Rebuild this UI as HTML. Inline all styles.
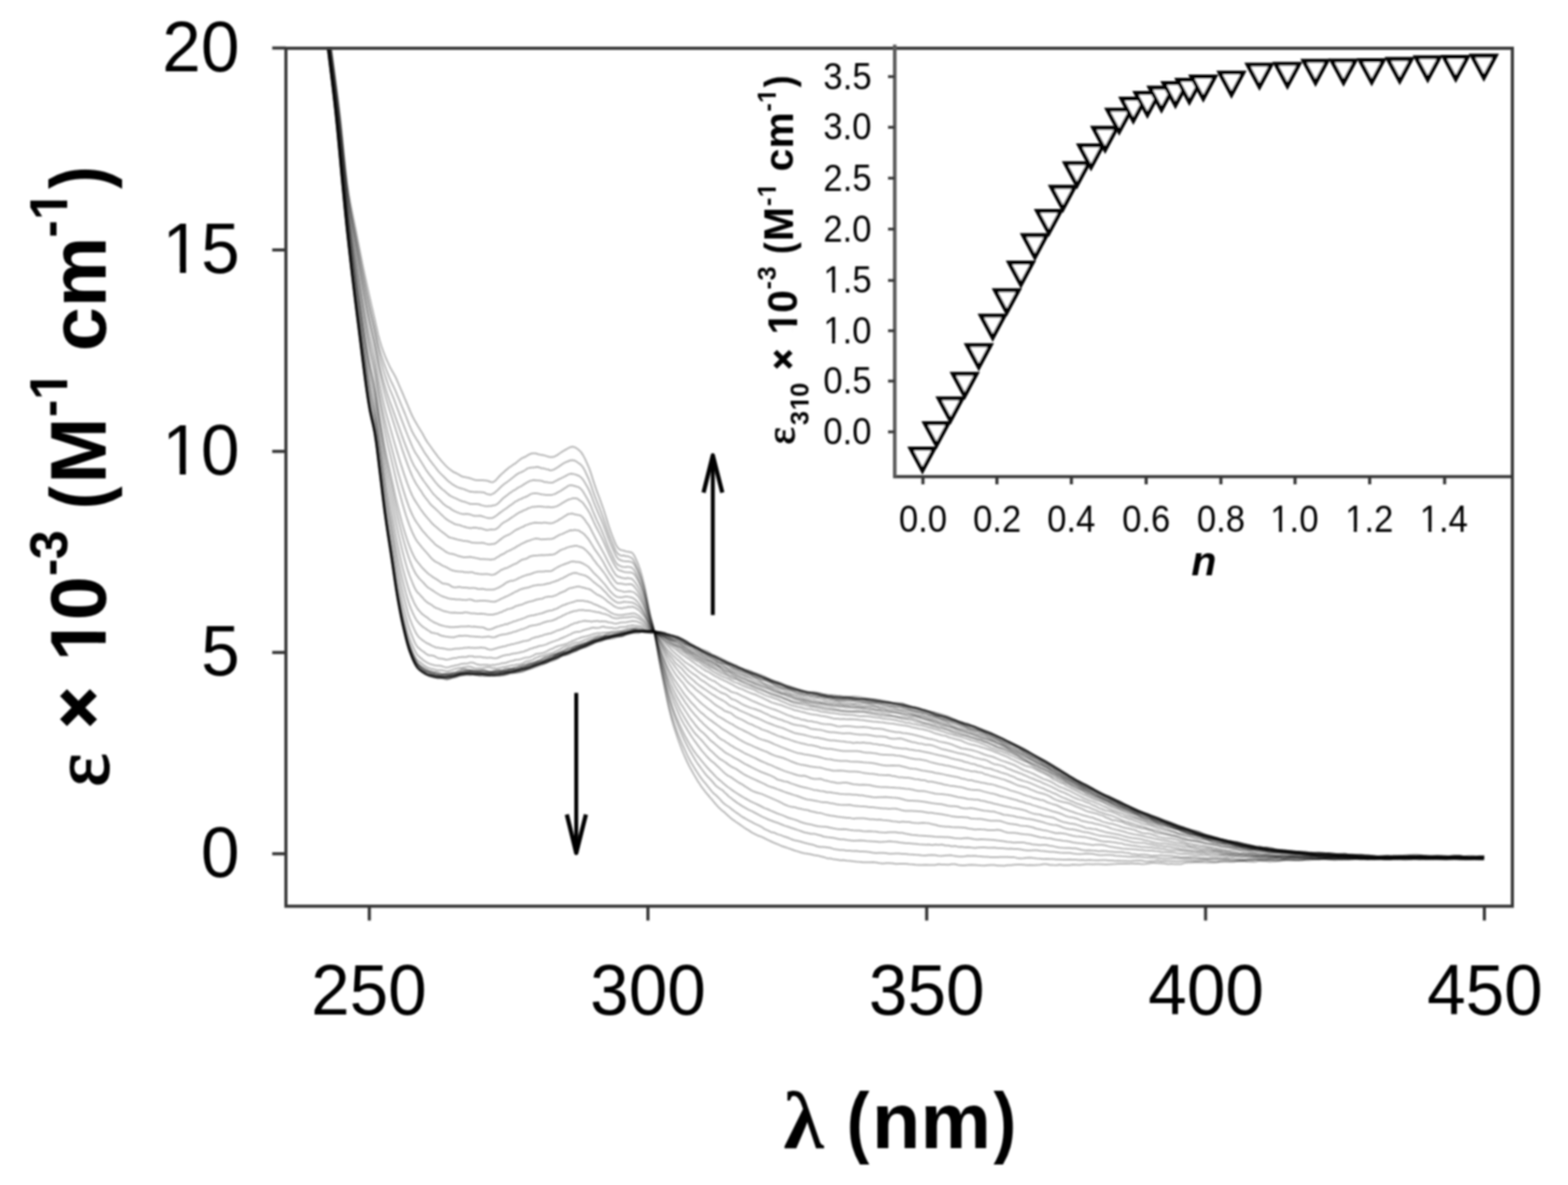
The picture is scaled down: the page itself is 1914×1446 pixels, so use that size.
<!DOCTYPE html>
<html lang="en"><head><meta charset="utf-8"><title>UV-vis titration spectra</title>
<style>
html,body{margin:0;padding:0;background:#fff;}
body{width:1914px;height:1446px;overflow:hidden;}
svg{display:block;}
text{fill:#000;}
</style></head><body>
<svg width="1914" height="1446" viewBox="0 0 1914 1446">
<defs>
<clipPath id="cp"><rect x="349" y="59" width="1497" height="1047"/></clipPath>
<clipPath id="k1"><path clip-rule="evenodd" d="M-3000,-3000H3000V3000H-3000Z M4.87,-7.52H21.63V1.67H4.87Z M29.23,-7.52H45.31V1.67H29.23Z"/></clipPath>
<clipPath id="k2"><path clip-rule="evenodd" d="M-3000,-3000H3000V3000H-3000Z M4.87,-7.52H21.63V1.67H4.87Z M29.23,-7.52H45.31V1.67H29.23Z"/></clipPath>
<clipPath id="k3"><path clip-rule="evenodd" d="M-3000,-3000H3000V3000H-3000Z M2.44,-4.31H10.81V1.58H2.44Z M14.61,-4.31H22.65V1.58H14.61Z"/></clipPath>
<clipPath id="k4"><path clip-rule="evenodd" d="M-3000,-3000H3000V3000H-3000Z M2.44,-4.31H10.81V1.58H2.44Z M14.61,-4.31H22.65V1.58H14.61Z"/></clipPath>
<clipPath id="k5"><path clip-rule="evenodd" d="M-3000,-3000H3000V3000H-3000Z M2.44,-4.31H10.81V1.58H2.44Z M14.61,-4.31H22.65V1.58H14.61Z"/></clipPath>
<clipPath id="k6"><path clip-rule="evenodd" d="M-3000,-3000H3000V3000H-3000Z M2.44,-4.31H10.81V1.58H2.44Z M14.61,-4.31H22.65V1.58H14.61Z"/></clipPath>
<clipPath id="k7"><path clip-rule="evenodd" d="M-3000,-3000H3000V3000H-3000Z M2.44,-4.31H10.81V1.58H2.44Z M14.61,-4.31H22.65V1.58H14.61Z"/></clipPath>
<clipPath id="k8"><path clip-rule="evenodd" d="M-3000,-3000H3000V3000H-3000Z M-802.92,118.40H-784.50V131.09H-802.92Z M-771.19,118.40H-754.00V131.09H-771.19Z M-485.22,74.27H-473.06V83.53H-485.22Z M-464.28,74.27H-452.93V83.53H-464.28Z M-265.72,74.27H-253.56V83.53H-265.72Z M-244.78,74.27H-233.43V83.53H-244.78Z"/></clipPath>
<clipPath id="k9"><path clip-rule="evenodd" d="M-3000,-3000H3000V3000H-3000Z M-499.21,982.40H-493.32V988.22H-499.21Z M-489.07,982.40H-483.57V988.22H-489.07Z M-406.15,967.20H-396.65V975.00H-406.15Z M-389.79,967.20H-380.93V975.00H-389.79Z M-239.11,942.24H-233.22V948.06H-239.11Z M-228.97,942.24H-223.47V948.06H-228.97Z M-124.06,942.24H-118.17V948.06H-124.06Z M-113.92,942.24H-108.42V948.06H-113.92Z"/></clipPath>
<filter id="softc" filterUnits="userSpaceOnUse" x="0" y="0" width="1914" height="1446"><feGaussianBlur stdDeviation="1.0"/></filter>
<filter id="soft" filterUnits="userSpaceOnUse" x="0" y="0" width="1914" height="1446"><feGaussianBlur stdDeviation="0.85"/></filter>
</defs>
<rect width="1914" height="1446" fill="#fff"/>

<g filter="url(#softc)"><g clip-path="url(#cp)" fill="none" stroke="#000" stroke-width="2.0" stroke-opacity="0.3" stroke-linejoin="round">
<path d="M393.7 -19.0L395.7 -4.7L397.7 9.7L399.7 24.2L401.7 38.9L403.7 53.7L405.7 68.6L407.7 83.5L409.7 98.5L411.7 113.8L413.7 129.7L415.7 146.7L417.7 166.0L419.7 186.1L421.7 205.5L423.7 222.7L425.7 236.4L427.7 247.9L429.7 258.0L431.7 267.7L433.7 277.4L435.7 287.7L437.7 298.0L439.7 308.2L441.7 318.2L443.7 327.9L445.7 337.4L447.7 346.8L449.7 355.8L451.7 364.8L453.7 373.5L455.7 382.1L457.7 390.8L459.7 399.8L461.7 408.7L463.7 416.0L465.7 422.6L467.7 428.4L469.7 433.7L471.7 438.5L473.7 442.9L475.7 447.2L477.7 450.9L479.7 454.5L481.7 458.0L483.7 462.0L485.7 466.7L487.7 471.4L489.7 475.9L491.7 480.5L493.7 485.3L495.7 490.0L497.7 494.6L499.7 499.5L501.7 504.3L503.7 508.5L505.7 512.3L507.7 515.7L509.7 519.3L511.7 522.5L513.7 525.7L515.7 529.0L517.7 532.8L519.7 536.4L521.7 539.6L524.2 543.0L526.7 546.5L529.2 550.1L531.7 553.4L534.2 556.9L536.7 559.9L539.2 562.9L541.7 565.6L544.2 568.4L546.7 570.8L549.2 572.8L551.7 574.6L554.2 576.3L556.7 577.3L559.2 578.6L561.7 580.1L564.2 581.6L566.7 582.1L569.2 582.6L571.7 583.0L574.2 583.8L576.7 584.6L579.2 585.5L581.7 586.1L584.2 586.1L586.7 586.0L589.2 586.1L591.7 586.3L594.2 586.5L596.7 587.2L599.2 588.2L601.7 588.4L604.2 587.0L606.7 584.4L609.2 581.5L611.7 579.0L614.2 576.7L616.7 574.4L619.2 572.4L621.7 570.2L624.2 568.8L626.7 566.8L629.2 565.4L631.7 563.2L634.2 561.3L636.7 559.4L639.2 558.2L641.7 557.2L644.2 555.5L646.7 554.2L649.2 553.2L651.7 553.3L654.2 553.3L656.7 554.3L659.2 554.8L661.7 555.2L664.2 555.6L666.7 556.4L669.2 557.2L671.7 557.7L674.2 557.8L676.7 557.2L679.2 555.9L681.7 554.3L684.2 552.5L686.7 550.9L689.2 549.3L691.7 548.0L694.2 546.6L696.7 545.4L699.2 545.1L701.7 545.8L704.2 547.2L706.7 549.2L709.2 551.6L711.7 555.4L714.2 560.1L716.7 565.7L719.2 571.4L721.7 578.6L724.2 586.6L726.7 594.1L729.2 601.1L731.7 607.7L734.2 614.6L736.7 621.5L739.2 629.3L741.7 637.4L744.2 645.2L746.7 652.0L749.2 658.4L751.7 664.5L754.2 668.6L756.7 670.8L759.2 671.4L761.7 672.0L764.2 672.9L766.7 673.3L769.2 673.8L771.7 674.5L774.2 677.9L776.7 683.2L779.2 689.0L781.7 696.2L784.2 704.9L786.7 714.7L789.2 726.8L791.7 740.1L794.2 752.1L796.7 761.6L799.2 772.4L801.7 787.6L804.2 803.2L806.7 816.7L809.2 829.3L811.7 841.7L814.2 854.0L816.7 865.6L819.2 875.4L821.7 884.1L824.2 891.9L826.7 899.4L829.2 906.4L831.7 913.1L834.2 919.3L836.7 925.0L839.2 930.5L841.7 935.5L844.2 940.0L846.7 944.6L849.2 948.7L851.7 953.1L854.2 956.7L856.7 960.7L859.2 963.8L861.7 967.1L864.2 970.0L866.7 973.1L869.2 975.8L871.7 979.0L874.2 981.9L876.7 984.7L879.2 987.0L881.7 989.2L884.2 991.1L886.7 993.4L889.2 995.7L891.7 997.9L894.2 1000.1L896.7 1001.7L899.2 1003.5L901.7 1005.2L905.7 1008.0L909.7 1010.8L913.7 1013.2L917.7 1015.9L921.7 1017.9L925.7 1019.8L929.7 1021.1L933.7 1023.1L937.7 1025.2L941.7 1027.0L945.7 1028.8L949.7 1030.4L953.7 1032.2L957.7 1033.5L961.7 1034.9L965.7 1036.2L969.7 1037.7L973.7 1038.9L977.7 1040.3L981.7 1041.2L985.7 1041.7L989.7 1042.5L993.7 1043.4L997.7 1043.9L1001.7 1045.0L1005.7 1045.9L1009.7 1047.4L1013.7 1047.5L1017.7 1048.6L1021.7 1048.9L1025.7 1049.8L1029.7 1049.6L1033.7 1050.2L1037.7 1050.5L1041.7 1051.1L1045.7 1051.5L1049.7 1051.8L1053.7 1052.3L1057.7 1052.3L1061.7 1052.2L1065.7 1052.1L1069.7 1052.6L1073.7 1053.3L1077.7 1053.7L1081.7 1053.2L1085.7 1053.2L1089.7 1053.5L1093.7 1054.2L1097.7 1054.1L1101.7 1054.0L1105.7 1054.1L1109.7 1054.6L1113.7 1054.7L1117.7 1055.3L1121.7 1055.4L1125.7 1055.4L1129.7 1055.3L1133.7 1055.5L1137.7 1055.6L1141.7 1055.4L1145.7 1054.6L1149.7 1055.0L1153.7 1055.1L1157.7 1055.2L1161.7 1054.5L1165.7 1054.6L1169.7 1055.4L1173.7 1055.9L1177.7 1056.1L1181.7 1055.6L1185.7 1055.3L1189.7 1055.4L1193.7 1055.8L1197.7 1056.1L1201.7 1056.2L1205.7 1055.8L1209.7 1055.6L1213.7 1055.5L1217.7 1056.2L1221.7 1056.2L1225.7 1056.4L1229.7 1055.7L1233.7 1055.7L1237.7 1055.2L1241.7 1055.0L1245.7 1054.9L1249.7 1055.3L1253.7 1055.7L1257.7 1055.6L1261.7 1055.8L1265.7 1055.5L1269.7 1055.2L1273.7 1054.6L1277.7 1054.6L1281.7 1055.4L1285.7 1055.6L1289.7 1055.7L1293.7 1055.1L1297.7 1055.8L1301.7 1055.8L1305.7 1055.7L1309.7 1055.0L1313.7 1055.2L1317.7 1055.4L1321.7 1055.1L1325.7 1054.5L1329.7 1054.6L1333.7 1054.7L1337.7 1054.5L1341.7 1054.6L1345.7 1054.8L1349.7 1055.1L1353.7 1054.7L1357.7 1054.5L1361.7 1054.3L1365.7 1054.0L1369.7 1053.9L1373.7 1053.7L1377.7 1054.1L1381.7 1053.6L1385.7 1053.9L1389.7 1053.7L1393.7 1054.5L1397.7 1054.2L1401.7 1053.8L1405.7 1053.1L1409.7 1053.0L1413.7 1053.2L1417.7 1053.4L1421.7 1053.8L1425.7 1054.4L1429.7 1054.0L1433.7 1054.4L1437.7 1054.4L1441.7 1054.5L1445.7 1053.1L1449.7 1052.4L1453.7 1052.4L1457.7 1052.3L1461.7 1052.2L1465.7 1052.0L1469.7 1052.3L1473.7 1052.4L1477.7 1052.6L1481.7 1052.5L1485.7 1052.3L1489.7 1051.8L1493.7 1051.6L1497.7 1051.5L1501.7 1051.7L1505.7 1051.7L1509.7 1051.0L1513.7 1051.0L1517.7 1050.6L1521.7 1051.2L1525.7 1051.4L1529.7 1051.8L1533.7 1051.4L1537.7 1050.4L1541.7 1050.7L1545.7 1050.9L1549.7 1051.4L1553.7 1051.2L1557.7 1051.1L1561.7 1050.8L1565.7 1050.1L1569.7 1049.2L1573.7 1048.7L1577.7 1048.8L1581.7 1049.4L1585.7 1049.7L1589.7 1049.6L1593.7 1049.5L1597.7 1049.4L1601.7 1049.1L1605.7 1048.8L1609.7 1048.1L1613.7 1048.5L1617.7 1048.5L1621.7 1048.9L1625.7 1049.0L1629.7 1049.2L1633.7 1049.0L1637.7 1048.7L1641.7 1048.0L1645.7 1048.0L1649.7 1047.8L1653.7 1047.7L1657.7 1047.9L1661.7 1047.6L1665.7 1048.1L1669.7 1047.6L1673.7 1048.0L1677.7 1048.1L1681.7 1047.9L1685.7 1047.1L1689.7 1046.6L1693.7 1047.0L1697.7 1047.2L1701.7 1047.0L1705.7 1046.8L1709.7 1046.1L1713.7 1046.1L1717.7 1045.5L1721.7 1046.3L1725.7 1046.2L1729.7 1046.3L1733.7 1046.1L1737.7 1045.9L1741.7 1046.1L1745.7 1046.0L1749.7 1046.3L1753.7 1046.1L1757.7 1046.5L1761.7 1046.6L1765.7 1046.9L1769.7 1046.7L1773.7 1046.5L1777.7 1046.5L1781.7 1046.5L1785.7 1046.8L1789.7 1046.5L1793.7 1046.3L1797.7 1046.4L1801.7 1047.1L1805.7 1047.0L1809.7 1046.9L1811.5 1046.3"/>
<path d="M393.3 -17.6L395.3 -3.2L397.3 11.3L399.3 26.0L401.3 40.9L403.3 55.8L405.3 70.8L407.3 85.6L409.3 100.8L411.3 116.4L413.3 132.6L415.3 149.9L417.3 169.3L419.3 189.5L421.3 209.0L423.3 226.3L425.3 240.3L427.3 252.2L429.3 262.9L431.3 273.0L433.3 283.1L435.3 293.7L437.3 304.2L439.3 314.7L441.3 325.1L443.3 335.3L445.3 345.3L447.3 354.9L449.3 364.3L451.3 373.4L453.3 382.2L455.3 390.8L457.3 399.4L459.3 408.8L461.3 418.0L463.3 426.0L465.3 433.0L467.3 439.3L469.3 445.2L471.3 450.5L473.3 455.7L475.3 460.6L477.3 465.2L479.3 469.3L481.3 473.6L483.3 478.2L485.3 483.1L487.3 487.9L489.3 492.8L491.3 497.7L493.3 502.5L495.3 507.5L497.3 512.6L499.3 517.8L501.3 522.6L503.3 527.0L505.3 530.8L507.3 534.1L509.3 537.4L511.3 540.4L513.3 543.9L515.3 547.2L517.3 550.7L519.3 553.9L521.3 556.7L523.8 560.3L526.3 563.6L528.8 566.8L531.3 570.0L533.8 573.4L536.3 576.4L538.8 578.9L541.3 581.3L543.8 583.7L546.3 586.4L548.8 588.3L551.3 590.3L553.8 591.8L556.3 593.4L558.8 594.6L561.3 595.5L563.8 596.2L566.3 596.9L568.8 598.0L571.3 598.9L573.8 600.0L576.3 600.1L578.8 600.4L581.3 600.3L583.8 600.6L586.3 600.5L588.8 600.8L591.3 601.1L593.8 602.6L596.3 603.2L598.8 603.8L601.3 602.7L603.8 601.3L606.3 599.1L608.8 596.7L611.3 594.3L613.8 592.0L616.3 590.0L618.8 588.3L621.3 586.5L623.8 584.5L626.3 582.5L628.8 580.4L631.3 578.7L633.8 577.1L636.3 576.2L638.8 575.0L641.3 573.5L643.8 571.6L646.3 570.9L648.8 570.6L651.3 570.6L653.8 570.0L656.3 569.8L658.8 570.5L661.3 571.5L663.8 571.5L666.3 572.4L668.8 572.7L671.3 574.0L673.8 573.8L676.3 572.9L678.8 571.4L681.3 569.8L683.8 568.1L686.3 566.4L688.8 564.9L691.3 563.7L693.8 562.7L696.3 561.7L698.8 561.4L701.3 561.9L703.8 563.3L706.3 565.2L708.8 566.8L711.3 569.8L713.8 574.1L716.3 579.5L718.8 585.0L721.3 591.6L723.8 599.1L726.3 606.2L728.8 612.4L731.3 618.7L733.8 625.0L736.3 631.8L738.8 639.0L741.3 646.3L743.8 653.2L746.3 659.5L748.8 665.7L751.3 671.5L753.8 675.4L756.3 677.1L758.8 678.2L761.3 677.8L763.8 678.7L766.3 678.7L768.8 679.8L771.3 680.9L773.8 684.1L776.3 689.1L778.8 694.6L781.3 701.3L783.8 709.3L786.3 718.5L788.8 729.7L791.3 742.2L793.8 753.4L796.3 762.4L798.8 772.4L801.3 786.7L803.8 801.3L806.3 813.8L808.8 825.6L811.3 837.3L813.8 848.9L816.3 859.7L818.8 869.0L821.3 877.4L823.8 885.0L826.3 892.1L828.8 898.7L831.3 904.6L833.8 910.3L836.3 915.6L838.8 921.1L841.3 926.1L843.8 930.7L846.3 934.7L848.8 938.9L851.3 942.8L853.8 946.6L856.3 950.1L858.8 953.3L861.3 956.2L863.8 959.3L866.3 962.4L868.8 965.6L871.3 968.2L873.8 970.3L876.3 972.7L878.8 975.1L881.3 978.2L883.8 980.4L886.3 982.5L888.8 984.0L891.3 985.8L893.8 987.9L896.3 989.8L898.8 991.7L901.3 993.2L905.3 996.3L909.3 998.5L913.3 1000.9L917.3 1002.9L921.3 1005.1L925.3 1006.8L929.3 1008.8L933.3 1011.6L937.3 1013.4L941.3 1015.4L945.3 1016.1L949.3 1018.1L953.3 1019.1L957.3 1020.8L961.3 1022.0L965.3 1023.7L969.3 1025.2L973.3 1026.0L977.3 1027.0L981.3 1028.3L985.3 1029.3L989.3 1030.2L993.3 1031.1L997.3 1032.7L1001.3 1033.6L1005.3 1033.5L1009.3 1033.9L1013.3 1034.5L1017.3 1035.9L1021.3 1036.6L1025.3 1037.2L1029.3 1037.3L1033.3 1038.0L1037.3 1038.0L1041.3 1038.4L1045.3 1038.3L1049.3 1039.0L1053.3 1039.0L1057.3 1039.2L1061.3 1039.7L1065.3 1040.4L1069.3 1041.0L1073.3 1040.7L1077.3 1040.8L1081.3 1041.1L1085.3 1041.8L1089.3 1041.8L1093.3 1041.5L1097.3 1041.4L1101.3 1041.9L1105.3 1042.1L1109.3 1042.6L1113.3 1042.7L1117.3 1043.1L1121.3 1043.2L1125.3 1043.7L1129.3 1043.9L1133.3 1043.5L1137.3 1043.2L1141.3 1043.5L1145.3 1044.2L1149.3 1044.5L1153.3 1044.1L1157.3 1043.8L1161.3 1043.6L1165.3 1044.6L1169.3 1045.1L1173.3 1045.2L1177.3 1044.9L1181.3 1044.2L1185.3 1044.4L1189.3 1044.2L1193.3 1044.8L1197.3 1044.9L1201.3 1045.5L1205.3 1045.5L1209.3 1045.9L1213.3 1045.9L1217.3 1045.9L1221.3 1045.7L1225.3 1045.7L1229.3 1045.7L1233.3 1045.9L1237.3 1045.9L1241.3 1046.9L1245.3 1047.4L1249.3 1047.3L1253.3 1046.7L1257.3 1046.5L1261.3 1047.1L1265.3 1047.6L1269.3 1047.8L1273.3 1048.2L1277.3 1048.1L1281.3 1048.3L1285.3 1048.3L1289.3 1048.7L1293.3 1048.8L1297.3 1048.9L1301.3 1048.9L1305.3 1048.8L1309.3 1049.0L1313.3 1049.0L1317.3 1049.5L1321.3 1049.2L1325.3 1049.7L1329.3 1049.3L1333.3 1049.6L1337.3 1049.7L1341.3 1049.7L1345.3 1049.5L1349.3 1049.4L1353.3 1050.1L1357.3 1050.1L1361.3 1050.5L1365.3 1050.3L1369.3 1050.5L1373.3 1050.4L1377.3 1050.7L1381.3 1050.6L1385.3 1050.2L1389.3 1049.9L1393.3 1050.1L1397.3 1051.0L1401.3 1051.3L1405.3 1050.8L1409.3 1050.6L1413.3 1050.1L1417.3 1051.0L1421.3 1050.6L1425.3 1050.7L1429.3 1050.7L1433.3 1051.0L1437.3 1051.3L1441.3 1050.9L1445.3 1050.6L1449.3 1050.4L1453.3 1050.6L1457.3 1051.0L1461.3 1051.0L1465.3 1050.4L1469.3 1050.3L1473.3 1050.2L1477.3 1051.0L1481.3 1051.5L1485.3 1051.6L1489.3 1050.8L1493.3 1050.5L1497.3 1050.2L1501.3 1050.7L1505.3 1050.3L1509.3 1050.7L1513.3 1050.8L1517.3 1050.8L1521.3 1050.8L1525.3 1050.1L1529.3 1050.0L1533.3 1049.2L1537.3 1049.7L1541.3 1049.9L1545.3 1049.7L1549.3 1049.6L1553.3 1049.7L1557.3 1050.4L1561.3 1049.8L1565.3 1049.2L1569.3 1049.2L1573.3 1049.6L1577.3 1049.7L1581.3 1049.5L1585.3 1049.6L1589.3 1049.2L1593.3 1048.7L1597.3 1048.3L1601.3 1048.7L1605.3 1048.4L1609.3 1048.6L1613.3 1047.6L1617.3 1047.7L1621.3 1048.0L1625.3 1048.9L1629.3 1049.3L1633.3 1048.9L1637.3 1048.6L1641.3 1047.8L1645.3 1047.5L1649.3 1047.9L1653.3 1048.1L1657.3 1048.3L1661.3 1048.0L1665.3 1047.9L1669.3 1048.0L1673.3 1047.2L1677.3 1047.5L1681.3 1047.2L1685.3 1047.8L1689.3 1047.4L1693.3 1046.7L1697.3 1046.8L1701.3 1046.8L1705.3 1047.4L1709.3 1047.1L1713.3 1047.0L1717.3 1047.5L1721.3 1047.3L1725.3 1047.2L1729.3 1046.4L1733.3 1046.5L1737.3 1046.4L1741.3 1046.4L1745.3 1046.2L1749.3 1046.3L1753.3 1046.3L1757.3 1046.3L1761.3 1046.1L1765.3 1046.5L1769.3 1046.9L1773.3 1047.3L1777.3 1047.2L1781.3 1047.1L1785.3 1046.9L1789.3 1046.3L1793.3 1046.5L1797.3 1046.4L1801.3 1047.1L1805.3 1046.7L1809.3 1046.5L1811.1 1046.2"/>
<path d="M393.9 -16.3L395.9 -1.7L397.9 12.9L399.9 27.7L401.9 42.7L403.9 57.7L405.9 72.9L407.9 87.8L409.9 103.2L411.9 119.1L413.9 135.7L415.9 153.3L417.9 172.8L419.9 193.0L421.9 212.5L423.9 230.0L425.9 244.4L427.9 256.6L429.9 267.7L431.9 278.2L433.9 288.8L435.9 299.7L437.9 310.6L439.9 321.6L441.9 332.4L443.9 343.1L445.9 353.6L447.9 363.6L449.9 373.2L451.9 382.2L453.9 390.9L455.9 399.5L457.9 408.4L459.9 418.2L461.9 428.0L463.9 436.7L465.9 444.2L467.9 451.3L469.9 457.7L471.9 463.9L473.9 469.8L475.9 475.1L477.9 479.9L479.9 484.7L481.9 489.9L483.9 495.3L485.9 500.7L487.9 506.1L489.9 511.4L491.9 516.7L493.9 521.9L495.9 527.0L497.9 532.0L499.9 536.9L501.9 541.7L503.9 546.4L505.9 550.4L507.9 553.7L509.9 556.7L511.9 560.0L513.9 563.2L515.9 566.5L517.9 569.8L519.9 573.1L521.9 575.8L524.4 579.3L526.9 582.4L529.4 585.7L531.9 588.8L534.4 591.7L536.9 594.3L539.4 596.7L541.9 598.5L544.4 600.8L546.9 602.9L549.4 604.9L551.9 606.2L554.4 607.4L556.9 608.4L559.4 609.7L561.9 610.8L564.4 611.7L566.9 612.3L569.4 613.1L571.9 614.2L574.4 615.0L576.9 615.1L579.4 615.1L581.9 614.9L584.4 615.3L586.9 616.2L589.4 616.9L591.9 617.5L594.4 617.8L596.9 617.6L599.4 617.5L601.9 616.8L604.4 616.5L606.9 615.1L609.4 612.9L611.9 610.3L614.4 607.8L616.9 605.9L619.4 604.0L621.9 601.9L624.4 600.3L626.9 598.5L629.4 597.3L631.9 595.4L634.4 594.2L636.9 592.8L639.4 591.2L641.9 589.6L644.4 588.2L646.9 586.9L649.4 586.2L651.9 585.8L654.4 586.2L656.9 586.3L659.4 586.6L661.9 587.0L664.4 588.2L666.9 588.2L669.4 588.8L671.9 588.9L674.4 589.1L676.9 587.7L679.4 586.3L681.9 585.0L684.4 583.8L686.9 582.6L689.4 581.3L691.9 580.0L694.4 578.6L696.9 578.0L699.4 578.2L701.9 578.9L704.4 579.8L706.9 580.8L709.4 582.7L711.9 585.6L714.4 589.7L716.9 594.0L719.4 599.0L721.9 605.0L724.4 611.9L726.9 618.1L729.4 624.0L731.9 629.8L734.4 635.6L736.9 641.7L739.4 648.3L741.9 655.2L744.4 661.7L746.9 667.3L749.4 672.9L751.9 678.3L754.4 681.6L756.9 683.3L759.4 684.2L761.9 684.7L764.4 685.0L766.9 685.0L769.4 685.4L771.9 686.2L774.4 689.2L776.9 694.2L779.4 699.6L781.9 705.8L784.4 713.3L786.9 721.8L789.4 732.4L791.9 743.9L794.4 754.4L796.9 762.6L799.4 772.3L801.9 785.4L804.4 799.1L806.9 810.8L809.4 822.0L811.9 832.9L814.4 843.6L816.9 853.6L819.4 862.1L821.9 869.9L824.4 876.9L826.9 883.4L829.4 889.5L831.9 895.3L834.4 901.0L836.9 906.3L839.4 911.3L841.9 915.8L844.4 920.1L846.9 924.3L849.4 928.5L851.9 932.2L854.4 935.7L856.9 939.0L859.4 942.4L861.9 945.6L864.4 948.3L866.9 950.8L869.4 953.5L871.9 956.5L874.4 959.3L876.9 961.0L879.4 962.9L881.9 964.2L884.4 966.9L886.9 969.0L889.4 971.7L891.9 973.5L894.4 975.6L896.9 977.4L899.4 979.4L901.9 980.9L905.9 983.6L909.9 985.9L913.9 988.1L917.9 989.9L921.9 992.0L925.9 994.1L929.9 996.3L933.9 998.2L937.9 1000.0L941.9 1001.5L945.9 1003.0L949.9 1004.3L953.9 1006.0L957.9 1007.6L961.9 1008.8L965.9 1010.2L969.9 1011.5L973.9 1012.9L977.9 1014.2L981.9 1015.8L985.9 1016.5L989.9 1017.4L993.9 1017.4L997.9 1018.5L1001.9 1019.5L1005.9 1021.0L1009.9 1021.5L1013.9 1021.9L1017.9 1022.6L1021.9 1023.4L1025.9 1024.3L1029.9 1024.2L1033.9 1025.0L1037.9 1025.4L1041.9 1026.0L1045.9 1025.7L1049.9 1025.6L1053.9 1025.8L1057.9 1026.3L1061.9 1026.5L1065.9 1026.7L1069.9 1026.9L1073.9 1027.5L1077.9 1027.2L1081.9 1027.0L1085.9 1026.4L1089.9 1027.0L1093.9 1027.2L1097.9 1028.0L1101.9 1028.5L1105.9 1029.1L1109.9 1029.1L1113.9 1029.4L1117.9 1029.8L1121.9 1030.3L1125.9 1030.4L1129.9 1030.7L1133.9 1030.5L1137.9 1031.2L1141.9 1030.4L1145.9 1030.9L1149.9 1030.5L1153.9 1031.7L1157.9 1031.7L1161.9 1032.7L1165.9 1032.3L1169.9 1033.4L1173.9 1033.3L1177.9 1033.9L1181.9 1033.7L1185.9 1034.3L1189.9 1034.7L1193.9 1034.2L1197.9 1034.1L1201.9 1034.1L1205.9 1034.4L1209.9 1034.5L1213.9 1034.2L1217.9 1034.9L1221.9 1035.0L1225.9 1035.3L1229.9 1035.7L1233.9 1035.5L1237.9 1036.0L1241.9 1035.9L1245.9 1036.4L1249.9 1037.2L1253.9 1037.7L1257.9 1037.8L1261.9 1037.5L1265.9 1037.6L1269.9 1038.2L1273.9 1038.6L1277.9 1039.1L1281.9 1039.4L1285.9 1039.5L1289.9 1039.9L1293.9 1040.5L1297.9 1040.7L1301.9 1040.8L1305.9 1040.8L1309.9 1041.6L1313.9 1042.1L1317.9 1042.2L1321.9 1042.1L1325.9 1041.6L1329.9 1041.7L1333.9 1041.9L1337.9 1042.7L1341.9 1043.4L1345.9 1043.6L1349.9 1043.2L1353.9 1043.3L1357.9 1043.5L1361.9 1044.2L1365.9 1044.4L1369.9 1044.8L1373.9 1045.1L1377.9 1045.5L1381.9 1045.3L1385.9 1045.6L1389.9 1045.5L1393.9 1045.8L1397.9 1046.2L1401.9 1046.6L1405.9 1046.5L1409.9 1046.5L1413.9 1046.9L1417.9 1047.6L1421.9 1047.4L1425.9 1047.4L1429.9 1047.2L1433.9 1047.1L1437.9 1047.5L1441.9 1047.6L1445.9 1047.8L1449.9 1047.4L1453.9 1048.1L1457.9 1048.5L1461.9 1048.6L1465.9 1048.2L1469.9 1048.2L1473.9 1048.6L1477.9 1048.2L1481.9 1048.4L1485.9 1048.2L1489.9 1048.5L1493.9 1048.2L1497.9 1048.5L1501.9 1049.2L1505.9 1049.5L1509.9 1049.5L1513.9 1048.8L1517.9 1049.0L1521.9 1049.1L1525.9 1049.0L1529.9 1048.8L1533.9 1048.9L1537.9 1048.8L1541.9 1048.9L1545.9 1048.9L1549.9 1048.9L1553.9 1048.9L1557.9 1048.8L1561.9 1049.4L1565.9 1049.2L1569.9 1049.4L1573.9 1049.2L1577.9 1049.8L1581.9 1049.7L1585.9 1049.6L1589.9 1049.4L1593.9 1048.5L1597.9 1048.0L1601.9 1047.5L1605.9 1047.8L1609.9 1048.4L1613.9 1048.1L1617.9 1048.1L1621.9 1047.5L1625.9 1047.5L1629.9 1048.0L1633.9 1048.3L1637.9 1049.1L1641.9 1049.0L1645.9 1048.7L1649.9 1047.7L1653.9 1047.9L1657.9 1048.1L1661.9 1048.2L1665.9 1047.8L1669.9 1048.0L1673.9 1048.0L1677.9 1047.7L1681.9 1047.7L1685.9 1047.8L1689.9 1048.0L1693.9 1047.8L1697.9 1047.6L1701.9 1047.5L1705.9 1047.6L1709.9 1047.9L1713.9 1047.6L1717.9 1047.5L1721.9 1046.8L1725.9 1047.3L1729.9 1046.9L1733.9 1047.3L1737.9 1046.6L1741.9 1047.1L1745.9 1047.2L1749.9 1047.0L1753.9 1046.8L1757.9 1046.1L1761.9 1046.9L1765.9 1046.9L1769.9 1046.9L1773.9 1046.3L1777.9 1046.8L1781.9 1047.6L1785.9 1048.1L1789.9 1047.6L1793.9 1047.1L1797.9 1047.2L1801.9 1047.2L1805.9 1047.2L1809.9 1046.5L1811.7 1046.7"/>
<path d="M393.2 -14.8L395.2 -0.1L397.2 14.7L399.2 29.6L401.2 44.6L403.2 59.6L405.2 74.8L407.2 90.0L409.2 105.5L411.2 121.6L413.2 138.5L415.2 156.3L417.2 176.0L419.2 196.2L421.2 215.9L423.2 233.5L425.2 248.0L427.2 260.5L429.2 272.0L431.2 283.0L433.2 294.0L435.2 305.4L437.2 316.7L439.2 327.9L441.2 339.1L443.2 350.0L445.2 360.7L447.2 371.1L449.2 381.0L451.2 390.3L453.2 399.0L455.2 407.7L457.2 416.7L459.2 426.6L461.2 436.8L463.2 446.0L465.2 454.1L467.2 461.8L469.2 469.0L471.2 475.8L473.2 482.2L475.2 488.0L477.2 493.6L479.2 499.2L481.2 504.9L483.2 510.6L485.2 516.2L487.2 521.8L489.2 527.5L491.2 533.1L493.2 538.7L495.2 543.8L497.2 549.1L499.2 554.2L501.2 559.3L503.2 563.9L505.2 568.0L507.2 571.3L509.2 574.4L511.2 577.5L513.2 581.0L515.2 583.9L517.2 587.0L519.2 589.5L521.2 592.3L523.7 595.6L526.2 599.0L528.7 602.5L531.2 604.9L533.7 607.6L536.2 609.6L538.7 612.3L541.2 614.9L543.7 616.8L546.2 618.5L548.7 619.6L551.2 621.6L553.7 623.2L556.2 624.4L558.7 625.4L561.2 626.4L563.7 627.1L566.2 627.4L568.7 627.1L571.2 627.3L573.7 627.7L576.2 628.6L578.7 629.5L581.2 629.4L583.7 629.6L586.2 629.3L588.7 630.0L591.2 630.9L593.7 631.6L596.2 632.2L598.7 632.2L601.2 632.1L603.7 630.7L606.2 629.0L608.7 626.9L611.2 625.1L613.7 623.2L616.2 621.5L618.7 619.9L621.2 617.8L623.7 616.2L626.2 614.4L628.7 612.3L631.2 611.1L633.7 609.6L636.2 608.8L638.7 607.4L641.2 606.5L643.7 605.5L646.2 603.8L648.7 602.6L651.2 601.9L653.7 601.9L656.2 602.1L658.7 602.7L661.2 603.2L663.7 603.6L666.2 603.9L668.7 604.1L671.2 604.0L673.7 603.9L676.2 603.1L678.7 602.2L681.2 600.6L683.7 599.3L686.2 597.9L688.7 596.1L691.2 594.6L693.7 592.7L696.2 592.1L698.7 592.2L701.2 593.0L703.7 593.8L706.2 594.4L708.7 596.2L711.2 599.1L713.7 603.2L716.2 607.5L718.7 612.0L721.2 617.3L723.7 623.6L726.2 629.5L728.7 635.1L731.2 640.3L733.7 645.7L736.2 651.5L738.7 657.7L741.2 664.1L743.7 670.1L746.2 675.4L748.7 680.7L751.2 685.5L753.7 688.9L756.2 690.1L758.7 691.5L761.2 691.8L763.7 691.9L766.2 691.4L768.7 692.1L771.2 692.6L773.7 695.1L776.2 699.2L778.7 704.3L781.2 710.3L783.7 717.5L786.2 725.3L788.7 735.3L791.2 746.0L793.7 755.7L796.2 763.3L798.7 772.1L801.2 784.5L803.7 797.1L806.2 808.1L808.7 818.4L811.2 828.6L813.7 838.7L816.2 848.1L818.7 856.1L821.2 863.5L823.7 870.3L826.2 876.5L828.7 882.2L831.2 887.7L833.7 893.0L836.2 898.0L838.7 902.5L841.2 906.9L843.7 911.0L846.2 915.2L848.7 918.7L851.2 922.0L853.7 924.9L856.2 928.1L858.7 931.2L861.2 934.1L863.7 937.0L866.2 939.7L868.7 942.3L871.2 945.0L873.7 947.6L876.2 950.1L878.7 952.1L881.2 954.2L883.7 956.4L886.2 958.6L888.7 960.5L891.2 962.3L893.7 964.1L896.2 965.9L898.7 967.5L901.2 969.1L905.2 971.6L909.2 974.0L913.2 976.2L917.2 978.4L921.2 980.2L925.2 982.0L929.2 984.0L933.2 986.1L937.2 987.5L941.2 989.3L945.2 991.0L949.2 992.8L953.2 994.1L957.2 995.6L961.2 997.5L965.2 998.7L969.2 999.9L973.2 1001.2L977.2 1003.0L981.2 1004.3L985.2 1005.3L989.2 1005.9L993.2 1007.0L997.2 1008.0L1001.2 1008.5L1005.2 1008.7L1009.2 1009.0L1013.2 1009.9L1017.2 1010.8L1021.2 1011.5L1025.2 1012.0L1029.2 1011.8L1033.2 1012.1L1037.2 1012.7L1041.2 1013.2L1045.2 1013.6L1049.2 1013.5L1053.2 1014.2L1057.2 1014.5L1061.2 1014.3L1065.2 1014.6L1069.2 1014.8L1073.2 1015.5L1077.2 1015.8L1081.2 1015.9L1085.2 1015.5L1089.2 1015.5L1093.2 1015.4L1097.2 1016.2L1101.2 1016.3L1105.2 1017.2L1109.2 1017.9L1113.2 1018.7L1117.2 1018.9L1121.2 1019.5L1125.2 1019.7L1129.2 1020.0L1133.2 1020.3L1137.2 1020.6L1141.2 1021.1L1145.2 1021.2L1149.2 1021.2L1153.2 1021.4L1157.2 1021.4L1161.2 1022.1L1165.2 1022.8L1169.2 1023.1L1173.2 1023.3L1177.2 1022.8L1181.2 1022.6L1185.2 1023.2L1189.2 1023.9L1193.2 1024.4L1197.2 1024.1L1201.2 1024.2L1205.2 1024.4L1209.2 1024.7L1213.2 1025.0L1217.2 1025.5L1221.2 1025.9L1225.2 1026.5L1229.2 1027.2L1233.2 1027.6L1237.2 1028.2L1241.2 1027.9L1245.2 1027.9L1249.2 1027.9L1253.2 1029.0L1257.2 1029.5L1261.2 1030.6L1265.2 1030.8L1269.2 1031.3L1273.2 1031.1L1277.2 1031.1L1281.2 1031.9L1285.2 1032.4L1289.2 1033.6L1293.2 1034.2L1297.2 1034.6L1301.2 1034.8L1305.2 1034.7L1309.2 1035.2L1313.2 1035.3L1317.2 1036.3L1321.2 1037.3L1325.2 1037.7L1329.2 1037.4L1333.2 1037.8L1337.2 1038.1L1341.2 1038.7L1345.2 1038.2L1349.2 1038.4L1353.2 1039.0L1357.2 1039.3L1361.2 1039.8L1365.2 1039.7L1369.2 1039.7L1373.2 1040.4L1377.2 1040.7L1381.2 1041.9L1385.2 1042.3L1389.2 1042.9L1393.2 1042.7L1397.2 1042.8L1401.2 1043.3L1405.2 1044.2L1409.2 1044.0L1413.2 1044.0L1417.2 1043.6L1421.2 1044.0L1425.2 1044.0L1429.2 1044.2L1433.2 1044.8L1437.2 1045.2L1441.2 1046.2L1445.2 1045.9L1449.2 1046.0L1453.2 1045.7L1457.2 1046.0L1461.2 1046.4L1465.2 1046.9L1469.2 1047.2L1473.2 1047.5L1477.2 1047.5L1481.2 1047.3L1485.2 1047.2L1489.2 1047.2L1493.2 1047.5L1497.2 1047.3L1501.2 1047.4L1505.2 1047.1L1509.2 1048.1L1513.2 1049.0L1517.2 1049.5L1521.2 1048.8L1525.2 1047.9L1529.2 1047.8L1533.2 1047.7L1537.2 1048.2L1541.2 1048.0L1545.2 1048.4L1549.2 1048.2L1553.2 1048.3L1557.2 1047.7L1561.2 1048.3L1565.2 1047.9L1569.2 1047.9L1573.2 1047.1L1577.2 1047.8L1581.2 1047.9L1585.2 1048.0L1589.2 1047.9L1593.2 1047.9L1597.2 1047.9L1601.2 1047.8L1605.2 1048.2L1609.2 1048.3L1613.2 1048.3L1617.2 1048.2L1621.2 1048.6L1625.2 1048.0L1629.2 1048.3L1633.2 1047.5L1637.2 1048.0L1641.2 1048.5L1645.2 1049.0L1649.2 1048.9L1653.2 1048.2L1657.2 1047.6L1661.2 1047.7L1665.2 1047.5L1669.2 1047.7L1673.2 1047.4L1677.2 1047.3L1681.2 1047.2L1685.2 1047.4L1689.2 1047.7L1693.2 1047.4L1697.2 1047.5L1701.2 1047.0L1705.2 1047.1L1709.2 1046.8L1713.2 1046.9L1717.2 1047.5L1721.2 1047.3L1725.2 1047.5L1729.2 1046.7L1733.2 1047.0L1737.2 1046.7L1741.2 1047.0L1745.2 1047.2L1749.2 1047.6L1753.2 1047.5L1757.2 1047.5L1761.2 1047.2L1765.2 1046.8L1769.2 1046.4L1773.2 1046.5L1777.2 1046.7L1781.2 1046.7L1785.2 1046.8L1789.2 1046.7L1793.2 1047.5L1797.2 1047.5L1801.2 1047.3L1805.2 1046.6L1809.2 1045.9L1811.0 1046.3"/>
<path d="M393.9 -13.5L395.9 1.3L397.9 16.2L399.9 31.3L401.9 46.4L403.9 61.6L405.9 76.9L407.9 92.2L409.9 107.9L411.9 124.3L413.9 141.4L415.9 159.5L417.9 179.3L419.9 199.7L421.9 219.4L423.9 237.1L425.9 251.9L427.9 264.8L429.9 276.8L431.9 288.2L433.9 299.7L435.9 311.4L437.9 323.0L439.9 334.7L441.9 346.3L443.9 357.8L445.9 368.8L447.9 379.3L449.9 389.3L451.9 398.9L453.9 407.9L455.9 416.5L457.9 425.5L459.9 435.6L461.9 446.4L463.9 456.2L465.9 465.1L467.9 473.5L469.9 481.4L471.9 488.4L473.9 495.1L475.9 501.4L477.9 507.7L479.9 514.1L481.9 520.5L483.9 526.7L485.9 532.9L487.9 538.9L489.9 545.2L491.9 551.1L493.9 556.9L495.9 562.3L497.9 567.8L499.9 573.1L501.9 578.0L503.9 582.6L505.9 586.6L507.9 590.2L509.9 593.3L511.9 596.3L513.9 599.1L515.9 602.6L517.9 605.3L519.9 608.2L521.9 610.5L524.4 614.0L526.9 616.8L529.4 619.1L531.9 621.2L534.4 623.6L536.9 626.1L539.4 628.5L541.9 630.9L544.4 633.2L546.9 634.8L549.4 636.3L551.9 637.6L554.4 639.2L556.9 640.0L559.4 640.4L561.9 641.0L564.4 642.1L566.9 642.7L569.4 643.5L571.9 644.1L574.4 644.6L576.9 644.1L579.4 643.7L581.9 643.9L584.4 644.7L586.9 644.6L589.4 645.5L591.9 646.3L594.4 647.0L596.9 646.4L599.4 646.1L601.9 646.2L604.4 646.1L606.9 644.7L609.4 642.6L611.9 639.8L614.4 637.8L616.9 636.3L619.4 635.1L621.9 633.4L624.4 631.6L626.9 630.0L629.4 628.2L631.9 626.7L634.4 625.0L636.9 624.2L639.4 622.6L641.9 622.0L644.4 620.3L646.9 619.6L649.4 618.6L651.9 618.6L654.4 618.3L656.9 618.0L659.4 618.0L661.9 618.2L664.4 618.5L666.9 618.7L669.4 618.5L671.9 619.0L674.4 618.9L676.9 618.6L679.4 617.9L681.9 616.6L684.4 615.2L686.9 613.5L689.4 612.2L691.9 610.6L694.4 609.5L696.9 608.9L699.4 607.9L701.9 607.9L704.4 608.3L706.9 610.1L709.4 611.8L711.9 614.1L714.4 617.6L716.9 621.2L719.4 625.4L721.9 630.5L724.4 636.1L726.9 641.5L729.4 646.3L731.9 651.1L734.4 656.1L736.9 661.4L739.4 667.0L741.9 672.6L744.4 678.3L746.9 683.2L749.4 688.1L751.9 692.2L754.4 695.1L756.9 696.3L759.4 697.0L761.9 697.9L764.4 698.3L766.9 698.6L769.4 698.5L771.9 699.0L774.4 701.0L776.9 705.0L779.4 709.6L781.9 715.0L784.4 721.5L786.9 728.8L789.4 737.7L791.9 747.7L794.4 756.7L796.9 764.0L799.4 772.1L801.9 783.4L804.4 795.1L806.9 805.0L809.4 814.3L811.9 823.4L814.4 832.7L816.9 841.4L819.4 849.0L821.9 855.6L824.4 861.7L826.9 867.4L829.4 873.1L831.9 878.2L834.4 882.9L836.9 887.1L839.4 891.3L841.9 895.3L844.4 899.2L846.9 902.8L849.4 906.2L851.9 909.6L854.4 912.9L856.9 916.3L859.4 919.2L861.9 922.1L864.4 924.8L866.9 927.2L869.4 929.4L871.9 931.3L874.4 933.7L876.9 936.0L879.4 938.4L881.9 940.9L884.4 943.3L886.9 945.3L889.4 946.9L891.9 948.2L894.4 949.9L896.9 951.7L899.4 953.3L901.9 955.0L905.9 957.2L909.9 959.9L913.9 962.3L917.9 964.8L921.9 966.5L925.9 967.8L929.9 968.9L933.9 970.6L937.9 972.4L941.9 974.2L945.9 975.9L949.9 977.6L953.9 979.7L957.9 981.8L961.9 983.4L965.9 984.6L969.9 984.9L973.9 986.2L977.9 987.0L981.9 988.1L985.9 988.5L989.9 990.0L993.9 990.8L997.9 991.7L1001.9 992.1L1005.9 993.4L1009.9 994.6L1013.9 995.3L1017.9 995.7L1021.9 996.5L1025.9 997.1L1029.9 997.4L1033.9 998.0L1037.9 998.1L1041.9 999.1L1045.9 998.5L1049.9 998.5L1053.9 998.4L1057.9 998.9L1061.9 999.7L1065.9 999.7L1069.9 1000.2L1073.9 1000.0L1077.9 1000.8L1081.9 1001.1L1085.9 1001.5L1089.9 1002.2L1093.9 1002.5L1097.9 1003.2L1101.9 1002.6L1105.9 1003.0L1109.9 1003.1L1113.9 1003.9L1117.9 1004.2L1121.9 1004.4L1125.9 1003.9L1129.9 1004.3L1133.9 1004.6L1137.9 1005.7L1141.9 1006.5L1145.9 1007.7L1149.9 1008.3L1153.9 1008.7L1157.9 1008.7L1161.9 1009.2L1165.9 1009.5L1169.9 1009.6L1173.9 1009.7L1177.9 1010.0L1181.9 1011.0L1185.9 1011.6L1189.9 1012.3L1193.9 1011.9L1197.9 1012.1L1201.9 1012.2L1205.9 1013.1L1209.9 1013.0L1213.9 1012.9L1217.9 1012.6L1221.9 1013.3L1225.9 1014.9L1229.9 1016.0L1233.9 1016.3L1237.9 1016.3L1241.9 1016.7L1245.9 1017.6L1249.9 1018.0L1253.9 1018.3L1257.9 1018.7L1261.9 1019.7L1265.9 1020.7L1269.9 1021.8L1273.9 1021.9L1277.9 1022.7L1281.9 1023.0L1285.9 1024.0L1289.9 1024.7L1293.9 1025.2L1297.9 1025.9L1301.9 1026.3L1305.9 1027.1L1309.9 1027.9L1313.9 1028.6L1317.9 1029.1L1321.9 1029.3L1325.9 1030.1L1329.9 1030.5L1333.9 1031.2L1337.9 1030.8L1341.9 1030.8L1345.9 1031.0L1349.9 1031.7L1353.9 1032.9L1357.9 1033.6L1361.9 1034.2L1365.9 1034.8L1369.9 1035.6L1373.9 1035.8L1377.9 1036.1L1381.9 1036.2L1385.9 1036.4L1389.9 1037.1L1393.9 1037.3L1397.9 1037.8L1401.9 1037.9L1405.9 1038.0L1409.9 1038.6L1413.9 1038.8L1417.9 1039.8L1421.9 1039.8L1425.9 1039.9L1429.9 1040.2L1433.9 1040.6L1437.9 1041.6L1441.9 1042.0L1445.9 1041.8L1449.9 1042.1L1453.9 1042.4L1457.9 1043.4L1461.9 1043.4L1465.9 1043.3L1469.9 1043.4L1473.9 1043.4L1477.9 1044.6L1481.9 1044.6L1485.9 1044.6L1489.9 1043.9L1493.9 1044.6L1497.9 1044.9L1501.9 1044.5L1505.9 1044.7L1509.9 1045.1L1513.9 1045.8L1517.9 1045.8L1521.9 1045.6L1525.9 1045.6L1529.9 1045.8L1533.9 1046.0L1537.9 1046.6L1541.9 1046.4L1545.9 1046.9L1549.9 1046.9L1553.9 1046.4L1557.9 1046.4L1561.9 1046.3L1565.9 1047.1L1569.9 1046.9L1573.9 1047.4L1577.9 1047.1L1581.9 1046.5L1585.9 1046.0L1589.9 1046.1L1593.9 1046.6L1597.9 1046.5L1601.9 1046.7L1605.9 1046.7L1609.9 1047.1L1613.9 1046.7L1617.9 1046.4L1621.9 1045.8L1625.9 1045.7L1629.9 1046.1L1633.9 1046.2L1637.9 1045.9L1641.9 1045.5L1645.9 1045.6L1649.9 1045.7L1653.9 1045.9L1657.9 1046.5L1661.9 1046.8L1665.9 1046.8L1669.9 1046.3L1673.9 1046.7L1677.9 1047.1L1681.9 1047.0L1685.9 1046.2L1689.9 1045.5L1693.9 1045.4L1697.9 1045.6L1701.9 1045.6L1705.9 1045.2L1709.9 1045.2L1713.9 1045.0L1717.9 1044.8L1721.9 1044.8L1725.9 1045.5L1729.9 1046.0L1733.9 1046.3L1737.9 1046.6L1741.9 1046.7L1745.9 1046.4L1749.9 1046.5L1753.9 1046.7L1757.9 1047.0L1761.9 1046.3L1765.9 1045.9L1769.9 1045.1L1773.9 1045.2L1777.9 1044.5L1781.9 1044.9L1785.9 1045.3L1789.9 1046.0L1793.9 1046.5L1797.9 1046.2L1801.9 1046.3L1805.9 1045.8L1809.9 1045.9L1811.7 1045.9"/>
<path d="M393.1 -11.7L395.1 3.2L397.1 18.3L399.1 33.5L401.1 48.8L403.1 64.0L405.1 79.4L407.1 94.9L409.1 110.8L411.1 127.5L413.1 145.0L415.1 163.5L417.1 183.4L419.1 203.7L421.1 223.4L423.1 241.4L425.1 256.6L427.1 270.1L429.1 282.5L431.1 294.5L433.1 306.3L435.1 318.4L437.1 330.5L439.1 342.5L441.1 354.6L443.1 366.4L445.1 377.9L447.1 389.0L449.1 399.4L451.1 409.2L453.1 418.0L455.1 426.5L457.1 435.8L459.1 446.4L461.1 457.7L463.1 468.1L465.1 477.5L467.1 486.7L469.1 495.5L471.1 503.4L473.1 510.8L475.1 517.7L477.1 524.8L479.1 531.9L481.1 538.9L483.1 545.8L485.1 552.6L487.1 559.3L489.1 565.8L491.1 571.9L493.1 578.1L495.1 583.9L497.1 589.6L499.1 594.9L501.1 600.0L503.1 604.5L505.1 608.4L507.1 611.6L509.1 614.7L511.1 617.8L513.1 621.0L515.1 623.6L517.1 626.5L519.1 628.8L521.1 631.4L523.6 634.2L526.1 637.2L528.6 639.8L531.1 642.0L533.6 644.1L536.1 646.3L538.6 648.3L541.1 650.1L543.6 652.0L546.1 654.1L548.6 655.8L551.1 656.4L553.6 657.0L556.1 657.7L558.6 658.4L561.1 658.9L563.6 659.5L566.1 660.1L568.6 660.2L571.1 660.5L573.6 661.2L576.1 662.3L578.6 662.3L581.1 662.5L583.6 662.5L586.1 662.6L588.6 662.3L591.1 662.8L593.6 663.6L596.1 664.2L598.6 664.2L601.1 663.7L603.6 663.7L606.1 662.2L608.6 660.1L611.1 658.1L613.6 656.2L616.1 654.7L618.6 653.4L621.1 652.5L623.6 651.0L626.1 649.2L628.6 647.3L631.1 646.0L633.6 645.0L636.1 643.6L638.6 642.8L641.1 641.1L643.6 640.4L646.1 639.4L648.6 638.7L651.1 638.1L653.6 637.7L656.1 638.0L658.6 638.0L661.1 638.2L663.6 637.8L666.1 637.8L668.6 638.2L671.1 638.6L673.6 638.4L676.1 637.7L678.6 636.4L681.1 635.1L683.6 633.4L686.1 632.2L688.6 630.3L691.1 628.8L693.6 627.2L696.1 627.1L698.6 626.6L701.1 627.5L703.6 627.9L706.1 628.6L708.6 629.0L711.1 631.0L713.6 633.9L716.1 637.7L718.6 641.1L721.1 645.5L723.6 650.5L726.1 655.3L728.6 660.0L731.1 664.6L733.6 668.9L736.1 673.4L738.6 678.1L741.1 683.2L743.6 688.1L746.1 692.6L748.6 696.9L751.1 700.8L753.6 703.2L756.1 704.0L758.6 705.0L761.1 705.5L763.6 706.0L766.1 705.2L768.6 705.8L771.1 706.1L773.6 708.5L776.1 711.7L778.6 715.6L781.1 720.3L783.6 726.2L786.1 733.0L788.6 741.2L791.1 750.3L793.6 758.3L796.1 764.7L798.6 771.9L801.1 782.2L803.6 792.6L806.1 801.6L808.6 810.1L811.1 818.5L813.6 826.7L816.1 834.3L818.6 840.9L821.1 846.9L823.6 852.5L826.1 857.9L828.6 863.1L831.1 868.0L833.6 872.3L836.1 876.6L838.6 880.6L841.1 884.7L843.6 888.3L846.1 891.9L848.6 895.2L851.1 897.8L853.6 900.4L856.1 903.0L858.6 905.9L861.1 908.8L863.6 911.7L866.1 914.6L868.6 916.8L871.1 919.0L873.6 921.6L876.1 923.8L878.6 926.0L881.1 927.3L883.6 929.0L886.1 930.6L888.6 932.6L891.1 934.3L893.6 936.0L896.1 937.2L898.6 938.4L901.1 940.1L905.1 942.8L909.1 945.5L913.1 947.3L917.1 949.3L921.1 951.1L925.1 953.0L929.1 954.9L933.1 956.7L937.1 958.9L941.1 960.3L945.1 961.5L949.1 963.1L953.1 964.5L957.1 966.1L961.1 967.5L965.1 968.7L969.1 970.1L973.1 971.2L977.1 972.7L981.1 974.2L985.1 975.5L989.1 976.0L993.1 976.7L997.1 977.4L1001.1 978.4L1005.1 978.9L1009.1 979.1L1013.1 979.9L1017.1 980.4L1021.1 981.5L1025.1 982.1L1029.1 982.2L1033.1 982.3L1037.1 982.1L1041.1 983.0L1045.1 983.4L1049.1 983.8L1053.1 984.0L1057.1 984.3L1061.1 984.9L1065.1 985.0L1069.1 985.6L1073.1 985.9L1077.1 986.4L1081.1 986.5L1085.1 986.9L1089.1 986.8L1093.1 986.7L1097.1 987.6L1101.1 988.7L1105.1 989.6L1109.1 989.4L1113.1 989.5L1117.1 989.7L1121.1 989.9L1125.1 990.3L1129.1 990.9L1133.1 991.7L1137.1 991.8L1141.1 992.5L1145.1 992.9L1149.1 993.6L1153.1 994.3L1157.1 994.9L1161.1 995.9L1165.1 996.4L1169.1 997.1L1173.1 996.9L1177.1 997.2L1181.1 997.5L1185.1 998.7L1189.1 999.1L1193.1 999.2L1197.1 999.2L1201.1 999.9L1205.1 1000.8L1209.1 1001.4L1213.1 1001.4L1217.1 1001.6L1221.1 1001.8L1225.1 1003.1L1229.1 1004.4L1233.1 1005.3L1237.1 1005.7L1241.1 1006.2L1245.1 1007.4L1249.1 1007.8L1253.1 1008.0L1257.1 1008.8L1261.1 1009.7L1265.1 1011.3L1269.1 1012.1L1273.1 1012.9L1277.1 1013.4L1281.1 1014.6L1285.1 1015.7L1289.1 1016.8L1293.1 1016.5L1297.1 1017.0L1301.1 1017.6L1305.1 1018.8L1309.1 1019.8L1313.1 1020.5L1317.1 1020.8L1321.1 1021.2L1325.1 1021.6L1329.1 1022.6L1333.1 1023.5L1337.1 1024.2L1341.1 1025.5L1345.1 1026.4L1349.1 1027.0L1353.1 1027.1L1357.1 1027.6L1361.1 1028.0L1365.1 1028.7L1369.1 1029.1L1373.1 1030.5L1377.1 1031.0L1381.1 1031.8L1385.1 1032.0L1389.1 1032.8L1393.1 1033.5L1397.1 1033.5L1401.1 1034.0L1405.1 1033.9L1409.1 1034.7L1413.1 1035.0L1417.1 1035.7L1421.1 1036.1L1425.1 1037.0L1429.1 1037.4L1433.1 1037.6L1437.1 1037.5L1441.1 1037.9L1445.1 1038.6L1449.1 1038.9L1453.1 1039.4L1457.1 1040.2L1461.1 1040.4L1465.1 1040.8L1469.1 1040.8L1473.1 1041.6L1477.1 1041.8L1481.1 1041.8L1485.1 1042.1L1489.1 1042.3L1493.1 1042.8L1497.1 1042.8L1501.1 1043.0L1505.1 1043.4L1509.1 1043.9L1513.1 1044.3L1517.1 1044.6L1521.1 1044.2L1525.1 1044.2L1529.1 1044.2L1533.1 1044.8L1537.1 1045.4L1541.1 1045.4L1545.1 1045.2L1549.1 1045.6L1553.1 1045.6L1557.1 1045.9L1561.1 1045.9L1565.1 1046.4L1569.1 1046.2L1573.1 1046.1L1577.1 1045.6L1581.1 1046.1L1585.1 1046.4L1589.1 1046.5L1593.1 1045.9L1597.1 1046.0L1601.1 1046.0L1605.1 1046.2L1609.1 1045.8L1613.1 1046.3L1617.1 1046.4L1621.1 1046.4L1625.1 1046.0L1629.1 1046.6L1633.1 1046.9L1637.1 1047.1L1641.1 1046.5L1645.1 1046.5L1649.1 1045.9L1653.1 1046.3L1657.1 1046.1L1661.1 1046.8L1665.1 1046.6L1669.1 1047.2L1673.1 1046.7L1677.1 1046.5L1681.1 1046.0L1685.1 1046.5L1689.1 1046.3L1693.1 1046.3L1697.1 1046.1L1701.1 1046.5L1705.1 1046.4L1709.1 1046.0L1713.1 1046.3L1717.1 1045.9L1721.1 1046.2L1725.1 1045.0L1729.1 1045.4L1733.1 1045.1L1737.1 1045.7L1741.1 1045.9L1745.1 1045.8L1749.1 1045.8L1753.1 1046.0L1757.1 1046.4L1761.1 1046.7L1765.1 1046.2L1769.1 1046.4L1773.1 1046.9L1777.1 1046.9L1781.1 1046.3L1785.1 1045.6L1789.1 1046.0L1793.1 1046.1L1797.1 1045.7L1801.1 1045.5L1805.1 1045.5L1809.1 1046.2L1810.9 1046.1"/>
<path d="M393.2 -10.0L395.2 5.1L397.2 20.2L399.2 35.5L401.2 51.0L403.2 66.4L405.2 82.0L407.2 97.6L409.2 113.7L411.2 130.6L413.2 148.6L415.2 167.5L417.2 187.7L419.2 207.9L421.2 227.8L423.2 245.7L425.2 261.3L427.2 275.4L429.2 288.4L431.2 301.0L433.2 313.3L435.2 325.9L437.2 338.4L439.2 350.9L441.2 363.4L443.2 375.8L445.2 388.0L447.2 399.4L449.2 410.1L451.2 420.0L453.2 429.1L455.2 437.7L457.2 446.8L459.2 457.8L461.2 469.5L463.2 480.9L465.2 491.1L467.2 501.3L469.2 510.7L471.2 519.3L473.2 527.4L475.2 535.2L477.2 542.9L479.2 550.8L481.2 558.5L483.2 566.3L485.2 573.8L487.2 580.8L489.2 587.7L491.2 594.4L493.2 600.9L495.2 607.1L497.2 612.8L499.2 618.6L501.2 623.5L503.2 628.0L505.2 631.9L507.2 635.4L509.2 638.5L511.2 641.2L513.2 644.1L515.2 646.8L517.2 649.3L519.2 651.4L521.2 653.9L523.7 656.4L526.2 659.1L528.7 661.4L531.2 664.3L533.7 666.1L536.2 667.7L538.7 669.3L541.2 671.0L543.7 673.0L546.2 674.3L548.7 675.4L551.2 675.7L553.7 676.3L556.2 677.1L558.7 678.2L561.2 678.8L563.7 679.5L566.2 679.9L568.7 680.0L571.2 679.8L573.7 679.6L576.2 680.1L578.7 680.4L581.2 681.0L583.7 681.4L586.2 682.2L588.7 682.3L591.2 682.2L593.7 682.4L596.2 682.5L598.7 683.0L601.2 682.5L603.7 682.3L606.2 680.3L608.7 679.1L611.2 677.3L613.7 676.3L616.2 674.8L618.7 673.2L621.2 672.1L623.7 671.0L626.2 669.6L628.7 668.4L631.2 666.6L633.7 665.4L636.2 663.9L638.7 662.6L641.2 661.5L643.7 660.2L646.2 659.7L648.7 658.6L651.2 657.9L653.7 657.1L656.2 657.3L658.7 657.8L661.2 658.2L663.7 658.0L666.2 658.1L668.7 657.8L671.2 657.8L673.7 657.5L676.2 656.7L678.7 655.1L681.2 653.7L683.7 652.4L686.2 651.6L688.7 650.5L691.2 649.1L693.7 648.2L696.2 647.0L698.7 647.3L701.2 646.6L703.7 647.1L706.2 647.2L708.7 648.8L711.2 650.3L713.7 652.5L716.2 655.4L718.7 658.5L721.2 662.4L723.7 666.5L726.2 670.7L728.7 674.2L731.2 677.8L733.7 681.5L736.2 685.6L738.7 690.2L741.2 694.7L743.7 699.1L746.2 702.6L748.7 706.4L751.2 709.7L753.7 711.9L756.2 712.0L758.7 712.2L761.2 712.7L763.7 713.2L766.2 713.0L768.7 712.8L771.2 713.1L773.7 715.1L776.2 718.3L778.7 721.9L781.2 726.4L783.7 731.6L786.2 737.4L788.7 744.7L791.2 752.5L793.7 759.7L796.2 765.4L798.7 771.9L801.2 781.0L803.7 790.3L806.2 798.5L808.7 806.1L811.2 813.8L813.7 821.4L816.2 828.4L818.7 834.4L821.2 840.0L823.7 845.1L826.2 850.3L828.7 854.6L831.2 859.1L833.7 862.6L836.2 866.8L838.7 870.5L841.2 874.5L843.7 877.9L846.2 881.2L848.7 884.5L851.2 887.5L853.7 890.2L856.2 892.6L858.7 894.5L861.2 897.0L863.7 899.5L866.2 902.3L868.7 904.7L871.2 906.4L873.7 908.7L876.2 910.7L878.7 912.9L881.2 914.8L883.7 917.0L886.2 918.9L888.7 920.1L891.2 921.5L893.7 923.0L896.2 924.7L898.7 925.8L901.2 927.1L905.2 929.6L909.2 932.1L913.2 934.0L917.2 936.1L921.2 938.1L925.2 940.1L929.2 942.0L933.2 943.5L937.2 945.0L941.2 946.6L945.2 948.6L949.2 951.3L953.2 952.3L957.2 953.5L961.2 954.0L965.2 955.9L969.2 957.1L973.2 958.5L977.2 959.7L981.2 960.7L985.2 961.6L989.2 962.6L993.2 963.9L997.2 964.3L1001.2 965.2L1005.2 965.5L1009.2 966.8L1013.2 966.8L1017.2 967.6L1021.2 967.9L1025.2 968.7L1029.2 969.1L1033.2 969.3L1037.2 969.2L1041.2 969.7L1045.2 969.8L1049.2 970.4L1053.2 970.5L1057.2 971.6L1061.2 972.0L1065.2 972.7L1069.2 972.9L1073.2 972.8L1077.2 972.8L1081.2 972.5L1085.2 972.9L1089.2 973.3L1093.2 973.5L1097.2 974.0L1101.2 975.0L1105.2 976.2L1109.2 977.0L1113.2 977.0L1117.2 977.2L1121.2 977.4L1125.2 977.9L1129.2 978.4L1133.2 979.2L1137.2 979.9L1141.2 980.5L1145.2 980.9L1149.2 981.3L1153.2 982.2L1157.2 983.2L1161.2 983.7L1165.2 983.8L1169.2 984.3L1173.2 985.7L1177.2 986.4L1181.2 986.4L1185.2 986.0L1189.2 986.7L1193.2 987.6L1197.2 988.4L1201.2 989.2L1205.2 989.6L1209.2 990.2L1213.2 990.3L1217.2 991.6L1221.2 992.8L1225.2 994.2L1229.2 994.4L1233.2 995.2L1237.2 995.7L1241.2 997.0L1245.2 997.6L1249.2 998.3L1253.2 999.0L1257.2 999.4L1261.2 1000.2L1265.2 1001.2L1269.2 1002.2L1273.2 1003.3L1277.2 1004.6L1281.2 1005.7L1285.2 1006.4L1289.2 1006.8L1293.2 1008.0L1297.2 1009.7L1301.2 1010.9L1305.2 1011.8L1309.2 1011.9L1313.2 1012.8L1317.2 1013.8L1321.2 1014.9L1325.2 1015.6L1329.2 1016.1L1333.2 1017.2L1337.2 1018.4L1341.2 1019.4L1345.2 1020.1L1349.2 1020.6L1353.2 1021.1L1357.2 1021.5L1361.2 1022.2L1365.2 1023.1L1369.2 1024.1L1373.2 1025.2L1377.2 1026.1L1381.2 1027.2L1385.2 1027.9L1389.2 1028.3L1393.2 1028.6L1397.2 1028.6L1401.2 1029.8L1405.2 1030.3L1409.2 1031.2L1413.2 1031.9L1417.2 1032.3L1421.2 1032.9L1425.2 1033.0L1429.2 1033.7L1433.2 1034.4L1437.2 1035.1L1441.2 1036.0L1445.2 1036.5L1449.2 1037.1L1453.2 1037.4L1457.2 1038.1L1461.2 1038.7L1465.2 1038.7L1469.2 1039.0L1473.2 1039.2L1477.2 1039.5L1481.2 1039.2L1485.2 1039.6L1489.2 1040.4L1493.2 1041.8L1497.2 1042.1L1501.2 1042.6L1505.2 1042.6L1509.2 1043.0L1513.2 1043.1L1517.2 1043.4L1521.2 1044.0L1525.2 1044.5L1529.2 1045.0L1533.2 1045.1L1537.2 1045.3L1541.2 1045.2L1545.2 1045.6L1549.2 1045.7L1553.2 1046.2L1557.2 1045.8L1561.2 1046.2L1565.2 1046.4L1569.2 1046.7L1573.2 1046.3L1577.2 1046.3L1581.2 1046.6L1585.2 1046.9L1589.2 1046.9L1593.2 1047.2L1597.2 1047.4L1601.2 1047.5L1605.2 1047.5L1609.2 1047.6L1613.2 1047.6L1617.2 1047.7L1621.2 1047.7L1625.2 1048.2L1629.2 1047.8L1633.2 1048.0L1637.2 1048.2L1641.2 1048.5L1645.2 1048.6L1649.2 1048.4L1653.2 1048.6L1657.2 1048.5L1661.2 1048.6L1665.2 1048.4L1669.2 1048.9L1673.2 1048.6L1677.2 1048.9L1681.2 1048.2L1685.2 1048.5L1689.2 1048.6L1693.2 1048.5L1697.2 1048.8L1701.2 1048.1L1705.2 1048.1L1709.2 1047.7L1713.2 1047.6L1717.2 1048.0L1721.2 1048.0L1725.2 1047.5L1729.2 1046.9L1733.2 1046.6L1737.2 1047.4L1741.2 1047.5L1745.2 1047.5L1749.2 1047.6L1753.2 1047.6L1757.2 1047.9L1761.2 1047.4L1765.2 1047.9L1769.2 1048.2L1773.2 1048.3L1777.2 1047.4L1781.2 1046.6L1785.2 1047.1L1789.2 1047.6L1793.2 1048.3L1797.2 1047.7L1801.2 1047.7L1805.2 1047.4L1809.2 1048.0L1811.0 1048.3"/>
<path d="M393.6 -8.4L395.6 6.9L397.6 22.2L399.6 37.7L401.6 53.3L403.6 68.9L405.6 84.5L407.6 100.3L409.6 116.6L411.6 133.9L413.6 152.3L415.6 171.5L417.6 191.8L419.6 212.1L421.6 232.0L423.6 250.3L425.6 266.3L427.6 280.7L429.6 294.2L431.6 307.2L433.6 320.2L435.6 333.2L437.6 346.2L439.6 359.2L441.6 372.2L443.6 384.9L445.6 397.3L447.6 409.1L449.6 420.3L451.6 430.5L453.6 439.6L455.6 448.1L457.6 457.4L459.6 468.6L461.6 481.0L463.6 492.9L465.6 503.9L467.6 514.8L469.6 525.3L471.6 534.8L473.6 543.7L475.6 552.0L477.6 560.3L479.6 568.7L481.6 577.3L483.6 585.7L485.6 593.7L487.6 601.3L489.6 608.6L491.6 615.8L493.6 622.5L495.6 629.0L497.6 634.9L499.6 640.7L501.6 645.6L503.6 650.3L505.6 654.5L507.6 658.1L509.6 661.2L511.6 663.6L513.6 666.1L515.6 668.6L517.6 670.9L519.6 673.1L521.6 675.4L524.1 678.4L526.6 681.3L529.1 683.6L531.6 685.3L534.1 686.6L536.6 687.9L539.1 689.6L541.6 690.9L544.1 691.8L546.6 693.2L549.1 694.6L551.6 695.8L554.1 696.6L556.6 696.9L559.1 697.3L561.6 697.5L564.1 697.4L566.6 698.2L569.1 698.3L571.6 698.5L574.1 698.3L576.6 698.2L579.1 699.4L581.6 699.7L584.1 700.3L586.6 700.4L589.1 700.8L591.6 700.5L594.1 700.6L596.6 700.8L599.1 701.4L601.6 701.4L604.1 700.8L606.6 699.1L609.1 697.6L611.6 695.5L614.1 694.7L616.6 693.4L619.1 693.0L621.6 691.5L624.1 690.3L626.6 688.9L629.1 688.0L631.6 686.8L634.1 684.9L636.6 683.3L639.1 682.5L641.6 682.0L644.1 680.8L646.6 679.2L649.1 678.5L651.6 678.0L654.1 678.0L656.6 677.8L659.1 677.5L661.6 677.3L664.1 677.5L666.6 677.2L669.1 677.2L671.6 676.7L674.1 676.9L676.6 676.3L679.1 674.8L681.6 673.1L684.1 671.4L686.6 670.4L689.1 669.6L691.6 668.4L694.1 667.6L696.6 666.9L699.1 666.5L701.6 666.0L704.1 665.9L706.6 666.9L709.1 667.4L711.6 668.7L714.1 670.4L716.6 672.9L719.1 675.5L721.6 678.4L724.1 682.3L726.6 685.4L729.1 688.9L731.6 691.7L734.1 694.9L736.6 698.0L739.1 701.5L741.6 705.4L744.1 709.3L746.6 712.8L749.1 715.8L751.6 718.6L754.1 720.1L756.6 720.8L759.1 721.4L761.6 722.2L764.1 722.1L766.6 721.7L769.1 721.5L771.6 722.1L774.1 722.9L776.6 725.3L779.1 727.8L781.6 732.0L784.1 736.6L786.6 742.0L789.1 748.1L791.6 755.1L794.1 761.4L796.6 766.6L799.1 772.1L801.6 780.1L804.1 788.4L806.6 795.8L809.1 802.5L811.6 809.1L814.1 815.8L816.6 822.0L819.1 827.7L821.6 832.9L824.1 837.7L826.6 842.0L829.1 845.7L831.6 849.6L834.1 853.4L836.6 857.3L839.1 860.7L841.6 864.1L844.1 867.4L846.6 870.4L849.1 873.3L851.6 875.9L854.1 878.8L856.6 881.1L859.1 883.8L861.6 886.1L864.1 888.3L866.6 890.5L869.1 892.2L871.6 894.4L874.1 896.7L876.6 899.4L879.1 901.3L881.6 902.8L884.1 903.9L886.6 906.0L889.1 907.4L891.6 909.3L894.1 910.7L896.6 912.4L899.1 913.7L901.6 914.9L905.6 917.2L909.6 919.5L913.6 921.2L917.6 923.1L921.6 924.8L925.6 927.0L929.6 929.0L933.6 930.7L937.6 932.5L941.6 933.9L945.6 935.8L949.6 937.5L953.6 939.2L957.6 940.9L961.6 942.1L965.6 943.4L969.6 944.7L973.6 946.0L977.6 946.8L981.6 946.5L985.6 947.8L989.6 949.5L993.6 950.4L997.6 950.5L1001.6 950.3L1005.6 951.9L1009.6 952.8L1013.6 953.9L1017.6 954.6L1021.6 955.5L1025.6 955.4L1029.6 955.1L1033.6 955.1L1037.6 956.0L1041.6 957.0L1045.6 957.2L1049.6 957.7L1053.6 957.4L1057.6 957.7L1061.6 958.0L1065.6 959.0L1069.6 959.8L1073.6 960.2L1077.6 960.5L1081.6 960.6L1085.6 960.8L1089.6 960.9L1093.6 961.2L1097.6 961.4L1101.6 961.9L1105.6 962.5L1109.6 962.8L1113.6 963.5L1117.6 964.4L1121.6 965.2L1125.6 965.3L1129.6 965.6L1133.6 966.6L1137.6 967.6L1141.6 968.4L1145.6 968.7L1149.6 968.9L1153.6 969.5L1157.6 969.9L1161.6 970.8L1165.6 971.7L1169.6 972.8L1173.6 973.2L1177.6 974.1L1181.6 975.0L1185.6 975.3L1189.6 975.7L1193.6 975.8L1197.6 977.0L1201.6 977.5L1205.6 978.7L1209.6 979.5L1213.6 980.7L1217.6 981.5L1221.6 982.6L1225.6 983.4L1229.6 984.3L1233.6 985.1L1237.6 986.1L1241.6 986.8L1245.6 987.5L1249.6 988.4L1253.6 989.8L1257.6 991.6L1261.6 992.9L1265.6 993.6L1269.6 994.0L1273.6 995.5L1277.6 996.3L1281.6 997.0L1285.6 997.7L1289.6 999.7L1293.6 1001.5L1297.6 1002.9L1301.6 1003.8L1305.6 1004.7L1309.6 1005.3L1313.6 1006.1L1317.6 1007.4L1321.6 1008.8L1325.6 1010.4L1329.6 1010.8L1333.6 1011.6L1337.6 1011.8L1341.6 1013.2L1345.6 1014.3L1349.6 1015.4L1353.6 1016.2L1357.6 1017.1L1361.6 1017.8L1365.6 1018.5L1369.6 1019.6L1373.6 1020.7L1377.6 1021.8L1381.6 1022.6L1385.6 1023.1L1389.6 1023.6L1393.6 1024.1L1397.6 1025.2L1401.6 1026.1L1405.6 1027.2L1409.6 1028.3L1413.6 1029.0L1417.6 1029.3L1421.6 1029.3L1425.6 1029.8L1429.6 1030.5L1433.6 1030.9L1437.6 1031.8L1441.6 1032.5L1445.6 1033.5L1449.6 1033.4L1453.6 1034.0L1457.6 1035.0L1461.6 1036.3L1465.6 1037.0L1469.6 1036.9L1473.6 1037.1L1477.6 1037.4L1481.6 1038.0L1485.6 1038.6L1489.6 1038.8L1493.6 1039.9L1497.6 1040.6L1501.6 1040.8L1505.6 1040.8L1509.6 1040.8L1513.6 1041.9L1517.6 1041.7L1521.6 1041.8L1525.6 1041.9L1529.6 1043.3L1533.6 1043.7L1537.6 1043.8L1541.6 1043.4L1545.6 1043.5L1549.6 1043.9L1553.6 1044.1L1557.6 1044.8L1561.6 1045.0L1565.6 1044.5L1569.6 1044.6L1573.6 1044.7L1577.6 1045.3L1581.6 1044.6L1585.6 1044.6L1589.6 1044.7L1593.6 1044.9L1597.6 1044.7L1601.6 1045.0L1605.6 1045.1L1609.6 1045.5L1613.6 1045.6L1617.6 1046.0L1621.6 1045.6L1625.6 1045.2L1629.6 1045.2L1633.6 1045.0L1637.6 1045.4L1641.6 1045.4L1645.6 1045.5L1649.6 1045.2L1653.6 1045.1L1657.6 1045.4L1661.6 1046.2L1665.6 1046.1L1669.6 1046.6L1673.6 1046.4L1677.6 1046.7L1681.6 1045.8L1685.6 1046.0L1689.6 1045.6L1693.6 1046.5L1697.6 1046.2L1701.6 1045.8L1705.6 1045.8L1709.6 1046.0L1713.6 1046.5L1717.6 1046.3L1721.6 1046.2L1725.6 1045.9L1729.6 1045.7L1733.6 1045.8L1737.6 1046.0L1741.6 1046.5L1745.6 1045.9L1749.6 1045.6L1753.6 1045.0L1757.6 1045.6L1761.6 1045.7L1765.6 1045.8L1769.6 1045.9L1773.6 1046.1L1777.6 1046.1L1781.6 1046.2L1785.6 1045.9L1789.6 1045.7L1793.6 1045.7L1797.6 1045.3L1801.6 1045.7L1805.6 1045.4L1809.6 1045.9L1811.4 1045.9"/>
<path d="M392.8 -6.7L394.8 8.8L396.8 24.4L398.8 40.1L400.8 55.8L402.8 71.4L404.8 87.0L406.8 102.9L408.8 119.5L410.8 137.1L412.8 155.9L414.8 175.5L416.8 196.0L418.8 216.4L420.8 236.4L422.8 254.7L424.8 270.9L426.8 285.9L428.8 300.0L430.8 313.7L432.8 327.2L434.8 340.8L436.8 354.2L438.8 367.6L440.8 381.0L442.8 394.3L444.8 407.2L446.8 419.4L448.8 430.9L450.8 441.3L452.8 450.4L454.8 458.9L456.8 468.2L458.8 479.8L460.8 492.9L462.8 505.6L464.8 517.4L466.8 529.0L468.8 540.3L470.8 550.6L472.8 560.1L474.8 569.3L476.8 578.1L478.8 587.4L480.8 596.8L482.8 606.1L484.8 614.7L486.8 622.8L488.8 630.7L490.8 638.3L492.8 645.2L494.8 651.9L496.8 658.0L498.8 663.9L500.8 668.9L502.8 673.8L504.8 678.0L506.8 681.8L508.8 684.6L510.8 687.2L512.8 689.7L514.8 692.1L516.8 694.2L518.8 696.3L520.8 698.3L523.3 700.5L525.8 702.3L528.3 704.1L530.8 705.7L533.3 707.2L535.8 708.8L538.3 710.7L540.8 712.2L543.3 712.3L545.8 712.7L548.3 713.5L550.8 715.4L553.3 716.5L555.8 716.7L558.3 716.4L560.8 716.1L563.3 716.8L565.8 717.1L568.3 717.1L570.8 717.2L573.3 717.7L575.8 717.6L578.3 717.5L580.8 717.7L583.3 718.7L585.8 718.7L588.3 718.6L590.8 718.8L593.3 719.6L595.8 719.6L598.3 719.6L600.8 719.5L603.3 719.3L605.8 718.1L608.3 717.2L610.8 715.8L613.3 714.4L615.8 712.6L618.3 710.8L620.8 709.8L623.3 708.7L625.8 708.8L628.3 707.9L630.8 706.9L633.3 705.4L635.8 704.4L638.3 703.2L640.8 702.4L643.3 701.5L645.8 701.0L648.3 700.2L650.8 699.3L653.3 698.4L655.8 697.8L658.3 697.6L660.8 697.6L663.3 697.4L665.8 697.1L668.3 697.0L670.8 697.0L673.3 696.7L675.8 695.1L678.3 693.5L680.8 692.0L683.3 690.8L685.8 689.6L688.3 688.7L690.8 687.8L693.3 687.0L695.8 685.8L698.3 685.1L700.8 685.3L703.3 685.7L705.8 685.7L708.3 686.3L710.8 687.2L713.3 688.6L715.8 690.0L718.3 691.8L720.8 694.4L723.3 697.3L725.8 700.1L728.3 702.4L730.8 704.9L733.3 707.7L735.8 710.4L738.3 713.2L740.8 716.4L743.3 719.7L745.8 722.5L748.3 724.9L750.8 727.1L753.3 728.4L755.8 728.7L758.3 729.1L760.8 728.5L763.3 728.0L765.8 727.9L768.3 728.6L770.8 729.0L773.3 730.1L775.8 732.0L778.3 734.5L780.8 737.7L783.3 741.7L785.8 746.1L788.3 751.3L790.8 757.1L793.3 762.5L795.8 766.9L798.3 771.6L800.8 778.6L803.3 785.9L805.8 792.4L808.3 798.6L810.8 804.7L813.3 810.6L815.8 815.9L818.3 820.6L820.8 824.9L823.3 829.4L825.8 833.0L828.3 836.7L830.8 840.3L833.3 844.0L835.8 847.6L838.3 850.7L840.8 853.7L843.3 856.7L845.8 859.2L848.3 861.8L850.8 864.6L853.3 867.1L855.8 869.6L858.3 871.3L860.8 873.8L863.3 875.7L865.8 877.8L868.3 879.4L870.8 881.4L873.3 883.1L875.8 885.0L878.3 886.8L880.8 888.8L883.3 890.3L885.8 891.9L888.3 893.4L890.8 895.2L893.3 896.7L895.8 898.2L898.3 899.6L900.8 901.4L904.8 903.7L908.8 905.9L912.8 907.8L916.8 909.4L920.8 911.4L924.8 913.0L928.8 914.8L932.8 916.4L936.8 917.8L940.8 920.0L944.8 921.6L948.8 923.1L952.8 924.0L956.8 925.3L960.8 926.9L964.8 928.7L968.8 930.3L972.8 931.8L976.8 932.9L980.8 933.4L984.8 934.3L988.8 935.3L992.8 935.8L996.8 936.2L1000.8 936.5L1004.8 937.6L1008.8 938.7L1012.8 939.6L1016.8 940.5L1020.8 940.5L1024.8 940.3L1028.8 940.5L1032.8 940.9L1036.8 941.5L1040.8 941.4L1044.8 941.5L1048.8 941.9L1052.8 942.9L1056.8 943.5L1060.8 943.9L1064.8 944.2L1068.8 944.7L1072.8 945.5L1076.8 945.7L1080.8 946.1L1084.8 945.8L1088.8 946.7L1092.8 947.3L1096.8 948.4L1100.8 948.6L1104.8 949.0L1108.8 949.0L1112.8 949.7L1116.8 950.7L1120.8 951.0L1124.8 952.0L1128.8 952.1L1132.8 953.7L1136.8 953.7L1140.8 954.6L1144.8 955.4L1148.8 956.3L1152.8 957.5L1156.8 958.1L1160.8 959.1L1164.8 959.2L1168.8 959.9L1172.8 960.4L1176.8 961.5L1180.8 962.8L1184.8 963.6L1188.8 963.9L1192.8 964.1L1196.8 964.6L1200.8 965.9L1204.8 966.9L1208.8 967.9L1212.8 968.6L1216.8 969.8L1220.8 971.2L1224.8 972.1L1228.8 973.1L1232.8 974.2L1236.8 975.3L1240.8 976.2L1244.8 977.7L1248.8 978.8L1252.8 980.2L1256.8 980.9L1260.8 982.6L1264.8 983.6L1268.8 985.0L1272.8 986.1L1276.8 987.2L1280.8 988.6L1284.8 990.0L1288.8 991.0L1292.8 992.3L1296.8 993.8L1300.8 995.7L1304.8 996.9L1308.8 997.4L1312.8 998.5L1316.8 999.8L1320.8 1001.8L1324.8 1002.5L1328.8 1003.4L1332.8 1004.0L1336.8 1005.3L1340.8 1006.0L1344.8 1007.1L1348.8 1008.1L1352.8 1009.5L1356.8 1011.1L1360.8 1012.1L1364.8 1013.1L1368.8 1014.0L1372.8 1015.0L1376.8 1016.4L1380.8 1017.3L1384.8 1018.2L1388.8 1018.7L1392.8 1019.5L1396.8 1020.5L1400.8 1021.6L1404.8 1022.3L1408.8 1023.4L1412.8 1024.0L1416.8 1024.9L1420.8 1025.5L1424.8 1026.1L1428.8 1027.0L1432.8 1027.8L1436.8 1028.5L1440.8 1028.9L1444.8 1030.0L1448.8 1031.0L1452.8 1032.2L1456.8 1032.4L1460.8 1033.5L1464.8 1034.2L1468.8 1034.5L1472.8 1034.8L1476.8 1035.2L1480.8 1036.4L1484.8 1036.8L1488.8 1037.9L1492.8 1038.5L1496.8 1039.0L1500.8 1039.5L1504.8 1040.6L1508.8 1041.0L1512.8 1041.4L1516.8 1041.3L1520.8 1042.0L1524.8 1041.9L1528.8 1041.9L1532.8 1042.6L1536.8 1043.3L1540.8 1043.7L1544.8 1044.1L1548.8 1044.7L1552.8 1045.3L1556.8 1044.9L1560.8 1044.8L1564.8 1045.2L1568.8 1045.1L1572.8 1044.9L1576.8 1044.5L1580.8 1045.4L1584.8 1046.1L1588.8 1046.5L1592.8 1046.5L1596.8 1046.6L1600.8 1046.9L1604.8 1048.0L1608.8 1048.2L1612.8 1048.3L1616.8 1047.4L1620.8 1047.8L1624.8 1047.5L1628.8 1047.8L1632.8 1047.3L1636.8 1047.2L1640.8 1047.1L1644.8 1047.0L1648.8 1046.9L1652.8 1047.6L1656.8 1048.1L1660.8 1048.8L1664.8 1048.6L1668.8 1048.2L1672.8 1048.1L1676.8 1047.8L1680.8 1048.0L1684.8 1047.9L1688.8 1048.2L1692.8 1048.4L1696.8 1048.4L1700.8 1048.2L1704.8 1048.1L1708.8 1048.3L1712.8 1048.9L1716.8 1049.2L1720.8 1048.7L1724.8 1048.3L1728.8 1048.2L1732.8 1048.5L1736.8 1048.8L1740.8 1048.9L1744.8 1048.7L1748.8 1048.3L1752.8 1047.6L1756.8 1047.8L1760.8 1048.1L1764.8 1048.3L1768.8 1048.0L1772.8 1047.7L1776.8 1047.9L1780.8 1048.3L1784.8 1048.4L1788.8 1049.1L1792.8 1048.6L1796.8 1048.6L1800.8 1048.0L1804.8 1048.7L1808.8 1048.8L1810.6 1048.8"/>
<path d="M393.7 -5.3L395.7 10.3L397.7 25.9L399.7 41.7L401.7 57.5L403.7 73.2L405.7 89.0L407.7 105.1L409.7 122.0L411.7 139.8L413.7 158.9L415.7 178.7L417.7 199.4L419.7 219.8L421.7 239.8L423.7 258.3L425.7 274.8L427.7 290.2L429.7 304.8L431.7 318.9L433.7 332.7L435.7 346.6L437.7 360.3L439.7 374.0L441.7 387.9L443.7 401.6L445.7 414.9L447.7 427.4L449.7 439.1L451.7 449.7L453.7 458.9L455.7 467.5L457.7 477.0L459.7 488.9L461.7 502.3L463.7 515.6L465.7 528.1L467.7 540.6L469.7 552.5L471.7 563.3L473.7 573.3L475.7 583.0L477.7 592.5L479.7 602.5L481.7 612.6L483.7 622.4L485.7 631.7L487.7 640.1L489.7 648.3L491.7 656.0L493.7 663.2L495.7 670.1L497.7 676.5L499.7 682.5L501.7 687.7L503.7 692.6L505.7 696.7L507.7 700.5L509.7 703.2L511.7 705.9L513.7 707.9L515.7 709.9L517.7 712.0L519.7 714.3L521.7 716.4L524.2 718.0L526.7 719.6L529.2 721.2L531.7 723.0L534.2 724.5L536.7 726.0L539.2 727.4L541.7 728.2L544.2 729.1L546.7 730.0L549.2 730.6L551.7 731.1L554.2 731.1L556.7 731.6L559.2 731.6L561.7 731.6L564.2 731.9L566.7 732.1L569.2 732.2L571.7 731.6L574.2 731.5L576.7 732.3L579.2 733.3L581.7 733.6L584.2 733.3L586.7 733.0L589.2 733.0L591.7 732.9L594.2 733.2L596.7 733.5L599.2 734.1L601.7 734.2L604.2 734.2L606.7 733.2L609.2 732.1L611.7 730.7L614.2 729.6L616.7 728.3L619.2 727.4L621.7 726.2L624.2 724.8L626.7 723.5L629.2 722.0L631.7 721.2L634.2 719.6L636.7 718.8L639.2 718.0L641.7 717.5L644.2 717.1L646.7 716.2L649.2 715.4L651.7 714.5L654.2 714.2L656.7 713.7L659.2 713.7L661.7 713.6L664.2 713.3L666.7 712.5L669.2 712.0L671.7 711.5L674.2 710.4L676.7 709.7L679.2 708.8L681.7 708.0L684.2 706.4L686.7 705.7L689.2 704.2L691.7 703.0L694.2 701.4L696.7 700.5L699.2 699.4L701.7 698.9L704.2 699.3L706.7 700.4L709.2 701.0L711.7 701.6L714.2 702.3L716.7 703.6L719.2 705.3L721.7 707.4L724.2 709.9L726.7 711.8L729.2 713.8L731.7 715.5L734.2 717.7L736.7 720.2L739.2 722.7L741.7 725.7L744.2 728.3L746.7 730.7L749.2 732.6L751.7 734.3L754.2 735.6L756.7 735.4L759.2 735.0L761.7 734.3L764.2 734.6L766.7 734.7L769.2 734.9L771.7 735.2L774.2 736.2L776.7 737.9L779.2 739.8L781.7 742.3L784.2 746.0L786.7 749.8L789.2 754.4L791.7 759.2L794.2 763.5L796.7 767.3L799.2 771.3L801.7 777.5L804.2 783.9L806.7 789.2L809.2 794.3L811.7 799.5L814.2 805.1L816.7 809.8L819.2 814.0L821.7 818.0L824.2 822.0L826.7 825.5L829.2 828.4L831.7 831.3L834.2 834.2L836.7 837.9L839.2 841.1L841.7 844.1L844.2 846.5L846.7 848.9L849.2 851.6L851.7 854.1L854.2 856.4L856.7 858.7L859.2 860.7L861.7 862.7L864.2 864.8L866.7 866.4L869.2 868.2L871.7 870.1L874.2 872.3L876.7 874.2L879.2 875.3L881.7 876.8L884.2 878.4L886.7 880.1L889.2 881.3L891.7 882.8L894.2 883.9L896.7 885.8L899.2 887.2L901.7 888.7L905.7 890.4L909.7 892.5L913.7 894.4L917.7 896.7L921.7 898.6L925.7 900.9L929.7 902.4L933.7 903.5L937.7 904.7L941.7 906.5L945.7 908.4L949.7 909.9L953.7 911.6L957.7 913.1L961.7 914.7L965.7 916.1L969.7 917.6L973.7 918.9L977.7 919.6L981.7 920.4L985.7 921.1L989.7 921.8L993.7 922.5L997.7 923.3L1001.7 924.3L1005.7 925.4L1009.7 926.2L1013.7 926.6L1017.7 927.5L1021.7 928.1L1025.7 928.6L1029.7 928.5L1033.7 928.6L1037.7 929.2L1041.7 929.4L1045.7 929.5L1049.7 929.7L1053.7 930.3L1057.7 930.6L1061.7 930.7L1065.7 931.2L1069.7 932.0L1073.7 932.9L1077.7 933.7L1081.7 934.2L1085.7 934.2L1089.7 934.0L1093.7 934.2L1097.7 934.3L1101.7 935.3L1105.7 936.2L1109.7 937.4L1113.7 938.1L1117.7 938.3L1121.7 939.3L1125.7 940.3L1129.7 940.8L1133.7 941.4L1137.7 942.0L1141.7 943.2L1145.7 943.7L1149.7 944.4L1153.7 945.4L1157.7 946.2L1161.7 947.1L1165.7 947.8L1169.7 948.5L1173.7 949.9L1177.7 950.6L1181.7 951.9L1185.7 952.0L1189.7 953.2L1193.7 953.9L1197.7 955.0L1201.7 955.5L1205.7 956.4L1209.7 956.9L1213.7 957.9L1217.7 959.2L1221.7 960.4L1225.7 961.6L1229.7 962.9L1233.7 964.6L1237.7 965.6L1241.7 966.9L1245.7 968.1L1249.7 969.8L1253.7 971.1L1257.7 972.1L1261.7 973.8L1265.7 974.8L1269.7 976.0L1273.7 976.6L1277.7 978.7L1281.7 980.1L1285.7 981.6L1289.7 982.5L1293.7 984.5L1297.7 986.5L1301.7 988.0L1305.7 989.5L1309.7 990.8L1313.7 992.2L1317.7 993.4L1321.7 994.8L1325.7 995.7L1329.7 996.9L1333.7 997.7L1337.7 999.5L1341.7 1000.7L1345.7 1002.6L1349.7 1003.6L1353.7 1004.8L1357.7 1005.3L1361.7 1006.5L1365.7 1007.8L1369.7 1009.2L1373.7 1010.2L1377.7 1011.1L1381.7 1011.9L1385.7 1013.0L1389.7 1014.8L1393.7 1016.2L1397.7 1017.0L1401.7 1017.0L1405.7 1018.0L1409.7 1019.5L1413.7 1020.9L1417.7 1021.9L1421.7 1022.5L1425.7 1022.8L1429.7 1023.2L1433.7 1023.9L1437.7 1025.0L1441.7 1026.6L1445.7 1027.5L1449.7 1029.1L1453.7 1029.4L1457.7 1030.6L1461.7 1030.9L1465.7 1031.9L1469.7 1032.1L1473.7 1032.9L1477.7 1033.5L1481.7 1034.4L1485.7 1035.2L1489.7 1035.9L1493.7 1036.7L1497.7 1037.4L1501.7 1037.7L1505.7 1037.3L1509.7 1037.5L1513.7 1037.9L1517.7 1038.9L1521.7 1039.3L1525.7 1040.0L1529.7 1040.6L1533.7 1041.7L1537.7 1042.1L1541.7 1042.8L1545.7 1042.4L1549.7 1043.2L1553.7 1043.7L1557.7 1043.9L1561.7 1044.1L1565.7 1044.0L1569.7 1044.6L1573.7 1044.8L1577.7 1045.2L1581.7 1045.6L1585.7 1044.9L1589.7 1044.8L1593.7 1044.4L1597.7 1044.6L1601.7 1044.8L1605.7 1044.9L1609.7 1045.8L1613.7 1046.6L1617.7 1047.0L1621.7 1046.9L1625.7 1046.6L1629.7 1046.4L1633.7 1045.9L1637.7 1046.3L1641.7 1046.7L1645.7 1047.3L1649.7 1047.2L1653.7 1047.4L1657.7 1047.3L1661.7 1047.9L1665.7 1047.8L1669.7 1048.0L1673.7 1048.0L1677.7 1048.4L1681.7 1048.7L1685.7 1048.3L1689.7 1048.0L1693.7 1048.2L1697.7 1048.4L1701.7 1048.1L1705.7 1048.6L1709.7 1048.3L1713.7 1048.8L1717.7 1048.1L1721.7 1048.3L1725.7 1048.0L1729.7 1047.7L1733.7 1047.2L1737.7 1047.2L1741.7 1047.7L1745.7 1048.0L1749.7 1048.5L1753.7 1048.4L1757.7 1048.6L1761.7 1047.8L1765.7 1047.6L1769.7 1047.3L1773.7 1047.7L1777.7 1048.3L1781.7 1047.8L1785.7 1047.7L1789.7 1047.2L1793.7 1047.8L1797.7 1047.6L1801.7 1047.7L1805.7 1047.5L1809.7 1047.7L1811.5 1047.7"/>
<path d="M394.0 -4.1L396.0 11.6L398.0 27.5L400.0 43.5L402.0 59.5L404.0 75.3L406.0 91.2L408.0 107.5L410.0 124.5L412.0 142.7L414.0 162.0L416.0 182.2L418.0 203.0L420.0 223.5L422.0 243.6L424.0 262.2L426.0 279.1L428.0 294.8L430.0 309.9L432.0 324.5L434.0 338.9L436.0 353.2L438.0 367.2L440.0 381.4L442.0 395.6L444.0 409.7L446.0 423.3L448.0 436.3L450.0 448.4L452.0 459.3L454.0 468.4L456.0 476.8L458.0 486.4L460.0 498.6L462.0 512.7L464.0 526.6L466.0 539.8L468.0 553.0L470.0 565.5L472.0 577.0L474.0 587.6L476.0 598.1L478.0 608.3L480.0 618.9L482.0 629.6L484.0 640.0L486.0 649.6L488.0 658.6L490.0 667.3L492.0 675.4L494.0 682.9L496.0 690.2L498.0 696.7L500.0 702.5L502.0 707.5L504.0 712.5L506.0 717.1L508.0 720.7L510.0 723.4L512.0 725.0L514.0 727.6L516.0 729.4L518.0 732.0L520.0 733.8L522.0 735.4L524.5 736.9L527.0 738.2L529.5 740.3L532.0 741.7L534.5 742.6L537.0 743.5L539.5 744.9L542.0 745.8L544.5 746.3L547.0 746.9L549.5 747.6L552.0 747.8L554.5 747.6L557.0 747.7L559.5 748.1L562.0 748.1L564.5 748.0L567.0 747.2L569.5 747.3L572.0 747.7L574.5 748.4L577.0 748.5L579.5 748.6L582.0 748.9L584.5 749.0L587.0 748.8L589.5 749.0L592.0 749.2L594.5 749.7L597.0 749.9L599.5 750.0L602.0 750.0L604.5 749.2L607.0 748.8L609.5 747.6L612.0 747.1L614.5 745.5L617.0 744.7L619.5 743.3L622.0 742.9L624.5 742.2L627.0 741.2L629.5 739.7L632.0 739.0L634.5 738.2L637.0 737.8L639.5 736.6L642.0 735.5L644.5 734.7L647.0 733.9L649.5 733.5L652.0 732.8L654.5 731.8L657.0 731.2L659.5 730.8L662.0 730.6L664.5 729.1L667.0 728.4L669.5 728.0L672.0 728.1L674.5 727.7L677.0 726.9L679.5 726.0L682.0 724.5L684.5 723.2L687.0 722.2L689.5 721.3L692.0 719.6L694.5 718.1L697.0 717.4L699.5 717.0L702.0 716.4L704.5 715.8L707.0 715.8L709.5 716.4L712.0 716.9L714.5 717.8L717.0 718.4L719.5 719.0L722.0 720.3L724.5 722.5L727.0 724.2L729.5 726.0L732.0 726.8L734.5 728.4L737.0 730.0L739.5 732.0L742.0 734.3L744.5 735.9L747.0 737.7L749.5 739.6L752.0 740.9L754.5 741.9L757.0 741.9L759.5 742.4L762.0 741.5L764.5 741.4L767.0 740.5L769.5 740.8L772.0 740.3L774.5 741.2L777.0 742.6L779.5 744.4L782.0 746.9L784.5 750.0L787.0 753.1L789.5 757.0L792.0 760.9L794.5 764.8L797.0 767.5L799.5 771.0L802.0 776.0L804.5 781.6L807.0 786.4L809.5 791.0L812.0 795.5L814.5 800.0L817.0 804.1L819.5 807.7L822.0 810.9L824.5 814.3L827.0 817.5L829.5 820.8L832.0 823.5L834.5 826.2L837.0 829.3L839.5 832.3L842.0 834.7L844.5 836.8L847.0 839.0L849.5 841.5L852.0 843.4L854.5 845.3L857.0 847.3L859.5 849.2L862.0 851.1L864.5 853.0L867.0 854.8L869.5 857.0L872.0 859.1L874.5 860.9L877.0 862.4L879.5 863.9L882.0 865.4L884.5 867.5L887.0 868.2L889.5 869.2L892.0 869.9L894.5 872.0L897.0 874.1L899.5 875.5L902.0 876.7L906.0 878.4L910.0 880.6L914.0 882.9L918.0 884.2L922.0 886.4L926.0 887.9L930.0 890.1L934.0 891.4L938.0 892.8L942.0 894.7L946.0 896.3L950.0 898.1L954.0 899.2L958.0 900.8L962.0 901.9L966.0 903.4L970.0 904.7L974.0 905.9L978.0 907.0L982.0 907.8L986.0 908.9L990.0 909.3L994.0 910.1L998.0 910.9L1002.0 912.5L1006.0 912.9L1010.0 913.8L1014.0 913.8L1018.0 914.6L1022.0 915.3L1026.0 915.9L1030.0 916.5L1034.0 916.4L1038.0 916.5L1042.0 916.4L1046.0 916.6L1050.0 917.1L1054.0 918.0L1058.0 918.6L1062.0 918.6L1066.0 919.1L1070.0 919.5L1074.0 920.6L1078.0 921.0L1082.0 921.1L1086.0 921.3L1090.0 921.3L1094.0 922.0L1098.0 922.3L1102.0 923.0L1106.0 924.0L1110.0 925.0L1114.0 925.8L1118.0 926.6L1122.0 926.6L1126.0 927.3L1130.0 927.9L1134.0 929.4L1138.0 930.6L1142.0 931.4L1146.0 932.5L1150.0 933.0L1154.0 934.0L1158.0 934.6L1162.0 935.5L1166.0 936.4L1170.0 937.5L1174.0 938.3L1178.0 939.4L1182.0 940.1L1186.0 941.2L1190.0 941.2L1194.0 942.3L1198.0 942.7L1202.0 944.7L1206.0 945.6L1210.0 947.1L1214.0 948.0L1218.0 949.1L1222.0 950.4L1226.0 951.4L1230.0 953.0L1234.0 954.5L1238.0 956.4L1242.0 958.2L1246.0 959.3L1250.0 960.2L1254.0 961.4L1258.0 963.4L1262.0 964.9L1266.0 966.6L1270.0 967.7L1274.0 968.8L1278.0 970.1L1282.0 972.1L1286.0 974.6L1290.0 976.4L1294.0 977.7L1298.0 978.7L1302.0 979.5L1306.0 980.7L1310.0 982.6L1314.0 984.4L1318.0 985.9L1322.0 987.6L1326.0 989.6L1330.0 990.8L1334.0 991.7L1338.0 992.7L1342.0 994.4L1346.0 995.4L1350.0 997.5L1354.0 999.0L1358.0 1001.0L1362.0 1001.1L1366.0 1002.3L1370.0 1003.1L1374.0 1005.0L1378.0 1006.2L1382.0 1007.8L1386.0 1008.9L1390.0 1009.8L1394.0 1010.9L1398.0 1011.3L1402.0 1012.7L1406.0 1013.6L1410.0 1015.9L1414.0 1016.8L1418.0 1017.2L1422.0 1017.9L1426.0 1018.7L1430.0 1019.9L1434.0 1020.5L1438.0 1021.9L1442.0 1023.7L1446.0 1024.5L1450.0 1025.1L1454.0 1025.5L1458.0 1026.3L1462.0 1026.9L1466.0 1027.6L1470.0 1028.5L1474.0 1029.6L1478.0 1029.9L1482.0 1030.7L1486.0 1031.2L1490.0 1032.8L1494.0 1033.2L1498.0 1033.6L1502.0 1033.9L1506.0 1034.4L1510.0 1035.0L1514.0 1035.3L1518.0 1035.9L1522.0 1036.3L1526.0 1036.8L1530.0 1037.3L1534.0 1037.8L1538.0 1038.0L1542.0 1038.9L1546.0 1039.5L1550.0 1040.2L1554.0 1040.0L1558.0 1040.3L1562.0 1040.6L1566.0 1041.1L1570.0 1041.2L1574.0 1041.4L1578.0 1041.9L1582.0 1041.9L1586.0 1042.0L1590.0 1041.9L1594.0 1042.3L1598.0 1042.7L1602.0 1043.1L1606.0 1043.7L1610.0 1043.9L1614.0 1043.7L1618.0 1043.5L1622.0 1043.2L1626.0 1043.7L1630.0 1043.8L1634.0 1043.7L1638.0 1043.2L1642.0 1043.6L1646.0 1043.7L1650.0 1043.4L1654.0 1043.5L1658.0 1044.0L1662.0 1045.0L1666.0 1045.3L1670.0 1045.5L1674.0 1045.5L1678.0 1045.4L1682.0 1045.1L1686.0 1044.4L1690.0 1043.9L1694.0 1044.2L1698.0 1044.9L1702.0 1045.4L1706.0 1045.0L1710.0 1044.9L1714.0 1044.8L1718.0 1045.0L1722.0 1044.6L1726.0 1044.3L1730.0 1044.1L1734.0 1044.3L1738.0 1045.0L1742.0 1045.8L1746.0 1045.7L1750.0 1045.4L1754.0 1044.9L1758.0 1045.0L1762.0 1045.1L1766.0 1045.3L1770.0 1045.0L1774.0 1045.4L1778.0 1045.1L1782.0 1045.2L1786.0 1045.4L1790.0 1045.2L1794.0 1045.5L1798.0 1044.7L1802.0 1045.2L1806.0 1044.5L1810.0 1044.9L1811.8 1044.5"/>
<path d="M393.8 -2.2L395.8 13.7L397.8 29.5L399.8 45.6L401.8 61.6L403.8 77.5L405.8 93.5L407.8 109.9L409.8 127.0L411.8 145.5L413.8 165.1L415.8 185.6L417.8 206.5L419.8 227.1L421.8 247.2L423.8 266.1L425.8 283.1L427.8 299.3L429.8 314.8L431.8 329.9L433.8 344.6L435.8 359.4L437.8 373.9L439.8 388.4L441.8 403.0L443.8 417.4L445.8 431.5L447.8 444.9L449.8 457.3L451.8 468.4L453.8 477.5L455.8 486.0L457.8 495.7L459.8 508.1L461.8 522.4L463.8 536.9L465.8 550.6L467.8 564.6L469.8 577.9L471.8 590.1L473.8 601.4L475.8 612.3L477.8 623.1L479.8 634.2L481.8 645.6L483.8 656.6L485.8 666.8L487.8 676.5L489.8 685.6L491.8 693.9L493.8 701.4L495.8 708.7L497.8 715.5L499.8 721.6L501.8 727.0L503.8 731.7L505.8 736.2L507.8 739.8L509.8 743.0L511.8 745.4L513.8 747.7L515.8 749.7L517.8 751.0L519.8 752.6L521.8 753.7L524.3 756.1L526.8 757.5L529.3 759.3L531.8 760.2L534.3 761.4L536.8 762.5L539.3 763.2L541.8 763.9L544.3 764.6L546.8 764.7L549.3 765.2L551.8 765.2L554.3 765.3L556.8 765.0L559.3 764.9L561.8 764.5L564.3 764.6L566.8 764.4L569.3 764.5L571.8 764.1L574.3 764.5L576.8 764.7L579.3 764.6L581.8 764.9L584.3 765.2L586.8 765.5L589.3 765.5L591.8 766.5L594.3 767.8L596.8 768.2L599.3 767.8L601.8 767.0L604.3 765.7L606.8 764.7L609.3 764.1L611.8 763.3L614.3 762.7L616.8 761.6L619.3 761.7L621.8 760.3L624.3 759.6L626.8 758.3L629.3 757.9L631.8 756.8L634.3 756.1L636.8 755.2L639.3 754.4L641.8 753.4L644.3 752.1L646.8 751.5L649.3 750.9L651.8 750.8L654.3 750.0L656.8 749.4L659.3 748.7L661.8 748.2L664.3 747.2L666.8 746.3L669.3 745.5L671.8 745.1L674.3 744.7L676.8 743.5L679.3 742.9L681.8 741.3L684.3 740.2L686.8 738.7L689.3 738.0L691.8 737.0L694.3 736.1L696.8 735.4L699.3 734.7L701.8 733.9L704.3 733.0L706.8 732.9L709.3 732.9L711.8 732.9L714.3 733.7L716.8 733.7L719.3 734.7L721.8 735.4L724.3 736.9L726.8 737.8L729.3 738.7L731.8 740.0L734.3 741.1L736.8 742.2L739.3 743.4L741.8 745.0L744.3 746.8L746.8 748.1L749.3 749.4L751.8 750.0L754.3 750.5L756.8 750.6L759.3 750.5L761.8 750.1L764.3 749.5L766.8 749.3L769.3 748.9L771.8 748.5L774.3 748.4L776.8 749.6L779.3 751.0L781.8 753.1L784.3 755.2L786.8 757.3L789.3 760.2L791.8 763.5L794.3 766.5L796.8 769.0L799.3 771.6L801.8 775.8L804.3 780.3L806.8 784.3L809.3 788.1L811.8 791.9L814.3 795.8L816.8 799.0L819.3 802.0L821.8 805.1L824.3 808.8L826.8 811.1L829.3 813.2L831.8 815.4L834.3 818.4L836.8 821.4L839.3 823.9L841.8 826.2L844.3 828.5L846.8 830.5L849.3 833.0L851.8 835.0L854.3 836.9L856.8 838.7L859.3 840.4L861.8 842.0L864.3 843.8L866.8 845.5L869.3 847.3L871.8 848.6L874.3 850.4L876.8 851.8L879.3 853.2L881.8 854.5L884.3 856.0L886.8 857.7L889.3 859.8L891.8 861.4L894.3 862.4L896.8 863.7L899.3 864.7L901.8 866.4L905.8 868.1L909.8 869.9L913.8 871.7L917.8 873.5L921.8 875.3L925.8 876.8L929.8 878.7L933.8 880.6L937.8 882.3L941.8 883.8L945.8 885.4L949.8 886.8L953.8 887.9L957.8 889.3L961.8 891.1L965.8 892.7L969.8 894.4L973.8 895.2L977.8 896.1L981.8 896.7L985.8 897.9L989.8 898.9L993.8 899.9L997.8 900.0L1001.8 900.9L1005.8 901.8L1009.8 902.8L1013.8 903.4L1017.8 903.6L1021.8 904.1L1025.8 904.5L1029.8 904.8L1033.8 905.6L1037.8 905.7L1041.8 906.7L1045.8 905.9L1049.8 906.6L1053.8 905.9L1057.8 906.7L1061.8 906.7L1065.8 907.8L1069.8 908.1L1073.8 908.9L1077.8 909.0L1081.8 910.1L1085.8 910.5L1089.8 911.9L1093.8 912.5L1097.8 913.1L1101.8 913.4L1105.8 913.5L1109.8 914.4L1113.8 914.9L1117.8 915.7L1121.8 916.1L1125.8 917.0L1129.8 917.7L1133.8 918.6L1137.8 919.4L1141.8 920.6L1145.8 921.5L1149.8 922.2L1153.8 923.2L1157.8 924.2L1161.8 925.6L1165.8 926.5L1169.8 927.2L1173.8 928.2L1177.8 929.7L1181.8 930.6L1185.8 932.1L1189.8 932.5L1193.8 934.3L1197.8 935.1L1201.8 936.7L1205.8 937.6L1209.8 938.3L1213.8 939.9L1217.8 941.0L1221.8 942.6L1225.8 943.8L1229.8 944.9L1233.8 946.8L1237.8 948.1L1241.8 950.5L1245.8 951.8L1249.8 953.1L1253.8 954.1L1257.8 955.6L1261.8 957.4L1265.8 959.1L1269.8 960.9L1273.8 962.2L1277.8 964.3L1281.8 965.9L1285.8 967.8L1289.8 969.3L1293.8 971.6L1297.8 973.4L1301.8 974.8L1305.8 976.7L1309.8 978.2L1313.8 980.3L1317.8 981.5L1321.8 983.0L1325.8 984.3L1329.8 985.4L1333.8 987.3L1337.8 988.6L1341.8 990.8L1345.8 992.0L1349.8 993.5L1353.8 994.5L1357.8 995.6L1361.8 997.3L1365.8 999.1L1369.8 1001.2L1373.8 1002.4L1377.8 1003.5L1381.8 1004.7L1385.8 1006.1L1389.8 1007.5L1393.8 1008.4L1397.8 1009.8L1401.8 1011.0L1405.8 1012.1L1409.8 1013.2L1413.8 1014.3L1417.8 1015.5L1421.8 1016.6L1425.8 1017.8L1429.8 1018.7L1433.8 1019.5L1437.8 1020.5L1441.8 1021.9L1445.8 1023.3L1449.8 1024.7L1453.8 1025.4L1457.8 1026.0L1461.8 1026.5L1465.8 1027.7L1469.8 1028.5L1473.8 1029.2L1477.8 1029.8L1481.8 1030.7L1485.8 1031.5L1489.8 1032.2L1493.8 1033.1L1497.8 1034.0L1501.8 1034.5L1505.8 1035.1L1509.8 1035.6L1513.8 1036.7L1517.8 1036.9L1521.8 1037.4L1525.8 1038.4L1529.8 1039.6L1533.8 1039.9L1537.8 1040.1L1541.8 1040.6L1545.8 1041.6L1549.8 1042.0L1553.8 1042.2L1557.8 1042.4L1561.8 1042.5L1565.8 1043.0L1569.8 1043.3L1573.8 1043.8L1577.8 1044.1L1581.8 1044.0L1585.8 1044.2L1589.8 1044.6L1593.8 1045.1L1597.8 1044.9L1601.8 1045.0L1605.8 1045.5L1609.8 1046.2L1613.8 1046.4L1617.8 1046.4L1621.8 1046.4L1625.8 1046.9L1629.8 1047.1L1633.8 1047.0L1637.8 1046.6L1641.8 1046.7L1645.8 1047.2L1649.8 1047.1L1653.8 1047.6L1657.8 1047.6L1661.8 1048.1L1665.8 1048.4L1669.8 1048.7L1673.8 1048.5L1677.8 1047.8L1681.8 1047.8L1685.8 1048.2L1689.8 1048.5L1693.8 1048.2L1697.8 1048.3L1701.8 1048.4L1705.8 1048.4L1709.8 1047.8L1713.8 1047.7L1717.8 1048.0L1721.8 1048.4L1725.8 1048.3L1729.8 1047.9L1733.8 1047.8L1737.8 1047.9L1741.8 1048.2L1745.8 1047.8L1749.8 1047.9L1753.8 1048.0L1757.8 1048.3L1761.8 1048.0L1765.8 1048.4L1769.8 1047.8L1773.8 1047.8L1777.8 1047.7L1781.8 1048.7L1785.8 1048.9L1789.8 1048.8L1793.8 1049.0L1797.8 1048.9L1801.8 1048.8L1805.8 1048.8L1809.8 1048.4L1811.6 1048.5"/>
<path d="M393.5 -1.3L395.5 14.6L397.5 30.8L399.5 46.9L401.5 63.1L403.5 78.9L405.5 95.0L407.5 111.5L409.5 128.9L411.5 147.5L413.5 167.6L415.5 188.3L417.5 209.3L419.5 229.8L421.5 250.0L423.5 268.9L425.5 286.3L427.5 302.8L429.5 318.7L431.5 334.1L433.5 349.3L435.5 364.3L437.5 379.1L439.5 393.8L441.5 408.7L443.5 423.6L445.5 438.0L447.5 451.6L449.5 464.2L451.5 475.3L453.5 484.6L455.5 493.0L457.5 502.8L459.5 515.5L461.5 530.3L463.5 545.3L465.5 559.6L467.5 574.1L469.5 588.0L471.5 600.6L473.5 612.4L475.5 623.8L477.5 635.0L479.5 646.7L481.5 658.6L483.5 670.0L485.5 680.5L487.5 690.4L489.5 699.7L491.5 708.3L493.5 716.2L495.5 723.9L497.5 730.9L499.5 737.2L501.5 742.4L503.5 747.2L505.5 751.4L507.5 755.3L509.5 758.2L511.5 760.5L513.5 762.5L515.5 764.4L517.5 765.8L519.5 767.0L521.5 768.6L524.0 770.0L526.5 771.9L529.0 772.2L531.5 772.9L534.0 773.2L536.5 774.8L539.0 775.8L541.5 776.3L544.0 776.8L546.5 777.1L549.0 777.4L551.5 777.5L554.0 777.7L556.5 776.9L559.0 776.2L561.5 775.8L564.0 775.9L566.5 775.8L569.0 775.7L571.5 775.9L574.0 776.4L576.5 776.6L579.0 776.7L581.5 777.0L584.0 777.0L586.5 777.3L589.0 777.5L591.5 777.2L594.0 776.9L596.5 776.6L599.0 777.3L601.5 777.7L604.0 777.5L606.5 776.5L609.0 775.4L611.5 774.8L614.0 774.3L616.5 774.1L619.0 773.5L621.5 772.8L624.0 772.3L626.5 771.1L629.0 770.7L631.5 769.7L634.0 768.9L636.5 767.8L639.0 767.4L641.5 766.4L644.0 765.4L646.5 763.9L649.0 763.4L651.5 762.9L654.0 762.8L656.5 762.1L659.0 761.6L661.5 760.4L664.0 759.5L666.5 758.7L669.0 758.0L671.5 757.7L674.0 757.3L676.5 756.3L679.0 755.3L681.5 753.6L684.0 753.0L686.5 751.3L689.0 750.4L691.5 748.9L694.0 748.1L696.5 747.0L699.0 746.3L701.5 745.4L704.0 745.4L706.5 744.4L709.0 744.5L711.5 744.3L714.0 744.9L716.5 745.1L719.0 745.1L721.5 745.4L724.0 746.1L726.5 746.5L729.0 747.1L731.5 747.3L734.0 748.2L736.5 748.9L739.0 749.3L741.5 750.4L744.0 751.4L746.5 753.1L749.0 754.1L751.5 754.6L754.0 754.6L756.5 754.0L759.0 753.8L761.5 753.4L764.0 753.5L766.5 753.2L769.0 753.1L771.5 752.5L774.0 752.6L776.5 753.4L779.0 754.4L781.5 756.0L784.0 757.8L786.5 759.7L789.0 762.0L791.5 764.1L794.0 766.8L796.5 768.8L799.0 771.4L801.5 774.5L804.0 778.1L806.5 781.4L809.0 784.9L811.5 788.5L814.0 791.9L816.5 794.8L819.0 797.3L821.5 799.9L824.0 802.1L826.5 804.6L829.0 806.6L831.5 809.2L834.0 811.5L836.5 814.1L839.0 816.4L841.5 818.7L844.0 820.7L846.5 822.6L849.0 824.1L851.5 826.1L854.0 828.2L856.5 830.2L859.0 831.5L861.5 833.2L864.0 835.0L866.5 836.9L869.0 838.4L871.5 839.8L874.0 841.4L876.5 843.0L879.0 844.5L881.5 845.8L884.0 846.5L886.5 847.7L889.0 849.6L891.5 851.8L894.0 853.3L896.5 853.9L899.0 855.2L901.5 856.7L905.5 859.1L909.5 861.0L913.5 862.7L917.5 864.1L921.5 865.2L925.5 866.8L929.5 868.3L933.5 870.4L937.5 872.0L941.5 874.3L945.5 875.5L949.5 877.2L953.5 878.2L957.5 880.0L961.5 881.1L965.5 883.0L969.5 884.2L973.5 885.1L977.5 885.4L981.5 886.2L985.5 887.5L989.5 889.2L993.5 889.7L997.5 890.3L1001.5 890.6L1005.5 891.6L1009.5 892.8L1013.5 893.4L1017.5 893.5L1021.5 894.0L1025.5 894.6L1029.5 895.0L1033.5 894.7L1037.5 894.7L1041.5 895.4L1045.5 896.0L1049.5 896.4L1053.5 896.6L1057.5 896.6L1061.5 897.0L1065.5 897.7L1069.5 898.5L1073.5 898.5L1077.5 898.7L1081.5 899.2L1085.5 900.7L1089.5 901.6L1093.5 901.4L1097.5 901.1L1101.5 901.6L1105.5 903.0L1109.5 904.3L1113.5 905.5L1117.5 906.1L1121.5 907.2L1125.5 907.6L1129.5 908.7L1133.5 908.8L1137.5 909.4L1141.5 910.9L1145.5 912.4L1149.5 913.9L1153.5 914.7L1157.5 915.8L1161.5 916.8L1165.5 917.9L1169.5 919.0L1173.5 919.8L1177.5 920.6L1181.5 921.8L1185.5 922.9L1189.5 924.4L1193.5 925.4L1197.5 926.4L1201.5 926.9L1205.5 928.4L1209.5 930.6L1213.5 932.4L1217.5 933.0L1221.5 934.1L1225.5 935.4L1229.5 937.6L1233.5 939.0L1237.5 940.8L1241.5 942.3L1245.5 943.7L1249.5 945.5L1253.5 947.1L1257.5 949.1L1261.5 950.5L1265.5 952.3L1269.5 953.7L1273.5 955.8L1277.5 957.4L1281.5 959.2L1285.5 961.1L1289.5 963.2L1293.5 965.3L1297.5 966.7L1301.5 968.5L1305.5 970.4L1309.5 972.6L1313.5 974.2L1317.5 975.9L1321.5 976.9L1325.5 978.8L1329.5 980.0L1333.5 982.3L1337.5 983.7L1341.5 986.1L1345.5 987.5L1349.5 989.2L1353.5 989.6L1357.5 990.8L1361.5 992.4L1365.5 994.3L1369.5 996.4L1373.5 997.5L1377.5 999.2L1381.5 1000.1L1385.5 1001.8L1389.5 1003.1L1393.5 1004.9L1397.5 1005.9L1401.5 1006.6L1405.5 1007.8L1409.5 1009.2L1413.5 1010.9L1417.5 1011.6L1421.5 1012.9L1425.5 1013.8L1429.5 1015.0L1433.5 1015.8L1437.5 1017.2L1441.5 1018.6L1445.5 1019.9L1449.5 1020.7L1453.5 1021.6L1457.5 1022.9L1461.5 1023.8L1465.5 1024.5L1469.5 1024.7L1473.5 1025.5L1477.5 1026.6L1481.5 1028.0L1485.5 1028.3L1489.5 1029.4L1493.5 1030.3L1497.5 1031.6L1501.5 1032.5L1505.5 1032.7L1509.5 1033.5L1513.5 1033.7L1517.5 1035.0L1521.5 1036.0L1525.5 1037.0L1529.5 1036.9L1533.5 1037.2L1537.5 1037.1L1541.5 1037.9L1545.5 1038.5L1549.5 1039.6L1553.5 1039.9L1557.5 1040.2L1561.5 1040.1L1565.5 1040.2L1569.5 1040.9L1573.5 1041.4L1577.5 1042.3L1581.5 1042.4L1585.5 1042.2L1589.5 1041.9L1593.5 1042.1L1597.5 1042.9L1601.5 1043.5L1605.5 1043.5L1609.5 1043.7L1613.5 1043.5L1617.5 1043.6L1621.5 1043.2L1625.5 1043.8L1629.5 1044.1L1633.5 1044.8L1637.5 1044.6L1641.5 1043.9L1645.5 1043.6L1649.5 1043.9L1653.5 1044.7L1657.5 1045.4L1661.5 1045.8L1665.5 1045.8L1669.5 1046.0L1673.5 1045.4L1677.5 1045.9L1681.5 1045.2L1685.5 1045.8L1689.5 1045.0L1693.5 1045.7L1697.5 1045.9L1701.5 1046.4L1705.5 1046.4L1709.5 1046.2L1713.5 1045.5L1717.5 1044.7L1721.5 1044.4L1725.5 1044.8L1729.5 1045.2L1733.5 1046.0L1737.5 1046.8L1741.5 1047.1L1745.5 1046.2L1749.5 1045.9L1753.5 1045.9L1757.5 1046.1L1761.5 1046.4L1765.5 1045.8L1769.5 1046.3L1773.5 1045.8L1777.5 1046.7L1781.5 1046.2L1785.5 1046.2L1789.5 1045.7L1793.5 1045.8L1797.5 1046.1L1801.5 1047.1L1805.5 1047.5L1809.5 1047.4L1811.3 1046.6"/>
<path d="M394.0 0.0L396.0 16.1L398.0 32.2L400.0 48.6L402.0 64.9L404.0 80.8L406.0 96.9L408.0 113.5L410.0 131.0L412.0 149.9L414.0 170.2L416.0 191.3L418.0 212.5L420.0 233.1L422.0 253.3L424.0 272.3L426.0 290.0L428.0 306.9L430.0 323.2L432.0 338.9L434.0 354.5L436.0 369.8L438.0 384.9L440.0 400.0L442.0 415.4L444.0 430.6L446.0 445.2L448.0 459.1L450.0 471.8L452.0 483.3L454.0 492.7L456.0 501.0L458.0 510.9L460.0 523.7L462.0 539.1L464.0 554.6L466.0 569.6L468.0 584.6L470.0 599.1L472.0 612.2L474.0 624.5L476.0 636.3L478.0 648.1L480.0 660.4L482.0 673.0L484.0 685.1L486.0 696.2L488.0 706.3L490.0 715.9L492.0 724.8L494.0 732.8L496.0 740.6L498.0 748.0L500.0 754.4L502.0 759.5L504.0 764.4L506.0 768.9L508.0 772.9L510.0 775.8L512.0 778.2L514.0 779.7L516.0 781.4L518.0 782.8L520.0 784.2L522.0 785.3L524.5 786.3L527.0 787.9L529.5 788.9L532.0 790.2L534.5 790.3L537.0 790.7L539.5 790.9L542.0 791.4L544.5 792.0L547.0 792.4L549.5 792.5L552.0 792.2L554.5 791.7L557.0 791.6L559.5 791.5L562.0 791.2L564.5 790.9L567.0 790.5L569.5 790.6L572.0 790.0L574.5 790.4L577.0 790.4L579.5 790.7L582.0 790.5L584.5 790.4L587.0 790.0L589.5 790.4L592.0 790.4L594.5 791.8L597.0 792.5L599.5 792.8L602.0 792.2L604.5 791.5L607.0 790.8L609.5 789.9L612.0 789.5L614.5 788.7L617.0 788.5L619.5 787.3L622.0 787.0L624.5 786.1L627.0 785.9L629.5 785.1L632.0 784.6L634.5 783.7L637.0 783.0L639.5 782.3L642.0 782.1L644.5 781.6L647.0 780.5L649.5 778.9L652.0 778.2L654.5 777.3L657.0 777.2L659.5 776.0L662.0 775.7L664.5 774.4L667.0 774.0L669.5 773.2L672.0 773.1L674.5 771.8L677.0 771.0L679.5 769.5L682.0 769.1L684.5 768.0L687.0 767.3L689.5 765.8L692.0 765.1L694.5 763.6L697.0 762.3L699.5 761.4L702.0 760.2L704.5 760.0L707.0 758.7L709.5 758.4L712.0 757.8L714.5 757.5L717.0 758.0L719.5 757.9L722.0 758.7L724.5 757.9L727.0 757.9L729.5 757.6L732.0 758.5L734.5 758.1L737.0 758.2L739.5 758.3L742.0 759.2L744.5 759.6L747.0 759.9L749.5 760.7L752.0 760.9L754.5 760.6L757.0 759.7L759.5 759.5L762.0 759.5L764.5 759.3L767.0 758.8L769.5 758.3L772.0 757.7L774.5 757.9L777.0 758.2L779.5 759.3L782.0 760.2L784.5 761.7L787.0 763.0L789.5 764.6L792.0 766.2L794.5 767.9L797.0 769.6L799.5 771.1L802.0 773.5L804.5 776.5L807.0 779.3L809.5 782.1L812.0 784.7L814.5 787.5L817.0 790.0L819.5 792.7L822.0 795.2L824.5 797.5L827.0 799.7L829.5 801.8L832.0 804.1L834.5 806.2L837.0 808.4L839.5 810.0L842.0 811.7L844.5 813.4L847.0 815.3L849.5 817.3L852.0 819.3L854.5 821.0L857.0 822.8L859.5 824.3L862.0 825.9L864.5 827.8L867.0 829.0L869.5 830.5L872.0 831.1L874.5 833.0L877.0 834.8L879.5 836.7L882.0 838.2L884.5 839.3L887.0 840.7L889.5 842.1L892.0 843.9L894.5 844.7L897.0 845.4L899.5 846.0L902.0 847.3L906.0 849.3L910.0 851.1L914.0 853.1L918.0 855.1L922.0 856.7L926.0 858.5L930.0 860.1L934.0 861.9L938.0 863.4L942.0 864.9L946.0 866.0L950.0 867.6L954.0 869.3L958.0 871.1L962.0 872.9L966.0 874.0L970.0 875.8L974.0 876.4L978.0 877.9L982.0 878.5L986.0 879.8L990.0 880.1L994.0 881.0L998.0 881.6L1002.0 883.0L1006.0 883.6L1010.0 883.8L1014.0 884.0L1018.0 885.0L1022.0 886.2L1026.0 886.4L1030.0 886.1L1034.0 885.9L1038.0 886.3L1042.0 886.7L1046.0 887.2L1050.0 887.2L1054.0 887.1L1058.0 887.6L1062.0 888.1L1066.0 889.0L1070.0 888.9L1074.0 889.2L1078.0 889.8L1082.0 891.0L1086.0 892.0L1090.0 892.7L1094.0 893.4L1098.0 893.6L1102.0 894.4L1106.0 894.7L1110.0 895.4L1114.0 896.3L1118.0 897.2L1122.0 898.3L1126.0 899.3L1130.0 900.6L1134.0 901.4L1138.0 902.1L1142.0 903.1L1146.0 904.6L1150.0 905.6L1154.0 906.3L1158.0 907.2L1162.0 908.5L1166.0 910.2L1170.0 911.7L1174.0 913.2L1178.0 913.8L1182.0 914.6L1186.0 915.2L1190.0 916.4L1194.0 917.6L1198.0 919.2L1202.0 920.8L1206.0 922.0L1210.0 923.0L1214.0 924.3L1218.0 926.2L1222.0 927.9L1226.0 929.1L1230.0 930.5L1234.0 932.0L1238.0 933.5L1242.0 935.6L1246.0 937.8L1250.0 939.9L1254.0 941.3L1258.0 942.9L1262.0 944.5L1266.0 946.6L1270.0 948.6L1274.0 950.6L1278.0 951.8L1282.0 953.5L1286.0 955.7L1290.0 958.1L1294.0 960.3L1298.0 961.6L1302.0 963.5L1306.0 965.1L1310.0 967.3L1314.0 969.3L1318.0 971.3L1322.0 973.5L1326.0 975.3L1330.0 976.9L1334.0 978.1L1338.0 979.9L1342.0 981.4L1346.0 983.4L1350.0 985.0L1354.0 986.9L1358.0 988.6L1362.0 989.8L1366.0 991.5L1370.0 992.9L1374.0 994.9L1378.0 996.3L1382.0 997.6L1386.0 998.7L1390.0 1000.1L1394.0 1001.9L1398.0 1003.1L1402.0 1004.6L1406.0 1005.8L1410.0 1007.1L1414.0 1008.2L1418.0 1009.3L1422.0 1010.9L1426.0 1011.9L1430.0 1013.5L1434.0 1014.9L1438.0 1016.7L1442.0 1017.4L1446.0 1018.2L1450.0 1018.8L1454.0 1020.0L1458.0 1021.3L1462.0 1021.9L1466.0 1022.9L1470.0 1023.6L1474.0 1024.9L1478.0 1026.1L1482.0 1027.8L1486.0 1028.7L1490.0 1029.3L1494.0 1029.0L1498.0 1029.6L1502.0 1030.3L1506.0 1032.0L1510.0 1033.0L1514.0 1033.6L1518.0 1033.8L1522.0 1034.9L1526.0 1035.8L1530.0 1036.0L1534.0 1036.7L1538.0 1037.2L1542.0 1038.0L1546.0 1038.6L1550.0 1038.6L1554.0 1039.1L1558.0 1039.2L1562.0 1040.0L1566.0 1040.2L1570.0 1040.7L1574.0 1041.4L1578.0 1041.6L1582.0 1041.5L1586.0 1041.9L1590.0 1042.2L1594.0 1042.7L1598.0 1042.4L1602.0 1042.9L1606.0 1043.3L1610.0 1044.3L1614.0 1044.1L1618.0 1043.8L1622.0 1043.8L1626.0 1043.7L1630.0 1044.2L1634.0 1044.1L1638.0 1044.6L1642.0 1044.7L1646.0 1044.7L1650.0 1044.7L1654.0 1044.7L1658.0 1045.3L1662.0 1046.0L1666.0 1046.4L1670.0 1046.0L1674.0 1045.8L1678.0 1045.8L1682.0 1045.7L1686.0 1045.6L1690.0 1045.4L1694.0 1046.1L1698.0 1046.5L1702.0 1047.1L1706.0 1046.5L1710.0 1046.2L1714.0 1045.2L1718.0 1045.3L1722.0 1045.3L1726.0 1045.5L1730.0 1045.2L1734.0 1045.1L1738.0 1045.6L1742.0 1045.5L1746.0 1045.3L1750.0 1045.2L1754.0 1045.7L1758.0 1046.1L1762.0 1046.1L1766.0 1046.3L1770.0 1046.1L1774.0 1046.1L1778.0 1046.2L1782.0 1046.2L1786.0 1046.2L1790.0 1045.7L1794.0 1046.1L1798.0 1046.4L1802.0 1046.9L1806.0 1046.7L1810.0 1046.8L1811.8 1046.7"/>
<path d="M393.8 1.0L395.8 17.1L397.8 33.4L399.8 49.8L401.8 66.1L403.8 82.2L405.8 98.4L407.8 115.1L409.8 132.7L411.8 151.9L413.8 172.4L415.8 193.6L417.8 214.8L419.8 235.4L421.8 255.7L423.8 275.0L425.8 292.8L427.8 310.0L429.8 326.6L431.8 342.8L433.8 358.6L435.8 374.3L437.8 389.6L439.8 405.1L441.8 420.6L443.8 436.0L445.8 450.9L447.8 465.1L449.8 478.1L451.8 489.6L453.8 499.0L455.8 507.4L457.8 517.3L459.8 530.4L461.8 546.0L463.8 561.9L465.8 577.3L467.8 593.0L469.8 608.0L471.8 621.6L473.8 634.2L475.8 646.2L477.8 658.4L479.8 671.2L481.8 684.2L483.8 696.8L485.8 708.2L487.8 718.8L489.8 728.7L491.8 737.7L493.8 745.9L495.8 753.7L497.8 761.2L499.8 767.7L501.8 773.1L503.8 778.2L505.8 783.0L507.8 786.7L509.8 789.6L511.8 791.2L513.8 793.2L515.8 794.5L517.8 795.9L519.8 797.5L521.8 799.0L524.3 799.7L526.8 799.8L529.3 800.2L531.8 801.5L534.3 803.0L536.8 803.6L539.3 803.8L541.8 804.2L544.3 805.0L546.8 804.7L549.3 804.2L551.8 803.5L554.3 803.0L556.8 803.1L559.3 802.1L561.8 802.1L564.3 801.5L566.8 801.7L569.3 801.7L571.8 800.8L574.3 800.8L576.8 800.8L579.3 801.7L581.8 801.5L584.3 801.5L586.8 801.4L589.3 802.3L591.8 802.3L594.3 802.7L596.8 802.4L599.3 802.6L601.8 803.0L604.3 803.2L606.8 803.0L609.3 802.0L611.8 801.0L614.3 799.9L616.8 799.4L619.3 799.0L621.8 798.9L624.3 798.0L626.8 797.6L629.3 797.2L631.8 796.8L634.3 796.3L636.8 795.5L639.3 795.2L641.8 794.0L644.3 793.2L646.8 791.8L649.3 791.2L651.8 790.3L654.3 789.8L656.8 788.8L659.3 788.0L661.8 787.7L664.3 787.1L666.8 786.4L669.3 785.2L671.8 784.1L674.3 783.1L676.8 782.4L679.3 781.4L681.8 780.6L684.3 779.2L686.8 778.2L689.3 777.2L691.8 776.1L694.3 774.9L696.8 773.8L699.3 772.4L701.8 771.5L704.3 771.0L706.8 771.0L709.3 770.4L711.8 769.2L714.3 768.5L716.8 767.8L719.3 767.3L721.8 766.3L724.3 765.7L726.8 766.2L729.3 766.3L731.8 765.9L734.3 765.0L736.8 764.5L739.3 765.6L741.8 765.7L744.3 766.0L746.8 766.0L749.3 766.7L751.8 766.7L754.3 766.3L756.8 765.3L759.3 765.3L761.8 764.9L764.3 764.7L766.8 763.7L769.3 763.4L771.8 762.9L774.3 763.3L776.8 763.5L779.3 763.7L781.8 764.0L784.3 764.5L786.8 765.4L789.3 766.5L791.8 767.6L794.3 768.4L796.8 769.3L799.3 770.6L801.8 772.9L804.3 775.2L806.8 777.2L809.3 779.4L811.8 781.7L814.3 784.2L816.8 786.6L819.3 788.5L821.8 790.2L824.3 792.0L826.8 793.9L829.3 796.1L831.8 797.9L834.3 799.6L836.8 801.1L839.3 803.1L841.8 804.7L844.3 806.6L846.8 808.3L849.3 810.2L851.8 812.1L854.3 813.2L856.8 815.5L859.3 816.9L861.8 818.8L864.3 819.5L866.8 821.2L869.3 822.7L871.8 824.3L874.3 825.7L876.8 826.8L879.3 828.4L881.8 829.4L884.3 830.7L886.8 831.6L889.3 833.1L891.8 834.4L894.3 835.7L896.8 837.2L899.3 838.4L901.8 839.7L905.8 840.9L909.8 842.8L913.8 844.6L917.8 846.2L921.8 847.5L925.8 849.3L929.8 851.2L933.8 853.2L937.8 855.0L941.8 857.1L945.8 858.3L949.8 859.5L953.8 860.5L957.8 862.1L961.8 863.6L965.8 864.9L969.8 866.5L973.8 867.3L977.8 868.4L981.8 869.2L985.8 870.6L989.8 871.4L993.8 872.0L997.8 872.5L1001.8 873.4L1005.8 873.9L1009.8 874.8L1013.8 875.7L1017.8 876.9L1021.8 877.1L1025.8 877.4L1029.8 877.2L1033.8 877.7L1037.8 877.6L1041.8 877.8L1045.8 878.1L1049.8 878.6L1053.8 878.8L1057.8 879.4L1061.8 880.0L1065.8 880.5L1069.8 880.7L1073.8 881.2L1077.8 881.5L1081.8 882.2L1085.8 882.7L1089.8 883.1L1093.8 883.8L1097.8 884.4L1101.8 885.0L1105.8 885.5L1109.8 886.3L1113.8 887.6L1117.8 888.3L1121.8 889.3L1125.8 889.8L1129.8 890.8L1133.8 891.9L1137.8 893.3L1141.8 895.1L1145.8 896.0L1149.8 897.3L1153.8 897.7L1157.8 899.5L1161.8 900.6L1165.8 901.8L1169.8 902.7L1173.8 903.8L1177.8 905.9L1181.8 907.4L1185.8 908.5L1189.8 909.3L1193.8 910.4L1197.8 911.8L1201.8 912.9L1205.8 914.2L1209.8 915.5L1213.8 917.2L1217.8 918.7L1221.8 920.5L1225.8 922.0L1229.8 923.6L1233.8 925.8L1237.8 927.7L1241.8 929.7L1245.8 931.7L1249.8 933.5L1253.8 935.1L1257.8 935.9L1261.8 937.6L1265.8 939.8L1269.8 941.9L1273.8 943.7L1277.8 945.6L1281.8 947.9L1285.8 950.9L1289.8 952.6L1293.8 955.0L1297.8 956.2L1301.8 958.9L1305.8 960.8L1309.8 963.2L1313.8 965.1L1317.8 967.0L1321.8 969.2L1325.8 970.8L1329.8 972.8L1333.8 974.6L1337.8 976.2L1341.8 977.4L1345.8 978.8L1349.8 980.9L1353.8 983.0L1357.8 985.0L1361.8 986.4L1365.8 987.8L1369.8 989.5L1373.8 991.4L1377.8 993.4L1381.8 995.2L1385.8 997.0L1389.8 998.2L1393.8 999.8L1397.8 1001.2L1401.8 1002.7L1405.8 1003.6L1409.8 1004.7L1413.8 1005.8L1417.8 1006.8L1421.8 1007.9L1425.8 1009.2L1429.8 1010.0L1433.8 1011.3L1437.8 1012.2L1441.8 1014.2L1445.8 1015.2L1449.8 1016.6L1453.8 1017.9L1457.8 1018.9L1461.8 1019.9L1465.8 1020.8L1469.8 1022.0L1473.8 1023.1L1477.8 1023.8L1481.8 1024.5L1485.8 1025.6L1489.8 1026.8L1493.8 1028.1L1497.8 1028.8L1501.8 1029.3L1505.8 1030.0L1509.8 1031.5L1513.8 1032.9L1517.8 1033.2L1521.8 1033.4L1525.8 1033.6L1529.8 1034.5L1533.8 1034.9L1537.8 1035.2L1541.8 1035.4L1545.8 1036.0L1549.8 1036.4L1553.8 1037.1L1557.8 1037.3L1561.8 1038.0L1565.8 1038.4L1569.8 1038.8L1573.8 1039.0L1577.8 1039.5L1581.8 1039.9L1585.8 1040.7L1589.8 1041.1L1593.8 1041.1L1597.8 1041.1L1601.8 1041.5L1605.8 1041.7L1609.8 1041.6L1613.8 1041.0L1617.8 1041.7L1621.8 1042.0L1625.8 1043.1L1629.8 1042.4L1633.8 1041.9L1637.8 1041.8L1641.8 1042.1L1645.8 1043.0L1649.8 1042.8L1653.8 1043.4L1657.8 1043.5L1661.8 1043.9L1665.8 1044.0L1669.8 1044.2L1673.8 1044.4L1677.8 1044.7L1681.8 1044.9L1685.8 1045.2L1689.8 1045.0L1693.8 1045.0L1697.8 1045.0L1701.8 1045.3L1705.8 1045.5L1709.8 1045.0L1713.8 1043.8L1717.8 1043.3L1721.8 1043.0L1725.8 1042.8L1729.8 1042.8L1733.8 1043.2L1737.8 1043.9L1741.8 1044.4L1745.8 1045.2L1749.8 1045.1L1753.8 1044.8L1757.8 1044.4L1761.8 1044.9L1765.8 1045.0L1769.8 1044.7L1773.8 1043.8L1777.8 1044.1L1781.8 1044.3L1785.8 1045.4L1789.8 1045.7L1793.8 1046.3L1797.8 1046.0L1801.8 1045.8L1805.8 1045.0L1809.8 1045.0L1811.6 1044.8"/>
<path d="M393.5 1.8L395.5 18.1L397.5 34.4L399.5 50.8L401.5 67.2L403.5 83.4L405.5 99.7L407.5 116.5L409.5 134.1L411.5 153.3L413.5 174.0L415.5 195.4L417.5 216.8L419.5 237.4L421.5 257.7L423.5 277.1L425.5 295.0L427.5 312.4L429.5 329.2L431.5 345.6L433.5 361.7L435.5 377.5L437.5 393.1L439.5 408.9L441.5 424.6L443.5 440.2L445.5 455.3L447.5 469.6L449.5 482.7L451.5 494.4L453.5 503.8L455.5 512.3L457.5 522.1L459.5 535.3L461.5 551.1L463.5 567.4L465.5 583.1L467.5 599.1L469.5 614.4L471.5 628.4L473.5 641.5L475.5 654.0L477.5 666.5L479.5 679.5L481.5 692.8L483.5 705.8L485.5 717.6L487.5 728.3L489.5 738.3L491.5 747.5L493.5 755.9L495.5 764.1L497.5 771.7L499.5 778.1L501.5 783.3L503.5 787.8L505.5 792.3L507.5 796.0L509.5 799.3L511.5 801.0L513.5 802.9L515.5 804.4L517.5 806.2L519.5 807.3L521.5 808.7L524.0 809.9L526.5 810.7L529.0 811.4L531.5 811.9L534.0 812.2L536.5 812.2L539.0 812.7L541.5 813.6L544.0 814.4L546.5 814.4L549.0 813.7L551.5 812.9L554.0 812.5L556.5 811.8L559.0 811.5L561.5 810.6L564.0 810.1L566.5 809.8L569.0 809.7L571.5 809.4L574.0 808.4L576.5 808.6L579.0 809.1L581.5 810.5L584.0 811.0L586.5 811.5L589.0 811.2L591.5 811.2L594.0 811.3L596.5 811.6L599.0 811.9L601.5 811.3L604.0 811.4L606.5 810.8L609.0 810.6L611.5 809.6L614.0 809.3L616.5 809.1L619.0 808.3L621.5 807.4L624.0 806.6L626.5 806.2L629.0 805.3L631.5 805.1L634.0 804.8L636.5 804.1L639.0 803.1L641.5 802.4L644.0 802.2L646.5 801.9L649.0 800.8L651.5 799.6L654.0 798.0L656.5 797.7L659.0 797.4L661.5 797.1L664.0 796.3L666.5 795.1L669.0 793.8L671.5 792.4L674.0 791.8L676.5 790.3L679.0 789.2L681.5 788.2L684.0 787.6L686.5 787.1L689.0 786.2L691.5 785.8L694.0 784.4L696.5 783.3L699.0 782.0L701.5 781.1L704.0 779.9L706.5 779.1L709.0 778.0L711.5 777.2L714.0 776.8L716.5 776.3L719.0 775.5L721.5 774.6L724.0 773.8L726.5 773.2L729.0 772.6L731.5 772.4L734.0 772.4L736.5 772.1L739.0 772.0L741.5 771.7L744.0 771.7L746.5 771.0L749.0 770.7L751.5 770.7L754.0 770.3L756.5 770.0L759.0 769.7L761.5 769.0L764.0 768.1L766.5 767.0L769.0 766.8L771.5 766.3L774.0 766.2L776.5 766.0L779.0 766.3L781.5 766.5L784.0 767.0L786.5 767.9L789.0 768.6L791.5 769.0L794.0 769.6L796.5 770.2L799.0 771.4L801.5 772.8L804.0 774.8L806.5 776.9L809.0 779.0L811.5 781.0L814.0 782.8L816.5 784.5L819.0 785.8L821.5 787.3L824.0 788.7L826.5 790.5L829.0 792.6L831.5 794.2L834.0 795.8L836.5 797.2L839.0 799.0L841.5 801.1L844.0 802.9L846.5 804.5L849.0 805.7L851.5 807.0L854.0 808.5L856.5 810.3L859.0 812.4L861.5 813.8L864.0 815.4L866.5 816.7L869.0 818.3L871.5 819.9L874.0 821.3L876.5 822.9L879.0 824.1L881.5 825.5L884.0 826.2L886.5 827.3L889.0 828.2L891.5 829.9L894.0 831.2L896.5 832.4L899.0 833.1L901.5 834.0L905.5 836.1L909.5 837.7L913.5 839.2L917.5 840.5L921.5 842.2L925.5 844.6L929.5 846.1L933.5 848.1L937.5 849.6L941.5 850.8L945.5 852.2L949.5 853.5L953.5 855.5L957.5 857.0L961.5 858.8L965.5 860.5L969.5 861.5L973.5 862.4L977.5 863.2L981.5 864.5L985.5 865.3L989.5 865.3L993.5 866.2L997.5 866.8L1001.5 868.2L1005.5 868.7L1009.5 869.3L1013.5 870.0L1017.5 870.3L1021.5 870.7L1025.5 871.4L1029.5 871.8L1033.5 872.3L1037.5 872.2L1041.5 872.6L1045.5 873.3L1049.5 873.9L1053.5 873.8L1057.5 874.0L1061.5 874.2L1065.5 874.9L1069.5 875.4L1073.5 875.8L1077.5 876.8L1081.5 877.3L1085.5 877.4L1089.5 878.0L1093.5 878.7L1097.5 879.9L1101.5 880.6L1105.5 881.7L1109.5 881.9L1113.5 883.3L1117.5 883.7L1121.5 884.8L1125.5 885.2L1129.5 886.4L1133.5 887.7L1137.5 888.8L1141.5 890.1L1145.5 891.1L1149.5 892.2L1153.5 893.3L1157.5 895.0L1161.5 896.1L1165.5 897.3L1169.5 898.4L1173.5 899.4L1177.5 900.6L1181.5 901.8L1185.5 903.3L1189.5 904.4L1193.5 905.6L1197.5 907.0L1201.5 908.6L1205.5 910.4L1209.5 912.4L1213.5 913.8L1217.5 915.6L1221.5 916.5L1225.5 918.2L1229.5 919.6L1233.5 921.6L1237.5 923.1L1241.5 925.1L1245.5 926.7L1249.5 928.6L1253.5 930.0L1257.5 932.5L1261.5 934.9L1265.5 937.5L1269.5 939.5L1273.5 941.4L1277.5 943.6L1281.5 945.5L1285.5 948.1L1289.5 949.6L1293.5 952.0L1297.5 953.9L1301.5 955.8L1305.5 957.7L1309.5 960.2L1313.5 962.3L1317.5 963.8L1321.5 965.4L1325.5 968.0L1329.5 970.2L1333.5 972.4L1337.5 973.8L1341.5 975.6L1345.5 977.4L1349.5 979.4L1353.5 980.9L1357.5 982.7L1361.5 984.4L1365.5 986.2L1369.5 987.8L1373.5 989.1L1377.5 990.9L1381.5 992.2L1385.5 994.1L1389.5 995.6L1393.5 997.6L1397.5 999.6L1401.5 1001.1L1405.5 1002.2L1409.5 1003.3L1413.5 1005.0L1417.5 1006.2L1421.5 1007.1L1425.5 1008.2L1429.5 1009.3L1433.5 1011.1L1437.5 1012.2L1441.5 1014.2L1445.5 1015.7L1449.5 1017.0L1453.5 1017.6L1457.5 1018.7L1461.5 1019.9L1465.5 1021.3L1469.5 1022.9L1473.5 1023.9L1477.5 1025.5L1481.5 1025.7L1485.5 1027.3L1489.5 1028.2L1493.5 1029.6L1497.5 1030.5L1501.5 1030.9L1505.5 1031.8L1509.5 1032.2L1513.5 1033.2L1517.5 1034.4L1521.5 1034.7L1525.5 1035.8L1529.5 1036.4L1533.5 1037.4L1537.5 1037.4L1541.5 1037.5L1545.5 1038.4L1549.5 1039.8L1553.5 1040.0L1557.5 1040.2L1561.5 1040.2L1565.5 1041.1L1569.5 1040.8L1573.5 1041.3L1577.5 1041.2L1581.5 1042.3L1585.5 1042.6L1589.5 1042.8L1593.5 1043.5L1597.5 1043.6L1601.5 1044.2L1605.5 1044.1L1609.5 1044.2L1613.5 1044.6L1617.5 1045.0L1621.5 1045.1L1625.5 1045.0L1629.5 1045.1L1633.5 1045.7L1637.5 1046.3L1641.5 1046.8L1645.5 1047.0L1649.5 1046.9L1653.5 1047.2L1657.5 1046.8L1661.5 1047.3L1665.5 1047.5L1669.5 1048.4L1673.5 1048.4L1677.5 1048.7L1681.5 1048.4L1685.5 1048.5L1689.5 1048.7L1693.5 1048.9L1697.5 1048.7L1701.5 1048.5L1705.5 1048.4L1709.5 1048.7L1713.5 1048.6L1717.5 1048.5L1721.5 1048.2L1725.5 1048.1L1729.5 1048.5L1733.5 1048.4L1737.5 1048.1L1741.5 1048.2L1745.5 1048.8L1749.5 1048.7L1753.5 1048.6L1757.5 1048.8L1761.5 1049.1L1765.5 1049.1L1769.5 1048.3L1773.5 1048.4L1777.5 1048.9L1781.5 1048.9L1785.5 1048.8L1789.5 1048.7L1793.5 1048.6L1797.5 1048.8L1801.5 1048.5L1805.5 1048.6L1809.5 1048.3L1811.3 1048.4"/>
<path d="M393.2 2.2L395.2 18.4L397.2 34.8L399.2 51.4L401.2 67.9L403.2 84.1L405.2 100.4L407.2 117.2L409.2 134.9L411.2 154.2L413.2 175.0L415.2 196.5L417.2 217.9L419.2 238.5L421.2 258.8L423.2 278.1L425.2 296.1L427.2 313.7L429.2 330.7L431.2 347.2L433.2 363.5L435.2 379.4L437.2 395.2L439.2 410.9L441.2 426.9L443.2 442.6L445.2 457.9L447.2 472.3L449.2 485.6L451.2 497.2L453.2 506.6L455.2 514.9L457.2 524.9L459.2 538.3L461.2 554.4L463.2 570.8L465.2 586.7L467.2 602.8L469.2 618.5L471.2 632.7L473.2 645.9L475.2 658.6L477.2 671.4L479.2 684.6L481.2 698.2L483.2 711.3L485.2 723.1L487.2 734.0L489.2 744.3L491.2 753.7L493.2 762.2L495.2 770.2L497.2 777.6L499.2 784.1L501.2 789.5L503.2 794.7L505.2 799.0L507.2 802.8L509.2 805.4L511.2 807.1L513.2 808.4L515.2 810.0L517.2 811.7L519.2 812.9L521.2 814.1L523.7 815.1L526.2 816.1L528.7 816.6L531.2 817.1L533.7 817.7L536.2 817.7L538.7 817.8L541.2 818.2L543.7 818.8L546.2 819.2L548.7 818.4L551.2 817.6L553.7 816.6L556.2 816.0L558.7 815.5L561.2 815.0L563.7 815.0L566.2 814.2L568.7 814.0L571.2 813.4L573.7 813.5L576.2 814.2L578.7 815.1L581.2 815.7L583.7 815.5L586.2 815.4L588.7 815.5L591.2 814.7L593.7 814.1L596.2 814.3L598.7 814.5L601.2 815.4L603.7 815.3L606.2 815.8L608.7 815.2L611.2 814.8L613.7 814.1L616.2 814.0L618.7 813.3L621.2 812.7L623.7 812.1L626.2 811.7L628.7 811.5L631.2 810.7L633.7 810.7L636.2 810.0L638.7 809.1L641.2 807.4L643.7 806.7L646.2 806.3L648.7 805.6L651.2 804.6L653.7 802.9L656.2 802.0L658.7 801.0L661.2 800.6L663.7 800.1L666.2 799.0L668.7 798.1L671.2 797.4L673.7 797.1L676.2 795.8L678.7 794.6L681.2 793.3L683.7 792.2L686.2 790.6L688.7 789.4L691.2 788.5L693.7 788.0L696.2 787.0L698.7 785.6L701.2 784.8L703.7 784.1L706.2 784.2L708.7 783.1L711.2 782.1L713.7 780.9L716.2 780.2L718.7 779.2L721.2 778.1L723.7 777.5L726.2 776.8L728.7 776.2L731.2 775.3L733.7 775.7L736.2 775.4L738.7 774.8L741.2 773.5L743.7 772.7L746.2 772.5L748.7 772.5L751.2 772.1L753.7 771.5L756.2 771.3L758.7 770.8L761.2 770.3L763.7 769.4L766.2 768.9L768.7 768.5L771.2 768.3L773.7 767.7L776.2 767.6L778.7 767.7L781.2 768.1L783.7 768.3L786.2 768.6L788.7 769.2L791.2 769.5L793.7 769.3L796.2 769.3L798.7 770.1L801.2 771.7L803.7 773.6L806.2 775.3L808.7 776.6L811.2 778.4L813.7 780.0L816.2 782.4L818.7 784.4L821.2 786.2L823.7 787.4L826.2 788.1L828.7 789.3L831.2 790.8L833.7 792.9L836.2 794.9L838.7 796.4L841.2 798.0L843.7 799.6L846.2 801.7L848.7 803.1L851.2 804.5L853.7 805.7L856.2 807.4L858.7 808.9L861.2 810.8L863.7 811.9L866.2 813.8L868.7 814.6L871.2 815.9L873.7 817.0L876.2 819.0L878.7 820.5L881.2 821.8L883.7 822.5L886.2 823.5L888.7 824.6L891.2 826.5L893.7 827.8L896.2 828.6L898.7 828.6L901.2 829.8L905.2 832.0L909.2 834.2L913.2 835.9L917.2 837.2L921.2 839.2L925.2 840.9L929.2 842.4L933.2 843.6L937.2 845.4L941.2 847.4L945.2 848.5L949.2 849.7L953.2 851.1L957.2 852.5L961.2 854.2L965.2 856.0L969.2 857.9L973.2 858.6L977.2 859.2L981.2 860.1L985.2 861.1L989.2 862.1L993.2 862.5L997.2 863.2L1001.2 864.2L1005.2 865.3L1009.2 866.1L1013.2 866.3L1017.2 866.7L1021.2 866.8L1025.2 867.7L1029.2 868.3L1033.2 868.6L1037.2 868.5L1041.2 868.6L1045.2 868.9L1049.2 868.9L1053.2 869.0L1057.2 869.5L1061.2 870.4L1065.2 871.3L1069.2 872.0L1073.2 872.7L1077.2 873.3L1081.2 873.8L1085.2 873.6L1089.2 873.9L1093.2 874.9L1097.2 875.7L1101.2 877.1L1105.2 877.5L1109.2 878.3L1113.2 878.6L1117.2 880.0L1121.2 881.2L1125.2 882.4L1129.2 883.3L1133.2 884.4L1137.2 885.7L1141.2 887.0L1145.2 888.5L1149.2 888.9L1153.2 889.9L1157.2 891.1L1161.2 893.0L1165.2 894.7L1169.2 895.9L1173.2 896.9L1177.2 897.2L1181.2 898.1L1185.2 899.6L1189.2 901.1L1193.2 902.7L1197.2 903.4L1201.2 905.0L1205.2 906.3L1209.2 908.4L1213.2 910.0L1217.2 912.0L1221.2 913.2L1225.2 914.9L1229.2 916.8L1233.2 918.2L1237.2 919.9L1241.2 921.5L1245.2 924.4L1249.2 926.6L1253.2 928.7L1257.2 930.6L1261.2 932.7L1265.2 934.6L1269.2 936.6L1273.2 938.2L1277.2 940.3L1281.2 942.4L1285.2 945.2L1289.2 947.2L1293.2 949.6L1297.2 951.4L1301.2 953.8L1305.2 956.2L1309.2 958.4L1313.2 960.2L1317.2 961.9L1321.2 964.2L1325.2 966.4L1329.2 968.4L1333.2 969.8L1337.2 971.8L1341.2 973.3L1345.2 975.2L1349.2 976.9L1353.2 978.4L1357.2 980.6L1361.2 982.7L1365.2 984.7L1369.2 986.1L1373.2 987.7L1377.2 989.7L1381.2 991.8L1385.2 992.7L1389.2 993.9L1393.2 995.8L1397.2 997.6L1401.2 999.2L1405.2 1000.2L1409.2 1001.9L1413.2 1003.4L1417.2 1004.1L1421.2 1005.6L1425.2 1006.7L1429.2 1009.0L1433.2 1010.5L1437.2 1011.9L1441.2 1013.0L1445.2 1014.4L1449.2 1016.4L1453.2 1017.9L1457.2 1018.6L1461.2 1019.4L1465.2 1020.1L1469.2 1021.7L1473.2 1022.8L1477.2 1024.4L1481.2 1024.4L1485.2 1025.2L1489.2 1025.7L1493.2 1027.2L1497.2 1027.9L1501.2 1029.1L1505.2 1029.8L1509.2 1031.5L1513.2 1032.1L1517.2 1033.1L1521.2 1033.2L1525.2 1034.2L1529.2 1035.2L1533.2 1035.8L1537.2 1035.5L1541.2 1035.9L1545.2 1036.5L1549.2 1037.8L1553.2 1038.1L1557.2 1038.9L1561.2 1039.1L1565.2 1039.8L1569.2 1040.1L1573.2 1041.1L1577.2 1041.3L1581.2 1042.0L1585.2 1042.0L1589.2 1042.3L1593.2 1042.3L1597.2 1042.4L1601.2 1042.8L1605.2 1043.3L1609.2 1044.3L1613.2 1044.6L1617.2 1045.4L1621.2 1045.7L1625.2 1045.8L1629.2 1045.3L1633.2 1044.9L1637.2 1045.2L1641.2 1045.6L1645.2 1046.2L1649.2 1046.0L1653.2 1046.2L1657.2 1046.4L1661.2 1046.9L1665.2 1047.2L1669.2 1047.2L1673.2 1047.4L1677.2 1047.5L1681.2 1047.8L1685.2 1047.6L1689.2 1048.4L1693.2 1048.2L1697.2 1048.1L1701.2 1046.8L1705.2 1046.4L1709.2 1046.7L1713.2 1046.9L1717.2 1047.4L1721.2 1047.2L1725.2 1047.0L1729.2 1046.6L1733.2 1046.6L1737.2 1046.9L1741.2 1046.7L1745.2 1046.8L1749.2 1046.4L1753.2 1046.8L1757.2 1046.9L1761.2 1047.4L1765.2 1047.1L1769.2 1047.2L1773.2 1047.3L1777.2 1047.1L1781.2 1047.4L1785.2 1047.3L1789.2 1048.0L1793.2 1048.1L1797.2 1047.9L1801.2 1047.5L1805.2 1046.9L1809.2 1047.2L1811.0 1047.5"/>
<path d="M393.7 2.6L395.7 18.9L397.7 35.3L399.7 51.8L401.7 68.4L403.7 84.5L405.7 100.7L407.7 117.5L409.7 135.3L411.7 154.7L413.7 175.5L415.7 197.0L417.7 218.4L419.7 239.0L421.7 259.4L423.7 278.8L425.7 296.9L427.7 314.5L429.7 331.5L431.7 348.2L433.7 364.5L435.7 380.5L437.7 396.2L439.7 412.0L441.7 428.0L443.7 443.8L445.7 459.1L447.7 473.6L449.7 487.0L451.7 498.7L453.7 508.1L455.7 516.4L457.7 526.3L459.7 539.7L461.7 555.8L463.7 572.3L465.7 588.3L467.7 604.8L469.7 620.5L471.7 634.6L473.7 647.8L475.7 660.6L477.7 673.5L479.7 687.0L481.7 700.7L483.7 713.9L485.7 725.9L487.7 736.8L489.7 747.1L491.7 756.4L493.7 764.9L495.7 772.9L497.7 780.5L499.7 786.9L501.7 792.4L503.7 797.3L505.7 801.7L507.7 805.4L509.7 808.6L511.7 810.8L513.7 812.6L515.7 814.0L517.7 815.1L519.7 816.2L521.7 817.0L524.2 818.6L526.7 819.4L529.2 820.4L531.7 819.9L534.2 820.5L536.7 821.2L539.2 822.3L541.7 822.4L544.2 821.9L546.7 821.6L549.2 821.1L551.7 821.1L554.2 820.7L556.7 820.5L559.2 818.9L561.7 817.6L564.2 816.5L566.7 816.3L569.2 817.0L571.7 817.3L574.2 817.8L576.7 817.5L579.2 817.8L581.7 817.9L584.2 818.0L586.7 817.7L589.2 817.9L591.7 818.1L594.2 818.8L596.7 819.2L599.2 819.5L601.7 819.1L604.2 818.3L606.7 818.1L609.2 817.9L611.7 818.1L614.2 817.7L616.7 817.2L619.2 817.0L621.7 816.3L624.2 816.0L626.7 815.2L629.2 814.6L631.7 814.0L634.2 812.9L636.7 812.2L639.2 811.3L641.7 810.8L644.2 809.7L646.7 809.0L649.2 808.8L651.7 808.2L654.2 807.4L656.7 806.2L659.2 805.4L661.7 804.3L664.2 803.0L666.7 801.8L669.2 800.6L671.7 799.7L674.2 799.1L676.7 798.3L679.2 797.5L681.7 796.3L684.2 795.3L686.7 794.3L689.2 793.2L691.7 792.0L694.2 791.0L696.7 790.3L699.2 789.3L701.7 788.2L704.2 787.6L706.7 786.6L709.2 786.2L711.7 784.9L714.2 784.6L716.7 783.7L719.2 782.6L721.7 781.6L724.2 780.2L726.7 778.9L729.2 777.8L731.7 777.6L734.2 777.1L736.7 776.5L739.2 775.8L741.7 776.4L744.2 776.5L746.7 775.5L749.2 774.5L751.7 774.0L754.2 773.6L756.7 773.0L759.2 772.2L761.7 772.2L764.2 771.7L766.7 771.4L769.2 770.0L771.7 769.5L774.2 769.1L776.7 769.5L779.2 769.9L781.7 769.7L784.2 769.4L786.7 769.2L789.2 769.7L791.7 769.9L794.2 770.3L796.7 770.7L799.2 771.7L801.7 772.8L804.2 774.3L806.7 775.5L809.2 776.5L811.7 777.9L814.2 779.6L816.7 781.4L819.2 782.9L821.7 784.8L824.2 786.4L826.7 788.1L829.2 789.1L831.7 790.5L834.2 791.9L836.7 794.0L839.2 795.4L841.7 796.8L844.2 798.2L846.7 800.0L849.2 801.6L851.7 803.1L854.2 804.5L856.7 805.8L859.2 807.3L861.7 808.8L864.2 810.4L866.7 811.9L869.2 813.2L871.7 814.4L874.2 815.6L876.7 816.9L879.2 818.1L881.7 819.1L884.2 820.5L886.7 821.8L889.2 823.2L891.7 824.3L894.2 825.5L896.7 826.9L899.2 828.1L901.7 829.2L905.7 830.9L909.7 832.3L913.7 834.2L917.7 836.0L921.7 837.6L925.7 839.2L929.7 840.9L933.7 842.9L937.7 844.6L941.7 846.0L945.7 847.4L949.7 848.8L953.7 850.1L957.7 852.3L961.7 853.8L965.7 855.3L969.7 856.0L973.7 857.0L977.7 857.2L981.7 857.6L985.7 858.9L989.7 860.2L993.7 860.9L997.7 861.3L1001.7 862.0L1005.7 863.0L1009.7 863.7L1013.7 864.3L1017.7 864.9L1021.7 865.8L1025.7 866.4L1029.7 866.9L1033.7 867.4L1037.7 867.8L1041.7 867.9L1045.7 867.0L1049.7 867.3L1053.7 867.4L1057.7 868.6L1061.7 868.6L1065.7 869.5L1069.7 869.9L1073.7 870.5L1077.7 871.0L1081.7 871.8L1085.7 872.5L1089.7 873.4L1093.7 874.1L1097.7 875.0L1101.7 875.1L1105.7 875.8L1109.7 875.9L1113.7 876.6L1117.7 877.4L1121.7 879.3L1125.7 880.9L1129.7 882.3L1133.7 882.9L1137.7 884.3L1141.7 885.1L1145.7 886.6L1149.7 887.1L1153.7 888.7L1157.7 889.9L1161.7 891.3L1165.7 892.5L1169.7 894.0L1173.7 895.6L1177.7 897.1L1181.7 898.3L1185.7 899.6L1189.7 900.4L1193.7 901.7L1197.7 902.9L1201.7 904.8L1205.7 905.8L1209.7 907.6L1213.7 909.3L1217.7 911.4L1221.7 912.5L1225.7 913.6L1229.7 915.1L1233.7 917.2L1237.7 919.4L1241.7 921.5L1245.7 923.5L1249.7 926.0L1253.7 928.4L1257.7 930.3L1261.7 932.1L1265.7 933.9L1269.7 936.3L1273.7 938.3L1277.7 940.4L1281.7 942.3L1285.7 944.3L1289.7 946.1L1293.7 948.4L1297.7 950.5L1301.7 953.2L1305.7 955.2L1309.7 957.4L1313.7 959.4L1317.7 961.5L1321.7 963.0L1325.7 964.9L1329.7 966.9L1333.7 969.5L1337.7 971.2L1341.7 973.0L1345.7 974.6L1349.7 976.7L1353.7 978.5L1357.7 980.6L1361.7 982.1L1365.7 983.8L1369.7 985.1L1373.7 987.1L1377.7 988.6L1381.7 990.7L1385.7 992.8L1389.7 995.1L1393.7 997.0L1397.7 998.1L1401.7 998.9L1405.7 1000.3L1409.7 1002.3L1413.7 1003.7L1417.7 1004.6L1421.7 1005.8L1425.7 1007.0L1429.7 1008.3L1433.7 1009.4L1437.7 1010.9L1441.7 1012.1L1445.7 1013.5L1449.7 1015.0L1453.7 1016.3L1457.7 1017.4L1461.7 1018.0L1465.7 1019.6L1469.7 1020.5L1473.7 1022.0L1477.7 1022.6L1481.7 1023.9L1485.7 1024.9L1489.7 1025.8L1493.7 1026.6L1497.7 1027.8L1501.7 1028.8L1505.7 1030.0L1509.7 1030.2L1513.7 1031.4L1517.7 1032.0L1521.7 1033.1L1525.7 1033.1L1529.7 1033.7L1533.7 1034.5L1537.7 1035.2L1541.7 1036.0L1545.7 1036.4L1549.7 1037.1L1553.7 1037.6L1557.7 1037.5L1561.7 1037.8L1565.7 1037.7L1569.7 1038.8L1573.7 1038.9L1577.7 1039.7L1581.7 1039.9L1585.7 1040.3L1589.7 1040.8L1593.7 1040.9L1597.7 1041.3L1601.7 1040.7L1605.7 1040.8L1609.7 1040.5L1613.7 1041.3L1617.7 1041.8L1621.7 1042.4L1625.7 1042.2L1629.7 1042.2L1633.7 1042.5L1637.7 1042.8L1641.7 1043.3L1645.7 1043.5L1649.7 1043.5L1653.7 1043.7L1657.7 1043.9L1661.7 1044.1L1665.7 1043.9L1669.7 1044.3L1673.7 1044.9L1677.7 1045.4L1681.7 1045.0L1685.7 1045.4L1689.7 1045.6L1693.7 1045.6L1697.7 1045.4L1701.7 1044.5L1705.7 1044.9L1709.7 1044.8L1713.7 1045.4L1717.7 1044.8L1721.7 1044.3L1725.7 1044.2L1729.7 1044.5L1733.7 1044.3L1737.7 1044.3L1741.7 1044.4L1745.7 1044.8L1749.7 1044.8L1753.7 1045.3L1757.7 1045.6L1761.7 1045.5L1765.7 1045.0L1769.7 1044.7L1773.7 1044.6L1777.7 1044.2L1781.7 1044.1L1785.7 1044.8L1789.7 1045.5L1793.7 1046.3L1797.7 1046.3L1801.7 1046.5L1805.7 1045.5L1809.7 1045.3L1811.5 1045.0"/>
<path d="M393.1 2.7L395.1 19.0L397.1 35.3L399.1 51.8L401.1 68.3L403.1 84.5L405.1 100.9L407.1 117.6L409.1 135.4L411.1 154.8L413.1 175.7L415.1 197.2L417.1 218.6L419.1 239.2L421.1 259.6L423.1 278.9L425.1 297.0L427.1 314.6L429.1 331.8L431.1 348.6L433.1 365.0L435.1 380.9L437.1 396.7L439.1 412.5L441.1 428.5L443.1 444.3L445.1 459.7L447.1 474.2L449.1 487.5L451.1 499.1L453.1 508.4L455.1 517.0L457.1 527.0L459.1 540.6L461.1 556.7L463.1 573.2L465.1 589.2L467.1 605.6L469.1 621.4L471.1 635.8L473.1 649.1L475.1 661.9L477.1 674.8L479.1 688.2L481.1 702.0L483.1 715.2L485.1 727.2L487.1 738.1L489.1 748.4L491.1 757.9L493.1 766.5L495.1 774.6L497.1 781.9L499.1 788.3L501.1 793.8L503.1 798.8L505.1 803.4L507.1 807.0L509.1 810.0L511.1 811.7L513.1 813.2L515.1 814.6L517.1 815.6L519.1 817.2L521.1 817.9L523.6 819.1L526.1 819.2L528.6 820.0L531.1 820.8L533.6 821.8L536.1 822.3L538.6 822.9L541.1 822.7L543.6 822.8L546.1 822.5L548.6 822.2L551.1 821.8L553.6 820.7L556.1 820.4L558.6 819.8L561.1 819.5L563.6 818.5L566.1 818.1L568.6 817.6L571.1 817.8L573.6 817.9L576.1 819.0L578.6 818.9L581.1 819.1L583.6 818.8L586.1 818.6L588.6 818.0L591.1 817.9L593.6 818.7L596.1 819.6L598.6 819.7L601.1 819.5L603.6 819.0L606.1 818.2L608.6 818.1L611.1 818.0L613.6 817.7L616.1 816.7L618.6 815.9L621.1 815.9L623.6 815.9L626.1 815.7L628.6 815.0L631.1 814.4L633.6 813.4L636.1 812.9L638.6 812.1L641.1 811.7L643.6 810.9L646.1 810.5L648.6 809.6L651.1 808.9L653.6 807.8L656.1 806.7L658.6 806.0L661.1 804.3L663.6 803.1L666.1 802.0L668.6 801.5L671.1 800.8L673.6 799.8L676.1 799.0L678.6 798.3L681.1 797.3L683.6 796.4L686.1 795.2L688.6 794.0L691.1 792.5L693.6 791.4L696.1 790.9L698.6 790.1L701.1 788.6L703.6 787.6L706.1 787.2L708.6 786.7L711.1 785.7L713.6 785.0L716.1 783.9L718.6 782.5L721.1 781.0L723.6 780.6L726.1 779.6L728.6 778.8L731.1 778.1L733.6 777.9L736.1 777.7L738.6 776.5L741.1 775.9L743.6 775.0L746.1 775.0L748.6 774.5L751.1 774.4L753.6 773.6L756.1 773.0L758.6 772.4L761.1 771.8L763.6 771.3L766.1 770.3L768.6 769.4L771.1 768.3L773.6 768.2L776.1 768.5L778.6 769.1L781.1 768.7L783.6 768.8L786.1 768.9L788.6 769.6L791.1 769.6L793.6 769.9L796.1 770.6L798.6 771.3L801.1 772.6L803.6 773.7L806.1 774.8L808.6 775.9L811.1 776.9L813.6 778.6L816.1 779.4L818.6 780.9L821.1 782.2L823.6 783.5L826.1 785.3L828.6 786.6L831.1 788.2L833.6 789.7L836.1 791.4L838.6 793.1L841.1 794.4L843.6 796.1L846.1 797.5L848.6 799.1L851.1 800.4L853.6 801.9L856.1 803.4L858.6 804.8L861.1 806.3L863.6 807.7L866.1 809.3L868.6 810.5L871.1 811.7L873.6 812.4L876.1 813.2L878.6 814.7L881.1 816.4L883.6 818.5L886.1 819.2L888.6 820.1L891.1 820.8L893.6 822.8L896.1 824.3L898.6 825.5L901.1 826.1L905.1 827.7L909.1 829.1L913.1 830.8L917.1 832.1L921.1 834.0L925.1 835.7L929.1 837.7L933.1 839.1L937.1 840.5L941.1 842.2L945.1 843.9L949.1 845.1L953.1 846.4L957.1 847.9L961.1 849.7L965.1 851.1L969.1 852.4L973.1 853.5L977.1 854.7L981.1 855.8L985.1 857.0L989.1 857.5L993.1 858.0L997.1 858.5L1001.1 858.8L1005.1 859.4L1009.1 860.2L1013.1 861.1L1017.1 861.8L1021.1 861.8L1025.1 862.4L1029.1 862.5L1033.1 863.4L1037.1 863.6L1041.1 863.7L1045.1 863.5L1049.1 863.5L1053.1 864.5L1057.1 865.3L1061.1 865.9L1065.1 866.1L1069.1 866.7L1073.1 867.2L1077.1 868.2L1081.1 868.5L1085.1 869.3L1089.1 869.0L1093.1 869.8L1097.1 870.3L1101.1 871.6L1105.1 872.6L1109.1 873.6L1113.1 873.9L1117.1 874.1L1121.1 875.2L1125.1 876.6L1129.1 877.9L1133.1 879.3L1137.1 880.6L1141.1 882.2L1145.1 883.4L1149.1 884.6L1153.1 885.6L1157.1 886.4L1161.1 887.9L1165.1 889.1L1169.1 891.1L1173.1 892.6L1177.1 893.8L1181.1 894.6L1185.1 895.6L1189.1 896.9L1193.1 898.6L1197.1 900.3L1201.1 901.5L1205.1 902.6L1209.1 904.0L1213.1 905.7L1217.1 907.6L1221.1 908.8L1225.1 910.8L1229.1 912.5L1233.1 914.7L1237.1 916.5L1241.1 918.6L1245.1 920.9L1249.1 923.2L1253.1 925.0L1257.1 926.8L1261.1 928.6L1265.1 930.6L1269.1 932.8L1273.1 935.0L1277.1 937.3L1281.1 939.6L1285.1 942.1L1289.1 944.2L1293.1 946.4L1297.1 948.6L1301.1 951.1L1305.1 953.2L1309.1 955.0L1313.1 957.2L1317.1 959.2L1321.1 961.6L1325.1 963.2L1329.1 965.8L1333.1 967.4L1337.1 970.0L1341.1 971.6L1345.1 974.1L1349.1 975.8L1353.1 977.6L1357.1 979.0L1361.1 981.2L1365.1 982.8L1369.1 984.7L1373.1 985.6L1377.1 987.4L1381.1 989.2L1385.1 991.0L1389.1 992.7L1393.1 994.1L1397.1 995.7L1401.1 997.4L1405.1 999.2L1409.1 1000.5L1413.1 1001.4L1417.1 1002.8L1421.1 1004.1L1425.1 1005.8L1429.1 1006.9L1433.1 1008.8L1437.1 1010.8L1441.1 1012.2L1445.1 1013.9L1449.1 1014.7L1453.1 1016.0L1457.1 1017.0L1461.1 1018.6L1465.1 1019.8L1469.1 1020.6L1473.1 1021.7L1477.1 1023.0L1481.1 1023.5L1485.1 1024.0L1489.1 1024.6L1493.1 1026.1L1497.1 1027.1L1501.1 1028.1L1505.1 1029.0L1509.1 1030.4L1513.1 1031.0L1517.1 1031.9L1521.1 1032.4L1525.1 1033.2L1529.1 1033.6L1533.1 1033.8L1537.1 1035.1L1541.1 1035.7L1545.1 1036.7L1549.1 1036.7L1553.1 1037.1L1557.1 1037.6L1561.1 1038.6L1565.1 1039.0L1569.1 1039.0L1573.1 1039.3L1577.1 1039.8L1581.1 1040.1L1585.1 1040.1L1589.1 1040.8L1593.1 1040.8L1597.1 1041.9L1601.1 1042.5L1605.1 1043.8L1609.1 1043.6L1613.1 1043.2L1617.1 1043.3L1621.1 1043.2L1625.1 1044.2L1629.1 1044.1L1633.1 1044.8L1637.1 1044.7L1641.1 1044.9L1645.1 1044.7L1649.1 1044.4L1653.1 1044.8L1657.1 1045.2L1661.1 1045.7L1665.1 1045.8L1669.1 1045.9L1673.1 1046.4L1677.1 1046.9L1681.1 1047.2L1685.1 1046.8L1689.1 1046.4L1693.1 1046.4L1697.1 1046.4L1701.1 1046.3L1705.1 1046.5L1709.1 1046.5L1713.1 1046.7L1717.1 1046.1L1721.1 1046.2L1725.1 1046.3L1729.1 1046.5L1733.1 1046.1L1737.1 1045.8L1741.1 1045.9L1745.1 1046.4L1749.1 1046.8L1753.1 1046.7L1757.1 1046.6L1761.1 1046.6L1765.1 1046.7L1769.1 1047.0L1773.1 1046.3L1777.1 1046.1L1781.1 1046.2L1785.1 1046.9L1789.1 1047.4L1793.1 1047.4L1797.1 1047.5L1801.1 1047.0L1805.1 1047.2L1809.1 1047.2L1810.9 1047.5"/>
<path d="M393.7 2.7L395.7 19.0L397.7 35.4L399.7 51.9L401.7 68.5L403.7 84.7L405.7 101.0L407.7 117.8L409.7 135.6L411.7 155.0L413.7 176.0L415.7 197.5L417.7 218.9L419.7 239.5L421.7 259.9L423.7 279.3L425.7 297.5L427.7 315.1L429.7 332.2L431.7 348.9L433.7 365.2L435.7 381.3L437.7 397.1L439.7 413.0L441.7 429.0L443.7 444.9L445.7 460.3L447.7 474.8L449.7 488.0L451.7 499.7L453.7 509.0L455.7 517.6L457.7 527.6L459.7 541.1L461.7 557.1L463.7 573.8L465.7 589.9L467.7 606.4L469.7 622.3L471.7 636.6L473.7 650.0L475.7 662.8L477.7 675.8L479.7 689.2L481.7 703.0L483.7 716.2L485.7 728.3L487.7 739.1L489.7 749.4L491.7 758.7L493.7 767.3L495.7 775.5L497.7 783.2L499.7 789.9L501.7 795.2L503.7 800.3L505.7 804.6L507.7 808.2L509.7 810.7L511.7 812.7L513.7 814.4L515.7 816.5L517.7 817.7L519.7 818.7L521.7 819.3L524.2 820.5L526.7 821.5L529.2 821.9L531.7 822.4L534.2 823.1L536.7 823.8L539.2 823.6L541.7 823.1L544.2 823.3L546.7 823.6L549.2 823.8L551.7 822.8L554.2 822.5L556.7 822.0L559.2 821.8L561.7 820.8L564.2 819.7L566.7 819.0L569.2 818.7L571.7 818.9L574.2 818.8L576.7 818.8L579.2 819.0L581.7 819.4L584.2 819.4L586.7 819.8L589.2 819.6L591.7 819.7L594.2 819.6L596.7 820.2L599.2 820.7L601.7 820.6L604.2 820.0L606.7 819.9L609.2 819.6L611.7 819.8L614.2 819.3L616.7 819.1L619.2 818.1L621.7 817.2L624.2 816.6L626.7 816.5L629.2 817.3L631.7 816.4L634.2 815.6L636.7 814.8L639.2 814.5L641.7 813.5L644.2 812.0L646.7 810.9L649.2 810.3L651.7 809.4L654.2 808.9L656.7 808.4L659.2 807.6L661.7 807.0L664.2 806.3L666.7 804.8L669.2 803.6L671.7 801.8L674.2 801.1L676.7 799.8L679.2 798.8L681.7 798.1L684.2 797.6L686.7 796.6L689.2 795.5L691.7 794.8L694.2 793.9L696.7 793.1L699.2 791.3L701.7 790.2L704.2 788.7L706.7 788.1L709.2 787.3L711.7 787.0L714.2 785.6L716.7 784.9L719.2 783.6L721.7 782.6L724.2 781.9L726.7 781.1L729.2 780.7L731.7 779.4L734.2 778.5L736.7 777.7L739.2 777.0L741.7 776.7L744.2 776.2L746.7 776.2L749.2 775.9L751.7 775.9L754.2 775.2L756.7 774.8L759.2 774.2L761.7 773.7L764.2 772.2L766.7 771.5L769.2 770.8L771.7 770.9L774.2 770.0L776.7 769.9L779.2 769.8L781.7 770.2L784.2 770.5L786.7 769.8L789.2 769.7L791.7 769.7L794.2 770.3L796.7 770.8L799.2 770.8L801.7 771.9L804.2 772.7L806.7 774.2L809.2 775.2L811.7 776.9L814.2 778.3L816.7 779.9L819.2 781.1L821.7 781.8L824.2 782.8L826.7 783.6L829.2 785.3L831.7 786.8L834.2 788.9L836.7 790.5L839.2 792.3L841.7 794.0L844.2 795.8L846.7 797.0L849.2 798.4L851.7 799.6L854.2 801.0L856.7 802.2L859.2 803.6L861.7 804.9L864.2 805.9L866.7 807.1L869.2 808.3L871.7 809.6L874.2 810.8L876.7 812.6L879.2 814.3L881.7 815.7L884.2 816.8L886.7 817.9L889.2 818.8L891.7 820.1L894.2 821.0L896.7 822.7L899.2 824.0L901.7 824.9L905.7 826.6L909.7 828.0L913.7 830.3L917.7 832.3L921.7 834.2L925.7 835.4L929.7 836.4L933.7 837.6L937.7 839.2L941.7 841.0L945.7 842.9L949.7 844.6L953.7 846.4L957.7 846.8L961.7 848.2L965.7 849.5L969.7 851.8L973.7 852.8L977.7 853.5L981.7 854.0L985.7 854.9L989.7 856.2L993.7 856.8L997.7 857.5L1001.7 858.1L1005.7 858.7L1009.7 859.4L1013.7 859.7L1017.7 860.2L1021.7 860.4L1025.7 860.9L1029.7 861.3L1033.7 861.6L1037.7 862.2L1041.7 862.6L1045.7 863.0L1049.7 863.6L1053.7 863.2L1057.7 863.5L1061.7 863.8L1065.7 865.1L1069.7 866.0L1073.7 866.0L1077.7 866.6L1081.7 866.8L1085.7 867.8L1089.7 868.5L1093.7 869.0L1097.7 870.1L1101.7 870.4L1105.7 871.5L1109.7 871.5L1113.7 872.2L1117.7 873.4L1121.7 874.7L1125.7 876.1L1129.7 877.5L1133.7 878.2L1137.7 879.5L1141.7 880.4L1145.7 882.0L1149.7 883.4L1153.7 884.7L1157.7 885.9L1161.7 887.0L1165.7 888.2L1169.7 889.5L1173.7 891.0L1177.7 892.4L1181.7 894.2L1185.7 895.3L1189.7 896.7L1193.7 897.8L1197.7 899.2L1201.7 900.7L1205.7 901.7L1209.7 903.2L1213.7 904.7L1217.7 906.8L1221.7 908.5L1225.7 910.2L1229.7 912.6L1233.7 914.8L1237.7 916.5L1241.7 918.0L1245.7 919.7L1249.7 921.7L1253.7 923.7L1257.7 926.1L1261.7 928.5L1265.7 930.9L1269.7 932.8L1273.7 934.4L1277.7 936.1L1281.7 938.9L1285.7 941.5L1289.7 944.0L1293.7 945.8L1297.7 948.4L1301.7 950.5L1305.7 952.6L1309.7 954.7L1313.7 956.8L1317.7 959.2L1321.7 961.2L1325.7 963.8L1329.7 965.2L1333.7 967.3L1337.7 968.7L1341.7 971.3L1345.7 973.0L1349.7 975.1L1353.7 976.8L1357.7 978.5L1361.7 979.7L1365.7 981.6L1369.7 983.8L1373.7 985.7L1377.7 987.4L1381.7 989.2L1385.7 991.4L1389.7 993.0L1393.7 994.4L1397.7 995.4L1401.7 996.9L1405.7 998.7L1409.7 1000.4L1413.7 1001.5L1417.7 1002.5L1421.7 1003.7L1425.7 1005.2L1429.7 1006.9L1433.7 1008.2L1437.7 1010.2L1441.7 1011.5L1445.7 1012.8L1449.7 1013.6L1453.7 1014.9L1457.7 1016.3L1461.7 1018.1L1465.7 1019.3L1469.7 1020.5L1473.7 1021.6L1477.7 1022.8L1481.7 1024.3L1485.7 1025.0L1489.7 1026.3L1493.7 1026.7L1497.7 1027.7L1501.7 1028.3L1505.7 1029.1L1509.7 1030.5L1513.7 1031.5L1517.7 1032.8L1521.7 1033.3L1525.7 1034.4L1529.7 1034.2L1533.7 1034.8L1537.7 1035.9L1541.7 1037.3L1545.7 1037.9L1549.7 1037.2L1553.7 1037.3L1557.7 1037.6L1561.7 1038.5L1565.7 1038.9L1569.7 1039.2L1573.7 1040.0L1577.7 1040.9L1581.7 1041.0L1585.7 1040.6L1589.7 1040.7L1593.7 1041.1L1597.7 1041.9L1601.7 1042.1L1605.7 1042.9L1609.7 1042.9L1613.7 1043.3L1617.7 1043.3L1621.7 1043.7L1625.7 1043.6L1629.7 1043.3L1633.7 1043.0L1637.7 1043.1L1641.7 1044.1L1645.7 1045.1L1649.7 1046.1L1653.7 1046.5L1657.7 1046.2L1661.7 1046.5L1665.7 1046.2L1669.7 1046.6L1673.7 1046.8L1677.7 1047.0L1681.7 1047.1L1685.7 1046.6L1689.7 1046.3L1693.7 1046.3L1697.7 1046.2L1701.7 1046.7L1705.7 1046.8L1709.7 1046.7L1713.7 1046.4L1717.7 1046.1L1721.7 1046.3L1725.7 1045.9L1729.7 1046.1L1733.7 1046.1L1737.7 1046.2L1741.7 1046.4L1745.7 1046.4L1749.7 1046.3L1753.7 1046.2L1757.7 1046.8L1761.7 1047.1L1765.7 1046.5L1769.7 1046.0L1773.7 1045.8L1777.7 1046.9L1781.7 1047.1L1785.7 1047.6L1789.7 1047.2L1793.7 1047.6L1797.7 1046.9L1801.7 1046.8L1805.7 1045.9L1809.7 1046.3L1811.5 1046.4"/>
<path d="M393.8 2.8L395.8 19.1L397.8 35.5L399.8 52.0L401.8 68.5L403.8 84.7L405.8 101.0L407.8 117.9L409.8 135.7L411.8 155.2L413.8 176.1L415.8 197.7L417.8 219.1L419.8 239.7L421.8 260.1L423.8 279.4L425.8 297.7L427.8 315.3L429.8 332.4L431.8 349.1L433.8 365.5L435.8 381.5L437.8 397.4L439.8 413.3L441.8 429.4L443.8 445.3L445.8 460.7L447.8 475.2L449.8 488.4L451.8 500.2L453.8 509.6L455.8 518.1L457.8 528.0L459.8 541.5L461.8 557.7L463.8 574.4L465.8 590.4L467.8 606.9L469.8 622.8L471.8 637.1L473.8 650.5L475.8 663.3L477.8 676.4L479.8 689.8L481.8 703.7L483.8 717.0L485.8 729.0L487.8 739.9L489.8 750.2L491.8 759.7L493.8 768.3L495.8 776.4L497.8 783.9L499.8 790.5L501.8 796.0L503.8 801.1L505.8 805.5L507.8 808.9L509.8 811.5L511.8 813.6L513.8 815.5L515.8 817.0L517.8 818.1L519.8 819.3L521.8 820.1L524.3 820.7L526.8 821.9L529.3 822.7L531.8 823.5L534.3 823.8L536.8 824.2L539.3 824.2L541.8 823.8L544.3 823.3L546.8 823.0L549.3 823.2L551.8 823.4L554.3 823.5L556.8 822.3L559.3 821.4L561.8 820.7L564.3 820.9L566.8 820.5L569.3 819.8L571.8 819.2L574.3 819.5L576.8 819.9L579.3 820.4L581.8 820.3L584.3 820.6L586.8 820.3L589.3 820.7L591.8 820.8L594.3 821.5L596.8 821.6L599.3 821.1L601.8 820.8L604.3 820.3L606.8 820.1L609.3 819.5L611.8 819.7L614.3 819.2L616.8 818.8L619.3 818.4L621.8 818.3L624.3 818.5L626.8 818.0L629.3 817.5L631.8 816.8L634.3 815.6L636.8 814.9L639.3 814.5L641.8 814.2L644.3 813.4L646.8 812.9L649.3 812.2L651.8 810.9L654.3 809.6L656.8 807.9L659.3 807.6L661.8 806.5L664.3 806.1L666.8 804.8L669.3 803.6L671.8 803.4L674.3 802.3L676.8 801.2L679.3 799.4L681.8 798.6L684.3 798.2L686.8 797.3L689.3 796.4L691.8 795.1L694.3 794.1L696.8 793.1L699.3 791.9L701.8 790.8L704.3 789.8L706.8 788.8L709.3 787.9L711.8 787.2L714.3 786.0L716.8 785.1L719.3 784.0L721.8 783.3L724.3 782.2L726.8 781.4L729.3 780.4L731.8 779.8L734.3 778.9L736.8 778.4L739.3 777.7L741.8 777.2L744.3 777.0L746.8 776.1L749.3 775.7L751.8 774.6L754.3 774.1L756.8 773.4L759.3 773.1L761.8 772.3L764.3 772.0L766.8 771.2L769.3 771.2L771.8 770.3L774.3 770.2L776.8 769.8L779.3 769.8L781.8 769.7L784.3 769.7L786.8 770.0L789.3 770.2L791.8 770.4L794.3 770.0L796.8 770.0L799.3 770.3L801.8 770.9L804.3 772.5L806.8 773.6L809.3 775.0L811.8 775.7L814.3 777.0L816.8 778.4L819.3 779.8L821.8 780.8L824.3 781.5L826.8 782.5L829.3 784.0L831.8 785.5L834.3 787.4L836.8 788.7L839.3 790.3L841.8 791.8L844.3 793.5L846.8 795.1L849.3 796.1L851.8 797.3L854.3 798.6L856.8 799.8L859.3 801.6L861.8 803.2L864.3 805.4L866.8 806.6L869.3 807.7L871.8 808.8L874.3 810.0L876.8 811.6L879.3 812.5L881.8 813.4L884.3 814.3L886.8 815.5L889.3 817.3L891.8 818.4L894.3 819.7L896.8 820.7L899.3 821.7L901.8 822.5L905.8 823.9L909.8 825.3L913.8 827.2L917.8 829.2L921.8 831.1L925.8 832.5L929.8 833.7L933.8 835.6L937.8 837.6L941.8 839.0L945.8 840.9L949.8 842.5L953.8 844.5L957.8 845.5L961.8 846.7L965.8 848.3L969.8 849.5L973.8 850.6L977.8 851.7L981.8 853.3L985.8 854.0L989.8 854.4L993.8 854.7L997.8 855.5L1001.8 856.4L1005.8 856.8L1009.8 857.4L1013.8 857.9L1017.8 858.3L1021.8 858.7L1025.8 859.1L1029.8 860.0L1033.8 860.5L1037.8 860.6L1041.8 860.1L1045.8 860.7L1049.8 861.1L1053.8 861.8L1057.8 861.5L1061.8 861.7L1065.8 862.2L1069.8 862.8L1073.8 864.0L1077.8 864.6L1081.8 865.4L1085.8 865.7L1089.8 866.0L1093.8 866.6L1097.8 867.3L1101.8 868.1L1105.8 869.0L1109.8 870.1L1113.8 871.3L1117.8 872.5L1121.8 873.6L1125.8 874.3L1129.8 875.4L1133.8 876.7L1137.8 878.1L1141.8 879.0L1145.8 880.6L1149.8 881.2L1153.8 882.7L1157.8 883.5L1161.8 885.8L1165.8 887.4L1169.8 888.9L1173.8 889.7L1177.8 890.7L1181.8 891.6L1185.8 893.1L1189.8 894.1L1193.8 895.8L1197.8 896.8L1201.8 898.4L1205.8 899.9L1209.8 901.9L1213.8 903.6L1217.8 905.1L1221.8 906.9L1225.8 909.1L1229.8 911.0L1233.8 912.6L1237.8 913.9L1241.8 915.9L1245.8 918.3L1249.8 920.5L1253.8 922.9L1257.8 925.1L1261.8 927.1L1265.8 929.1L1269.8 930.9L1273.8 933.5L1277.8 935.8L1281.8 938.2L1285.8 940.0L1289.8 942.1L1293.8 944.3L1297.8 946.9L1301.8 949.1L1305.8 951.5L1309.8 953.8L1313.8 956.1L1317.8 958.0L1321.8 959.9L1325.8 961.6L1329.8 963.6L1333.8 965.8L1337.8 967.9L1341.8 970.0L1345.8 972.0L1349.8 973.8L1353.8 975.7L1357.8 977.0L1361.8 979.2L1365.8 981.1L1369.8 983.4L1373.8 985.2L1377.8 987.0L1381.8 988.6L1385.8 989.8L1389.8 991.3L1393.8 992.3L1397.8 994.4L1401.8 996.2L1405.8 998.5L1409.8 1000.1L1413.8 1001.7L1417.8 1002.8L1421.8 1003.5L1425.8 1004.4L1429.8 1006.4L1433.8 1008.2L1437.8 1010.0L1441.8 1011.0L1445.8 1012.3L1449.8 1013.3L1453.8 1014.1L1457.8 1015.4L1461.8 1016.4L1465.8 1018.2L1469.8 1019.3L1473.8 1020.8L1477.8 1021.4L1481.8 1021.9L1485.8 1022.5L1489.8 1023.7L1493.8 1024.8L1497.8 1025.6L1501.8 1026.6L1505.8 1027.3L1509.8 1028.4L1513.8 1029.0L1517.8 1030.8L1521.8 1031.9L1525.8 1032.7L1529.8 1032.5L1533.8 1032.8L1537.8 1032.8L1541.8 1033.9L1545.8 1034.2L1549.8 1035.4L1553.8 1035.9L1557.8 1036.6L1561.8 1036.9L1565.8 1037.2L1569.8 1037.8L1573.8 1038.0L1577.8 1038.5L1581.8 1038.9L1585.8 1039.1L1589.8 1039.4L1593.8 1039.5L1597.8 1040.2L1601.8 1040.6L1605.8 1040.5L1609.8 1040.3L1613.8 1040.3L1617.8 1041.0L1621.8 1041.4L1625.8 1041.9L1629.8 1042.5L1633.8 1042.0L1637.8 1042.1L1641.8 1041.4L1645.8 1042.4L1649.8 1042.4L1653.8 1042.9L1657.8 1042.7L1661.8 1042.7L1665.8 1043.5L1669.8 1043.7L1673.8 1044.0L1677.8 1043.9L1681.8 1044.7L1685.8 1044.7L1689.8 1044.7L1693.8 1044.0L1697.8 1044.4L1701.8 1044.0L1705.8 1044.2L1709.8 1044.0L1713.8 1044.1L1717.8 1044.3L1721.8 1044.6L1725.8 1044.7L1729.8 1044.5L1733.8 1044.1L1737.8 1044.4L1741.8 1044.6L1745.8 1044.6L1749.8 1044.3L1753.8 1044.0L1757.8 1043.9L1761.8 1044.0L1765.8 1044.7L1769.8 1045.0L1773.8 1044.5L1777.8 1043.9L1781.8 1044.1L1785.8 1044.9L1789.8 1044.7L1793.8 1044.3L1797.8 1044.5L1801.8 1044.8L1805.8 1044.7L1809.8 1044.4L1811.6 1044.6"/>
<path d="M393.8 2.8L395.8 19.1L397.8 35.5L399.8 52.0L401.8 68.5L403.8 84.8L405.8 101.1L407.8 117.9L409.8 135.7L411.8 155.2L413.8 176.2L415.8 197.8L417.8 219.2L419.8 239.8L421.8 260.1L423.8 279.5L425.8 297.6L427.8 315.3L429.8 332.5L431.8 349.3L433.8 365.6L435.8 381.7L437.8 397.5L439.8 413.4L441.8 429.5L443.8 445.5L445.8 460.9L447.8 475.4L449.8 488.6L451.8 500.3L453.8 509.6L455.8 518.0L457.8 528.1L459.8 541.6L461.8 557.8L463.8 574.5L465.8 590.8L467.8 607.3L469.8 623.3L471.8 637.7L473.8 651.0L475.8 663.8L477.8 676.8L479.8 690.2L481.8 704.1L483.8 717.4L485.8 729.6L487.8 740.5L489.8 750.7L491.8 760.1L493.8 768.8L495.8 777.2L497.8 784.7L499.8 791.2L501.8 796.3L503.8 801.0L505.8 805.3L507.8 808.9L509.8 811.7L511.8 813.6L513.8 815.8L515.8 817.7L517.8 819.0L519.8 819.8L521.8 820.7L524.3 821.8L526.8 822.5L529.3 822.7L531.8 823.6L534.3 823.8L536.8 824.5L539.3 824.6L541.8 825.1L544.3 825.3L546.8 824.8L549.3 824.0L551.8 823.0L554.3 822.5L556.8 822.7L559.3 821.8L561.8 821.2L564.3 820.5L566.8 820.6L569.3 820.2L571.8 820.0L574.3 819.5L576.8 820.0L579.3 820.0L581.8 820.2L584.3 820.1L586.8 820.5L589.3 820.7L591.8 820.9L594.3 820.8L596.8 820.9L599.3 820.5L601.8 820.5L604.3 820.8L606.8 821.0L609.3 820.9L611.8 820.5L614.3 820.5L616.8 819.7L619.3 819.0L621.8 817.9L624.3 817.2L626.8 816.7L629.3 816.7L631.8 816.3L634.3 815.6L636.8 814.7L639.3 814.0L641.8 813.4L644.3 812.4L646.8 811.4L649.3 810.8L651.8 810.2L654.3 809.7L656.8 808.8L659.3 808.2L661.8 807.2L664.3 806.5L666.8 805.2L669.3 804.4L671.8 803.4L674.3 802.4L676.8 800.7L679.3 799.3L681.8 797.8L684.3 796.8L686.8 796.2L689.3 795.7L691.8 795.9L694.3 794.4L696.8 793.4L699.3 792.0L701.8 791.4L704.3 790.6L706.8 789.5L709.3 788.3L711.8 787.3L714.3 786.5L716.8 786.1L719.3 784.8L721.8 783.0L724.3 781.8L726.8 780.8L729.3 780.7L731.8 780.3L734.3 779.2L736.8 777.8L739.3 776.7L741.8 776.4L744.3 776.1L746.8 775.5L749.3 774.7L751.8 774.1L754.3 773.5L756.8 773.3L759.3 773.0L761.8 772.2L764.3 771.7L766.8 771.3L769.3 770.7L771.8 769.6L774.3 768.8L776.8 768.7L779.3 768.8L781.8 768.9L784.3 769.3L786.8 769.9L789.3 770.5L791.8 769.9L794.3 769.5L796.8 769.2L799.3 770.1L801.8 770.5L804.3 771.5L806.8 772.3L809.3 773.8L811.8 775.1L814.3 776.3L816.8 777.7L819.3 779.2L821.8 780.2L824.3 780.4L826.8 781.2L829.3 782.3L831.8 784.0L834.3 785.2L836.8 786.3L839.3 787.9L841.8 789.3L844.3 791.3L846.8 792.7L849.3 794.4L851.8 795.8L854.3 797.4L856.8 798.9L859.3 800.1L861.8 801.4L864.3 803.0L866.8 804.5L869.3 805.9L871.8 806.6L874.3 807.8L876.8 808.8L879.3 810.0L881.8 811.1L884.3 812.8L886.8 814.5L889.3 815.6L891.8 816.3L894.3 817.3L896.8 818.3L899.3 819.5L901.8 820.4L905.8 822.2L909.8 823.7L913.8 825.2L917.8 826.5L921.8 827.9L925.8 829.9L929.8 832.0L933.8 834.3L937.8 835.5L941.8 837.1L945.8 838.2L949.8 839.8L953.8 841.0L957.8 842.7L961.8 844.2L965.8 846.1L969.8 847.1L973.8 848.3L977.8 849.1L981.8 850.2L985.8 851.3L989.8 851.4L993.8 851.9L997.8 852.0L1001.8 853.1L1005.8 854.1L1009.8 855.0L1013.8 855.3L1017.8 855.8L1021.8 856.3L1025.8 857.3L1029.8 857.5L1033.8 858.0L1037.8 858.1L1041.8 858.6L1045.8 858.3L1049.8 858.5L1053.8 858.2L1057.8 858.6L1061.8 859.4L1065.8 860.7L1069.8 861.8L1073.8 862.2L1077.8 862.4L1081.8 862.8L1085.8 863.0L1089.8 863.6L1093.8 864.8L1097.8 865.9L1101.8 866.3L1105.8 866.7L1109.8 867.4L1113.8 868.9L1117.8 869.9L1121.8 871.4L1125.8 872.0L1129.8 873.9L1133.8 874.3L1137.8 876.1L1141.8 876.6L1145.8 877.7L1149.8 878.5L1153.8 880.0L1157.8 882.0L1161.8 882.9L1165.8 884.4L1169.8 885.6L1173.8 887.0L1177.8 888.2L1181.8 890.0L1185.8 891.4L1189.8 892.5L1193.8 893.3L1197.8 895.2L1201.8 896.5L1205.8 898.5L1209.8 900.0L1213.8 901.5L1217.8 903.1L1221.8 905.1L1225.8 907.8L1229.8 909.4L1233.8 911.7L1237.8 913.3L1241.8 915.4L1245.8 916.5L1249.8 918.8L1253.8 920.6L1257.8 923.0L1261.8 925.1L1265.8 927.5L1269.8 929.9L1273.8 932.4L1277.8 934.5L1281.8 936.9L1285.8 938.9L1289.8 941.4L1293.8 943.8L1297.8 946.2L1301.8 948.8L1305.8 950.9L1309.8 952.7L1313.8 954.5L1317.8 956.7L1321.8 959.5L1325.8 961.3L1329.8 963.1L1333.8 964.5L1337.8 966.4L1341.8 968.6L1345.8 970.6L1349.8 972.5L1353.8 974.0L1357.8 976.0L1361.8 978.1L1365.8 980.4L1369.8 982.1L1373.8 983.4L1377.8 985.0L1381.8 987.0L1385.8 989.0L1389.8 990.6L1393.8 991.5L1397.8 993.3L1401.8 995.0L1405.8 997.3L1409.8 998.7L1413.8 999.8L1417.8 1001.1L1421.8 1003.1L1425.8 1005.1L1429.8 1006.4L1433.8 1007.2L1437.8 1008.4L1441.8 1010.1L1445.8 1011.3L1449.8 1012.6L1453.8 1013.9L1457.8 1015.7L1461.8 1017.1L1465.8 1018.0L1469.8 1019.0L1473.8 1019.5L1477.8 1020.5L1481.8 1021.5L1485.8 1023.0L1489.8 1024.3L1493.8 1024.9L1497.8 1025.8L1501.8 1026.5L1505.8 1027.7L1509.8 1028.1L1513.8 1028.9L1517.8 1030.2L1521.8 1031.4L1525.8 1032.1L1529.8 1032.7L1533.8 1033.5L1537.8 1034.6L1541.8 1034.9L1545.8 1035.9L1549.8 1036.4L1553.8 1037.0L1557.8 1036.9L1561.8 1037.0L1565.8 1037.5L1569.8 1038.1L1573.8 1038.7L1577.8 1038.8L1581.8 1038.9L1585.8 1039.4L1589.8 1040.2L1593.8 1040.6L1597.8 1040.9L1601.8 1040.8L1605.8 1040.9L1609.8 1040.8L1613.8 1041.2L1617.8 1041.5L1621.8 1041.2L1625.8 1042.1L1629.8 1042.5L1633.8 1044.0L1637.8 1043.2L1641.8 1043.1L1645.8 1043.1L1649.8 1043.5L1653.8 1043.9L1657.8 1043.8L1661.8 1044.6L1665.8 1044.1L1669.8 1044.4L1673.8 1044.3L1677.8 1045.4L1681.8 1045.5L1685.8 1045.7L1689.8 1045.4L1693.8 1045.4L1697.8 1045.2L1701.8 1045.7L1705.8 1045.5L1709.8 1045.4L1713.8 1045.1L1717.8 1044.9L1721.8 1044.7L1725.8 1044.8L1729.8 1045.0L1733.8 1045.1L1737.8 1044.6L1741.8 1044.8L1745.8 1045.6L1749.8 1046.3L1753.8 1046.3L1757.8 1046.1L1761.8 1045.7L1765.8 1045.8L1769.8 1045.5L1773.8 1044.8L1777.8 1044.7L1781.8 1044.7L1785.8 1045.2L1789.8 1045.4L1793.8 1045.3L1797.8 1045.2L1801.8 1045.2L1805.8 1045.6L1809.8 1046.5L1811.6 1046.6"/>
<path d="M393.2 2.9L395.2 19.2L397.2 35.7L399.2 52.2L401.2 68.7L403.2 84.9L405.2 101.2L407.2 118.1L409.2 135.9L411.2 155.4L413.2 176.3L415.2 197.9L417.2 219.3L419.2 239.9L421.2 260.3L423.2 279.6L425.2 297.8L427.2 315.5L429.2 332.8L431.2 349.6L433.2 365.9L435.2 381.9L437.2 397.7L439.2 413.7L441.2 429.8L443.2 445.8L445.2 461.2L447.2 475.8L449.2 489.2L451.2 501.0L453.2 510.2L455.2 518.7L457.2 528.6L459.2 542.1L461.2 558.3L463.2 575.0L465.2 591.2L467.2 607.8L469.2 623.7L471.2 638.0L473.2 651.5L475.2 664.5L477.2 677.5L479.2 690.9L481.2 704.7L483.2 718.1L485.2 730.2L487.2 741.2L489.2 751.4L491.2 760.9L493.2 769.5L495.2 778.1L497.2 785.7L499.2 792.3L501.2 797.5L503.2 802.4L505.2 806.8L507.2 810.4L509.2 813.3L511.2 815.3L513.2 817.2L515.2 818.1L517.2 819.4L519.2 820.3L521.2 822.2L523.7 823.0L526.2 823.8L528.7 824.3L531.2 824.6L533.7 825.0L536.2 825.2L538.7 825.8L541.2 826.2L543.7 826.0L546.2 825.6L548.7 824.7L551.2 824.9L553.7 824.2L556.2 823.8L558.7 822.6L561.2 821.9L563.7 821.5L566.2 821.1L568.7 821.4L571.2 821.0L573.7 821.2L576.2 821.6L578.7 822.2L581.2 822.3L583.7 822.1L586.2 821.7L588.7 822.0L591.2 822.0L593.7 822.6L596.2 822.7L598.7 822.8L601.2 822.5L603.7 822.1L606.2 821.4L608.7 821.4L611.2 820.8L613.7 820.6L616.2 819.8L618.7 819.9L621.2 820.1L623.7 819.6L626.2 819.4L628.7 818.6L631.2 817.9L633.7 817.1L636.2 816.2L638.7 815.6L641.2 814.8L643.7 814.0L646.2 813.4L648.7 812.6L651.2 812.1L653.7 811.3L656.2 810.6L658.7 809.5L661.2 808.1L663.7 806.8L666.2 805.4L668.7 804.9L671.2 804.6L673.7 803.8L676.2 802.4L678.7 800.8L681.2 799.9L683.7 798.9L686.2 797.9L688.7 797.0L691.2 796.6L693.7 795.9L696.2 794.7L698.7 793.3L701.2 792.5L703.7 790.8L706.2 789.9L708.7 788.8L711.2 788.5L713.7 787.3L716.2 786.3L718.7 785.2L721.2 784.4L723.7 783.2L726.2 782.4L728.7 781.6L731.2 780.7L733.7 780.1L736.2 779.3L738.7 779.0L741.2 778.5L743.7 777.9L746.2 777.0L748.7 776.3L751.2 776.0L753.7 775.6L756.2 774.8L758.7 773.9L761.2 773.3L763.7 772.5L766.2 772.1L768.7 771.9L771.2 771.2L773.7 770.5L776.2 769.9L778.7 770.4L781.2 770.8L783.7 771.1L786.2 771.3L788.7 771.3L791.2 771.4L793.7 771.3L796.2 771.5L798.7 771.4L801.2 771.3L803.7 771.9L806.2 773.0L808.7 774.4L811.2 775.0L813.7 775.3L816.2 775.9L818.7 777.1L821.2 778.1L823.7 778.9L826.2 779.4L828.7 780.3L831.2 781.9L833.7 783.3L836.2 785.5L838.7 786.6L841.2 787.7L843.7 788.6L846.2 789.8L848.7 791.4L851.2 792.9L853.7 794.3L856.2 796.2L858.7 797.0L861.2 798.2L863.7 799.2L866.2 801.2L868.7 802.7L871.2 803.9L873.7 805.1L876.2 806.3L878.7 807.4L881.2 808.5L883.7 809.4L886.2 810.6L888.7 811.5L891.2 813.0L893.7 814.1L896.2 815.7L898.7 816.8L901.2 818.0L905.2 819.2L909.2 820.8L913.2 821.8L917.2 823.7L921.2 825.4L925.2 827.6L929.2 829.2L933.2 830.2L937.2 831.7L941.2 832.9L945.2 835.0L949.2 836.7L953.2 838.9L957.2 840.0L961.2 841.1L965.2 842.3L969.2 843.6L973.2 844.8L977.2 845.8L981.2 846.9L985.2 847.7L989.2 848.6L993.2 849.3L997.2 849.7L1001.2 850.1L1005.2 850.8L1009.2 851.7L1013.2 852.6L1017.2 853.3L1021.2 854.1L1025.2 854.5L1029.2 854.6L1033.2 854.7L1037.2 854.7L1041.2 854.9L1045.2 855.6L1049.2 855.7L1053.2 855.9L1057.2 856.1L1061.2 856.8L1065.2 857.4L1069.2 858.0L1073.2 858.8L1077.2 859.5L1081.2 859.6L1085.2 860.1L1089.2 861.1L1093.2 862.3L1097.2 862.7L1101.2 863.5L1105.2 864.6L1109.2 865.8L1113.2 866.7L1117.2 867.7L1121.2 868.7L1125.2 869.6L1129.2 870.5L1133.2 871.8L1137.2 873.0L1141.2 874.3L1145.2 875.2L1149.2 876.4L1153.2 877.2L1157.2 878.8L1161.2 880.3L1165.2 881.8L1169.2 883.1L1173.2 884.2L1177.2 885.9L1181.2 887.6L1185.2 889.2L1189.2 890.3L1193.2 891.1L1197.2 892.6L1201.2 894.2L1205.2 896.1L1209.2 897.3L1213.2 899.4L1217.2 901.0L1221.2 903.3L1225.2 905.1L1229.2 907.3L1233.2 908.8L1237.2 910.1L1241.2 912.0L1245.2 914.4L1249.2 916.6L1253.2 918.7L1257.2 921.0L1261.2 923.4L1265.2 925.3L1269.2 927.5L1273.2 929.6L1277.2 932.1L1281.2 934.7L1285.2 936.7L1289.2 938.9L1293.2 940.9L1297.2 943.7L1301.2 946.1L1305.2 948.6L1309.2 951.1L1313.2 953.5L1317.2 956.0L1321.2 957.8L1325.2 959.5L1329.2 961.3L1333.2 963.4L1337.2 965.6L1341.2 967.6L1345.2 969.8L1349.2 972.0L1353.2 973.8L1357.2 975.1L1361.2 977.1L1365.2 979.4L1369.2 981.3L1373.2 983.0L1377.2 984.7L1381.2 987.0L1385.2 989.0L1389.2 991.3L1393.2 992.5L1397.2 993.6L1401.2 994.6L1405.2 996.6L1409.2 998.3L1413.2 999.6L1417.2 1000.9L1421.2 1002.7L1425.2 1004.8L1429.2 1006.1L1433.2 1008.2L1437.2 1009.5L1441.2 1011.3L1445.2 1011.7L1449.2 1013.0L1453.2 1014.6L1457.2 1016.2L1461.2 1017.8L1465.2 1018.7L1469.2 1020.3L1473.2 1021.1L1477.2 1022.3L1481.2 1022.7L1485.2 1023.6L1489.2 1024.3L1493.2 1025.8L1497.2 1026.7L1501.2 1027.5L1505.2 1028.5L1509.2 1029.6L1513.2 1030.8L1517.2 1031.9L1521.2 1032.5L1525.2 1033.6L1529.2 1034.3L1533.2 1034.9L1537.2 1035.6L1541.2 1036.0L1545.2 1036.9L1549.2 1037.1L1553.2 1038.1L1557.2 1038.6L1561.2 1038.5L1565.2 1038.4L1569.2 1038.4L1573.2 1039.5L1577.2 1040.3L1581.2 1041.1L1585.2 1041.1L1589.2 1040.7L1593.2 1041.1L1597.2 1041.8L1601.2 1042.9L1605.2 1043.4L1609.2 1043.8L1613.2 1044.2L1617.2 1044.4L1621.2 1044.8L1625.2 1044.5L1629.2 1044.7L1633.2 1045.2L1637.2 1045.2L1641.2 1044.9L1645.2 1044.5L1649.2 1045.3L1653.2 1045.9L1657.2 1046.0L1661.2 1046.1L1665.2 1046.4L1669.2 1046.8L1673.2 1046.5L1677.2 1046.3L1681.2 1046.5L1685.2 1046.8L1689.2 1047.5L1693.2 1047.9L1697.2 1048.2L1701.2 1047.7L1705.2 1047.2L1709.2 1046.7L1713.2 1047.1L1717.2 1047.2L1721.2 1047.2L1725.2 1047.3L1729.2 1047.1L1733.2 1047.3L1737.2 1047.4L1741.2 1047.4L1745.2 1047.6L1749.2 1047.8L1753.2 1047.6L1757.2 1047.4L1761.2 1047.1L1765.2 1046.8L1769.2 1046.6L1773.2 1047.0L1777.2 1047.7L1781.2 1048.0L1785.2 1047.8L1789.2 1047.9L1793.2 1047.6L1797.2 1048.0L1801.2 1047.6L1805.2 1047.8L1809.2 1047.2L1811.0 1047.4"/>
<path d="M393.4 3.0L395.4 19.3L397.4 35.7L399.4 52.3L401.4 68.8L403.4 85.1L405.4 101.4L407.4 118.2L409.4 136.1L411.4 155.5L413.4 176.4L415.4 198.1L417.4 219.5L419.4 240.1L421.4 260.4L423.4 279.8L425.4 298.1L427.4 315.7L429.4 332.9L431.4 349.7L433.4 366.2L435.4 382.3L437.4 398.2L439.4 414.1L441.4 430.1L443.4 446.1L445.4 461.5L447.4 476.1L449.4 489.5L451.4 501.4L453.4 510.8L455.4 519.3L457.4 529.1L459.4 542.5L461.4 558.7L463.4 575.4L465.4 591.5L467.4 608.1L469.4 624.1L471.4 638.6L473.4 652.0L475.4 664.9L477.4 677.9L479.4 691.5L481.4 705.4L483.4 718.7L485.4 730.9L487.4 741.9L489.4 752.2L491.4 761.8L493.4 770.5L495.4 778.7L497.4 786.2L499.4 792.9L501.4 798.4L503.4 803.5L505.4 807.6L507.4 811.2L509.4 814.1L511.4 816.3L513.4 818.2L515.4 819.7L517.4 821.1L519.4 822.5L521.4 823.4L523.9 824.2L526.4 824.2L528.9 825.3L531.4 826.2L533.9 827.2L536.4 827.0L538.9 827.0L541.4 826.0L543.9 825.8L546.4 825.4L548.9 826.1L551.4 825.4L553.9 825.5L556.4 824.1L558.9 823.5L561.4 822.2L563.9 822.1L566.4 821.8L568.9 822.0L571.4 822.2L573.9 822.9L576.4 822.8L578.9 822.3L581.4 822.0L583.9 822.2L586.4 822.7L588.9 822.7L591.4 822.9L593.9 823.5L596.4 823.9L598.9 824.1L601.4 823.4L603.9 823.9L606.4 823.1L608.9 822.5L611.4 821.7L613.9 821.4L616.4 820.9L618.9 820.1L621.4 820.2L623.9 820.3L626.4 820.2L628.9 819.8L631.4 819.3L633.9 818.5L636.4 817.5L638.9 816.9L641.4 816.7L643.9 816.2L646.4 814.6L648.9 813.3L651.4 812.2L653.9 812.0L656.4 811.1L658.9 810.5L661.4 809.6L663.9 809.2L666.4 808.6L668.9 807.6L671.4 805.9L673.9 804.6L676.4 803.6L678.9 802.5L681.4 801.0L683.9 800.0L686.4 799.5L688.9 799.0L691.4 798.0L693.9 796.3L696.4 794.7L698.9 793.7L701.4 793.1L703.9 792.7L706.4 791.3L708.9 790.5L711.4 789.5L713.9 789.6L716.4 788.4L718.9 787.1L721.4 784.9L723.9 783.6L726.4 782.7L728.9 782.5L731.4 782.3L733.9 781.4L736.4 780.5L738.9 779.2L741.4 778.4L743.9 777.5L746.4 777.1L748.9 776.7L751.4 776.4L753.9 776.1L756.4 776.1L758.9 776.0L761.4 775.0L763.9 773.6L766.4 772.5L768.9 772.0L771.4 772.0L773.9 771.4L776.4 771.5L778.9 771.1L781.4 771.2L783.9 770.5L786.4 771.0L788.9 771.2L791.4 771.6L793.9 770.6L796.4 770.2L798.9 770.2L801.4 771.3L803.9 771.9L806.4 772.8L808.9 773.4L811.4 774.6L813.9 775.6L816.4 777.0L818.9 777.7L821.4 778.1L823.9 778.5L826.4 779.5L828.9 780.7L831.4 782.4L833.9 783.7L836.4 785.5L838.9 786.2L841.4 787.5L843.9 788.5L846.4 790.4L848.9 791.8L851.4 793.3L853.9 794.4L856.4 795.8L858.9 797.5L861.4 798.9L863.9 800.7L866.4 802.1L868.9 803.3L871.4 804.5L873.9 805.8L876.4 807.9L878.9 808.8L881.4 809.6L883.9 809.9L886.4 810.8L888.9 812.0L891.4 813.3L893.9 814.4L896.4 815.5L898.9 816.4L901.4 817.2L905.4 819.1L909.4 820.6L913.4 822.5L917.4 823.8L921.4 826.1L925.4 827.4L929.4 828.8L933.4 829.5L937.4 831.4L941.4 833.5L945.4 835.9L949.4 837.6L953.4 838.6L957.4 839.8L961.4 841.0L965.4 842.6L969.4 844.3L973.4 845.9L977.4 846.8L981.4 847.8L985.4 848.1L989.4 849.0L993.4 848.9L997.4 849.9L1001.4 850.4L1005.4 851.7L1009.4 851.8L1013.4 852.4L1017.4 852.8L1021.4 854.1L1025.4 854.7L1029.4 854.8L1033.4 854.6L1037.4 854.4L1041.4 854.8L1045.4 854.9L1049.4 855.6L1053.4 856.4L1057.4 857.6L1061.4 858.0L1065.4 858.4L1069.4 858.3L1073.4 859.0L1077.4 859.5L1081.4 860.5L1085.4 861.4L1089.4 861.6L1093.4 862.0L1097.4 862.2L1101.4 862.7L1105.4 863.6L1109.4 864.8L1113.4 866.2L1117.4 867.5L1121.4 868.5L1125.4 869.6L1129.4 870.6L1133.4 872.1L1137.4 873.3L1141.4 874.4L1145.4 875.7L1149.4 877.3L1153.4 878.7L1157.4 879.5L1161.4 880.3L1165.4 881.2L1169.4 883.0L1173.4 884.5L1177.4 886.2L1181.4 887.8L1185.4 889.2L1189.4 890.3L1193.4 891.3L1197.4 892.5L1201.4 894.2L1205.4 896.0L1209.4 897.9L1213.4 899.6L1217.4 901.9L1221.4 903.6L1225.4 905.2L1229.4 906.7L1233.4 908.6L1237.4 910.4L1241.4 912.3L1245.4 914.0L1249.4 916.9L1253.4 919.3L1257.4 922.0L1261.4 923.9L1265.4 925.6L1269.4 927.7L1273.4 930.1L1277.4 932.2L1281.4 934.5L1285.4 936.6L1289.4 939.2L1293.4 941.4L1297.4 944.0L1301.4 946.7L1305.4 949.2L1309.4 951.5L1313.4 953.4L1317.4 955.9L1321.4 958.3L1325.4 960.4L1329.4 962.2L1333.4 963.6L1337.4 965.6L1341.4 967.4L1345.4 969.5L1349.4 972.1L1353.4 974.5L1357.4 976.6L1361.4 978.0L1365.4 980.0L1369.4 981.7L1373.4 983.5L1377.4 985.0L1381.4 987.3L1385.4 989.1L1389.4 991.1L1393.4 992.9L1397.4 994.7L1401.4 996.1L1405.4 996.9L1409.4 998.4L1413.4 999.7L1417.4 1001.8L1421.4 1003.1L1425.4 1004.7L1429.4 1006.2L1433.4 1008.1L1437.4 1009.6L1441.4 1010.7L1445.4 1011.8L1449.4 1013.1L1453.4 1015.4L1457.4 1016.6L1461.4 1017.9L1465.4 1018.4L1469.4 1020.0L1473.4 1021.0L1477.4 1022.0L1481.4 1022.9L1485.4 1024.2L1489.4 1025.8L1493.4 1027.1L1497.4 1028.1L1501.4 1028.5L1505.4 1029.7L1509.4 1030.2L1513.4 1030.8L1517.4 1031.4L1521.4 1032.6L1525.4 1034.2L1529.4 1034.7L1533.4 1034.9L1537.4 1035.2L1541.4 1035.7L1545.4 1036.2L1549.4 1037.4L1553.4 1038.6L1557.4 1039.8L1561.4 1040.0L1565.4 1040.0L1569.4 1040.0L1573.4 1040.5L1577.4 1040.8L1581.4 1041.6L1585.4 1041.7L1589.4 1042.6L1593.4 1042.3L1597.4 1042.4L1601.4 1042.6L1605.4 1043.3L1609.4 1044.5L1613.4 1044.8L1617.4 1045.3L1621.4 1044.9L1625.4 1044.9L1629.4 1044.9L1633.4 1044.9L1637.4 1045.0L1641.4 1045.3L1645.4 1045.6L1649.4 1046.0L1653.4 1046.2L1657.4 1046.7L1661.4 1046.8L1665.4 1047.1L1669.4 1047.3L1673.4 1047.9L1677.4 1047.9L1681.4 1048.1L1685.4 1048.1L1689.4 1048.0L1693.4 1048.3L1697.4 1048.1L1701.4 1047.5L1705.4 1047.4L1709.4 1047.0L1713.4 1047.4L1717.4 1047.0L1721.4 1047.0L1725.4 1047.7L1729.4 1047.9L1733.4 1048.5L1737.4 1048.0L1741.4 1048.1L1745.4 1047.8L1749.4 1047.4L1753.4 1047.9L1757.4 1047.9L1761.4 1048.5L1765.4 1048.8L1769.4 1048.7L1773.4 1048.5L1777.4 1047.7L1781.4 1047.7L1785.4 1047.8L1789.4 1047.9L1793.4 1048.3L1797.4 1048.0L1801.4 1048.4L1805.4 1048.6L1809.4 1048.9L1811.2 1048.7"/>
<path d="M393.4 2.9L395.4 19.2L397.4 35.7L399.4 52.2L401.4 68.8L403.4 85.0L405.4 101.3L407.4 118.2L409.4 136.0L411.4 155.5L413.4 176.5L415.4 198.1L417.4 219.5L419.4 240.0L421.4 260.4L423.4 279.8L425.4 298.1L427.4 315.8L429.4 333.0L431.4 349.8L433.4 366.1L435.4 382.2L437.4 398.1L439.4 414.1L441.4 430.2L443.4 446.1L445.4 461.5L447.4 476.0L449.4 489.4L451.4 501.2L453.4 510.7L455.4 519.2L457.4 529.1L459.4 542.6L461.4 558.8L463.4 575.4L465.4 591.6L467.4 608.2L469.4 624.2L471.4 638.7L473.4 652.1L475.4 665.0L477.4 678.0L479.4 691.6L481.4 705.5L483.4 718.8L485.4 730.9L487.4 741.9L489.4 752.2L491.4 761.6L493.4 770.3L495.4 778.5L497.4 786.3L499.4 792.9L501.4 798.2L503.4 803.0L505.4 807.5L507.4 811.1L509.4 813.8L511.4 816.1L513.4 818.4L515.4 819.9L517.4 820.7L519.4 821.9L521.4 822.9L523.9 823.9L526.4 824.3L528.9 824.7L531.4 825.1L533.9 825.2L536.4 825.7L538.9 826.1L541.4 826.4L543.9 826.5L546.4 826.3L548.9 826.1L551.4 825.3L553.9 824.4L556.4 823.8L558.9 823.3L561.4 823.1L563.9 822.1L566.4 821.7L568.9 821.1L571.4 821.4L573.9 821.1L576.4 821.8L578.9 822.3L581.4 822.7L583.9 822.4L586.4 822.0L588.9 822.1L591.4 822.2L593.9 822.7L596.4 822.5L598.9 822.4L601.4 822.8L603.9 823.3L606.4 823.3L608.9 822.8L611.4 822.9L613.9 822.5L616.4 821.8L618.9 820.2L621.4 819.7L623.9 819.3L626.4 818.7L628.9 818.0L631.4 817.5L633.9 817.4L636.4 816.3L638.9 815.4L641.4 814.5L643.9 814.6L646.4 814.1L648.9 813.3L651.4 812.3L653.9 811.0L656.4 810.3L658.9 809.4L661.4 808.7L663.9 807.7L666.4 806.1L668.9 805.2L671.4 804.6L673.9 804.0L676.4 803.4L678.9 802.1L681.4 801.6L683.9 799.9L686.4 798.8L688.9 796.7L691.4 796.2L693.9 795.5L696.4 795.6L698.9 794.4L701.4 793.2L703.9 790.9L706.4 789.4L708.9 788.5L711.4 788.2L713.9 787.8L716.4 786.5L718.9 785.7L721.4 784.5L723.9 783.4L726.4 782.5L728.9 781.8L731.4 781.4L733.9 780.6L736.4 779.8L738.9 779.0L741.4 778.4L743.9 778.1L746.4 777.3L748.9 776.7L751.4 775.5L753.9 775.3L756.4 774.5L758.9 774.0L761.4 773.4L763.9 772.7L766.4 772.2L768.9 771.0L771.4 770.9L773.9 770.2L776.4 770.3L778.9 770.3L781.4 770.7L783.9 771.1L786.4 771.0L788.9 770.9L791.4 770.5L793.9 770.6L796.4 770.7L798.9 771.2L801.4 771.3L803.9 771.6L806.4 771.8L808.9 772.8L811.4 773.4L813.9 774.4L816.4 774.7L818.9 775.4L821.4 776.0L823.9 776.6L826.4 777.7L828.9 778.9L831.4 780.3L833.9 781.6L836.4 783.0L838.9 784.6L841.4 785.9L843.9 787.3L846.4 788.5L848.9 789.8L851.4 791.0L853.9 792.4L856.4 794.1L858.9 795.5L861.4 796.8L863.9 798.4L866.4 799.9L868.9 800.8L871.4 801.2L873.9 801.8L876.4 803.8L878.9 805.1L881.4 806.5L883.9 807.3L886.4 809.0L888.9 810.0L891.4 811.3L893.9 812.1L896.4 813.6L898.9 814.7L901.4 816.0L905.4 817.2L909.4 818.7L913.4 820.3L917.4 822.4L921.4 824.0L925.4 825.5L929.4 826.4L933.4 828.5L937.4 829.7L941.4 831.6L945.4 832.9L949.4 834.5L953.4 835.7L957.4 837.1L961.4 839.0L965.4 840.3L969.4 841.5L973.4 841.7L977.4 843.0L981.4 843.6L985.4 845.0L989.4 845.8L993.4 846.6L997.4 847.6L1001.4 848.6L1005.4 849.8L1009.4 850.3L1013.4 850.5L1017.4 851.0L1021.4 851.7L1025.4 852.1L1029.4 852.2L1033.4 852.1L1037.4 852.7L1041.4 852.8L1045.4 852.5L1049.4 852.8L1053.4 853.6L1057.4 854.8L1061.4 855.4L1065.4 855.7L1069.4 855.9L1073.4 856.3L1077.4 856.8L1081.4 857.3L1085.4 858.1L1089.4 858.7L1093.4 859.0L1097.4 859.5L1101.4 860.3L1105.4 861.8L1109.4 862.5L1113.4 863.6L1117.4 865.0L1121.4 866.4L1125.4 867.6L1129.4 868.4L1133.4 869.8L1137.4 871.4L1141.4 872.8L1145.4 873.8L1149.4 874.5L1153.4 876.1L1157.4 877.0L1161.4 878.6L1165.4 879.5L1169.4 881.2L1173.4 882.5L1177.4 884.1L1181.4 885.5L1185.4 886.8L1189.4 888.3L1193.4 889.9L1197.4 891.6L1201.4 892.8L1205.4 893.9L1209.4 895.2L1213.4 897.0L1217.4 899.3L1221.4 900.8L1225.4 902.3L1229.4 904.2L1233.4 906.5L1237.4 908.7L1241.4 911.1L1245.4 913.3L1249.4 915.5L1253.4 917.3L1257.4 919.1L1261.4 921.3L1265.4 923.5L1269.4 926.2L1273.4 928.8L1277.4 931.2L1281.4 933.9L1285.4 935.7L1289.4 938.0L1293.4 939.8L1297.4 942.4L1301.4 944.4L1305.4 947.1L1309.4 949.4L1313.4 952.3L1317.4 954.5L1321.4 956.8L1325.4 958.9L1329.4 960.9L1333.4 962.8L1337.4 964.6L1341.4 966.6L1345.4 968.8L1349.4 970.6L1353.4 972.9L1357.4 974.7L1361.4 976.6L1365.4 977.9L1369.4 979.4L1373.4 981.8L1377.4 983.9L1381.4 986.1L1385.4 987.7L1389.4 989.2L1393.4 990.9L1397.4 992.8L1401.4 994.7L1405.4 996.1L1409.4 997.2L1413.4 999.0L1417.4 1001.0L1421.4 1002.9L1425.4 1003.9L1429.4 1004.6L1433.4 1006.1L1437.4 1007.6L1441.4 1009.2L1445.4 1010.4L1449.4 1012.1L1453.4 1013.3L1457.4 1015.2L1461.4 1016.9L1465.4 1018.8L1469.4 1019.4L1473.4 1020.5L1477.4 1021.4L1481.4 1023.1L1485.4 1024.0L1489.4 1025.2L1493.4 1026.2L1497.4 1027.1L1501.4 1027.9L1505.4 1028.6L1509.4 1029.8L1513.4 1030.7L1517.4 1031.7L1521.4 1032.5L1525.4 1033.5L1529.4 1034.3L1533.4 1034.8L1537.4 1034.9L1541.4 1035.3L1545.4 1035.8L1549.4 1037.0L1553.4 1037.9L1557.4 1038.2L1561.4 1038.5L1565.4 1039.0L1569.4 1040.0L1573.4 1040.4L1577.4 1040.5L1581.4 1040.4L1585.4 1041.0L1589.4 1041.7L1593.4 1042.6L1597.4 1043.0L1601.4 1043.5L1605.4 1043.6L1609.4 1044.0L1613.4 1043.7L1617.4 1044.4L1621.4 1044.6L1625.4 1045.4L1629.4 1045.4L1633.4 1045.5L1637.4 1045.2L1641.4 1045.4L1645.4 1045.5L1649.4 1045.7L1653.4 1045.5L1657.4 1045.7L1661.4 1046.0L1665.4 1046.8L1669.4 1047.3L1673.4 1048.0L1677.4 1047.9L1681.4 1048.0L1685.4 1047.7L1689.4 1047.4L1693.4 1047.4L1697.4 1047.5L1701.4 1047.7L1705.4 1047.6L1709.4 1047.6L1713.4 1047.4L1717.4 1047.1L1721.4 1046.7L1725.4 1046.4L1729.4 1046.8L1733.4 1047.4L1737.4 1047.8L1741.4 1048.0L1745.4 1048.2L1749.4 1048.3L1753.4 1048.2L1757.4 1048.0L1761.4 1048.5L1765.4 1048.5L1769.4 1048.2L1773.4 1047.6L1777.4 1047.3L1781.4 1047.5L1785.4 1047.8L1789.4 1048.3L1793.4 1048.2L1797.4 1048.2L1801.4 1047.6L1805.4 1047.8L1809.4 1048.0L1811.2 1048.5"/>
<path d="M393.0 2.9L395.0 19.3L397.0 35.7L399.0 52.2L401.0 68.7L403.0 85.0L405.0 101.2L407.0 118.0L409.0 135.9L411.0 155.4L413.0 176.4L415.0 198.0L417.0 219.4L419.0 240.1L421.0 260.5L423.0 279.8L425.0 298.0L427.0 315.7L429.0 332.9L431.0 349.7L433.0 366.1L435.0 382.2L437.0 398.0L439.0 414.0L441.0 430.1L443.0 446.1L445.0 461.5L447.0 476.1L449.0 489.5L451.0 501.3L453.0 510.6L455.0 519.0L457.0 529.0L459.0 542.5L461.0 558.7L463.0 575.5L465.0 591.8L467.0 608.3L469.0 624.3L471.0 638.7L473.0 652.1L475.0 665.0L477.0 678.0L479.0 691.6L481.0 705.5L483.0 718.9L485.0 731.1L487.0 742.2L489.0 752.7L491.0 762.1L493.0 770.7L495.0 778.9L497.0 786.4L499.0 792.9L501.0 798.2L503.0 803.3L505.0 807.6L507.0 811.2L509.0 814.1L511.0 816.3L513.0 818.2L515.0 819.2L517.0 820.4L519.0 821.5L521.0 822.5L523.5 823.1L526.0 823.5L528.5 824.2L531.0 825.2L533.5 825.4L536.0 825.9L538.5 825.6L541.0 826.2L543.5 825.5L546.0 825.3L548.5 824.4L551.0 824.4L553.5 824.2L556.0 823.9L558.5 823.4L561.0 822.3L563.5 821.8L566.0 821.3L568.5 821.2L571.0 821.6L573.5 821.3L576.0 821.9L578.5 821.3L581.0 821.5L583.5 821.1L586.0 821.4L588.5 821.7L591.0 822.1L593.5 822.3L596.0 822.3L598.5 821.9L601.0 821.9L603.5 821.8L606.0 821.6L608.5 821.1L611.0 821.0L613.5 820.6L616.0 820.5L618.5 820.2L621.0 820.3L623.5 819.7L626.0 818.8L628.5 818.6L631.0 817.8L633.5 817.0L636.0 816.5L638.5 816.4L641.0 816.2L643.5 815.1L646.0 813.8L648.5 813.1L651.0 812.1L653.5 811.4L656.0 810.7L658.5 810.1L661.0 809.2L663.5 807.8L666.0 806.8L668.5 806.0L671.0 805.0L673.5 804.0L676.0 802.4L678.5 801.6L681.0 800.7L683.5 799.5L686.0 798.2L688.5 797.2L691.0 796.8L693.5 795.9L696.0 794.8L698.5 793.0L701.0 791.8L703.5 790.6L706.0 790.5L708.5 789.7L711.0 789.2L713.5 788.1L716.0 787.0L718.5 784.8L721.0 783.6L723.5 782.3L726.0 781.9L728.5 780.8L731.0 780.0L733.5 779.5L736.0 778.3L738.5 777.5L741.0 776.8L743.5 776.7L746.0 776.4L748.5 776.0L751.0 775.6L753.5 774.8L756.0 773.8L758.5 773.6L761.0 773.0L763.5 772.5L766.0 771.6L768.5 771.5L771.0 770.7L773.5 769.4L776.0 769.5L778.5 769.9L781.0 770.5L783.5 769.7L786.0 769.9L788.5 770.0L791.0 770.3L793.5 769.7L796.0 769.8L798.5 769.9L801.0 770.8L803.5 771.0L806.0 771.2L808.5 771.8L811.0 772.5L813.5 773.5L816.0 774.0L818.5 774.7L821.0 775.9L823.5 776.5L826.0 777.7L828.5 778.1L831.0 779.5L833.5 780.2L836.0 781.8L838.5 783.4L841.0 785.4L843.5 787.1L846.0 788.2L848.5 789.6L851.0 790.4L853.5 791.8L856.0 793.1L858.5 795.0L861.0 796.1L863.5 797.4L866.0 798.6L868.5 800.2L871.0 801.7L873.5 802.7L876.0 803.7L878.5 804.4L881.0 805.3L883.5 806.5L886.0 807.9L888.5 809.3L891.0 810.6L893.5 811.3L896.0 812.5L898.5 813.1L901.0 814.8L905.0 815.9L909.0 818.4L913.0 819.8L917.0 821.7L921.0 822.9L925.0 824.1L929.0 825.8L933.0 826.9L937.0 829.0L941.0 831.0L945.0 832.8L949.0 834.0L953.0 835.5L957.0 837.1L961.0 838.3L965.0 839.3L969.0 840.2L973.0 841.4L977.0 842.9L981.0 844.3L985.0 844.9L989.0 845.5L993.0 845.9L997.0 847.3L1001.0 848.4L1005.0 849.1L1009.0 849.8L1013.0 850.2L1017.0 850.8L1021.0 851.1L1025.0 851.4L1029.0 851.8L1033.0 851.5L1037.0 851.5L1041.0 851.8L1045.0 852.7L1049.0 852.7L1053.0 852.8L1057.0 852.7L1061.0 853.3L1065.0 853.8L1069.0 854.6L1073.0 855.9L1077.0 856.5L1081.0 857.0L1085.0 857.3L1089.0 858.0L1093.0 859.0L1097.0 859.7L1101.0 860.9L1105.0 861.6L1109.0 862.4L1113.0 863.0L1117.0 863.4L1121.0 864.3L1125.0 865.6L1129.0 866.6L1133.0 867.8L1137.0 868.4L1141.0 869.8L1145.0 871.3L1149.0 873.4L1153.0 875.3L1157.0 876.5L1161.0 877.1L1165.0 878.2L1169.0 879.8L1173.0 881.6L1177.0 883.2L1181.0 884.6L1185.0 885.8L1189.0 886.8L1193.0 888.1L1197.0 889.8L1201.0 891.8L1205.0 893.4L1209.0 895.1L1213.0 897.0L1217.0 898.8L1221.0 900.5L1225.0 902.1L1229.0 904.3L1233.0 906.3L1237.0 908.2L1241.0 910.0L1245.0 912.1L1249.0 914.5L1253.0 916.2L1257.0 918.3L1261.0 920.3L1265.0 923.1L1269.0 925.5L1273.0 927.3L1277.0 929.3L1281.0 931.8L1285.0 934.6L1289.0 937.6L1293.0 940.2L1297.0 942.4L1301.0 944.5L1305.0 946.8L1309.0 949.3L1313.0 951.5L1317.0 953.4L1321.0 955.6L1325.0 957.9L1329.0 960.5L1333.0 962.6L1337.0 964.6L1341.0 966.9L1345.0 968.7L1349.0 970.1L1353.0 971.2L1357.0 973.3L1361.0 975.5L1365.0 978.0L1369.0 980.0L1373.0 982.0L1377.0 983.7L1381.0 985.3L1385.0 986.7L1389.0 988.5L1393.0 990.3L1397.0 992.2L1401.0 993.4L1405.0 994.8L1409.0 996.1L1413.0 997.5L1417.0 999.1L1421.0 1001.1L1425.0 1002.5L1429.0 1003.9L1433.0 1004.9L1437.0 1006.9L1441.0 1008.5L1445.0 1010.1L1449.0 1011.7L1453.0 1013.2L1457.0 1015.0L1461.0 1016.2L1465.0 1017.1L1469.0 1018.0L1473.0 1019.4L1477.0 1020.6L1481.0 1021.7L1485.0 1022.2L1489.0 1023.6L1493.0 1024.2L1497.0 1025.8L1501.0 1026.3L1505.0 1027.2L1509.0 1027.6L1513.0 1028.5L1517.0 1029.4L1521.0 1030.5L1525.0 1031.4L1529.0 1032.3L1533.0 1033.4L1537.0 1033.7L1541.0 1034.3L1545.0 1033.9L1549.0 1034.3L1553.0 1035.1L1557.0 1036.4L1561.0 1037.5L1565.0 1037.5L1569.0 1037.5L1573.0 1038.0L1577.0 1038.8L1581.0 1039.0L1585.0 1039.3L1589.0 1039.7L1593.0 1040.4L1597.0 1040.7L1601.0 1040.8L1605.0 1041.6L1609.0 1041.8L1613.0 1042.0L1617.0 1041.4L1621.0 1040.9L1625.0 1040.9L1629.0 1041.5L1633.0 1042.3L1637.0 1042.9L1641.0 1042.9L1645.0 1042.9L1649.0 1043.0L1653.0 1042.8L1657.0 1043.2L1661.0 1043.0L1665.0 1043.6L1669.0 1044.1L1673.0 1044.7L1677.0 1044.6L1681.0 1045.4L1685.0 1046.1L1689.0 1046.2L1693.0 1045.9L1697.0 1045.2L1701.0 1045.3L1705.0 1044.5L1709.0 1044.3L1713.0 1044.6L1717.0 1045.1L1721.0 1045.5L1725.0 1045.1L1729.0 1044.9L1733.0 1045.1L1737.0 1045.5L1741.0 1045.9L1745.0 1045.1L1749.0 1044.7L1753.0 1044.1L1757.0 1044.5L1761.0 1044.7L1765.0 1044.9L1769.0 1044.8L1773.0 1044.7L1777.0 1045.2L1781.0 1045.0L1785.0 1045.4L1789.0 1045.0L1793.0 1045.5L1797.0 1045.7L1801.0 1045.7L1805.0 1045.9L1809.0 1045.3L1810.8 1045.4"/>
<path d="M393.8 2.9L395.8 19.3L397.8 35.8L399.8 52.3L401.8 68.8L403.8 85.0L405.8 101.4L407.8 118.3L409.8 136.1L411.8 155.6L413.8 176.5L415.8 198.2L417.8 219.6L419.8 240.2L421.8 260.5L423.8 279.9L425.8 298.2L427.8 315.9L429.8 333.1L431.8 349.8L433.8 366.3L435.8 382.3L437.8 398.3L439.8 414.2L441.8 430.4L443.8 446.4L445.8 461.8L447.8 476.4L449.8 489.8L451.8 501.6L453.8 511.0L455.8 519.4L457.8 529.3L459.8 542.9L461.8 559.1L463.8 575.9L465.8 592.1L467.8 608.7L469.8 624.6L471.8 639.1L473.8 652.5L475.8 665.4L477.8 678.5L479.8 692.1L481.8 706.0L483.8 719.4L485.8 731.4L487.8 742.6L489.8 752.8L491.8 762.4L493.8 771.0L495.8 779.4L497.8 787.0L499.8 793.5L501.8 798.9L503.8 803.9L505.8 808.3L507.8 812.1L509.8 815.1L511.8 817.1L513.8 818.8L515.8 820.0L517.8 821.2L519.8 822.3L521.8 823.7L524.3 824.3L526.8 825.1L529.3 825.1L531.8 825.7L534.3 825.8L536.8 826.6L539.3 826.9L541.8 827.2L544.3 827.3L546.8 827.7L549.3 827.1L551.8 826.6L554.3 825.4L556.8 824.9L559.3 823.8L561.8 823.1L564.3 822.9L566.8 822.7L569.3 822.7L571.8 822.0L574.3 822.2L576.8 822.3L579.3 822.9L581.8 823.2L584.3 823.2L586.8 823.1L589.3 823.1L591.8 823.4L594.3 824.1L596.8 824.0L599.3 823.9L601.8 823.8L604.3 823.8L606.8 824.1L609.3 824.1L611.8 823.8L614.3 823.0L616.8 822.3L619.3 821.7L621.8 820.8L624.3 820.4L626.8 820.3L629.3 819.9L631.8 818.9L634.3 817.8L636.8 817.0L639.3 816.7L641.8 816.4L644.3 816.0L646.8 814.6L649.3 813.5L651.8 812.7L654.3 811.9L656.8 811.2L659.3 810.2L661.8 809.0L664.3 808.1L666.8 807.1L669.3 806.2L671.8 805.0L674.3 803.8L676.8 803.4L679.3 802.4L681.8 801.7L684.3 800.7L686.8 799.4L689.3 798.5L691.8 797.4L694.3 797.0L696.8 795.7L699.3 794.6L701.8 793.9L704.3 792.9L706.8 791.7L709.3 790.4L711.8 789.6L714.3 788.7L716.8 787.9L719.3 786.6L721.8 785.8L724.3 784.1L726.8 782.5L729.3 781.3L731.8 781.0L734.3 780.8L736.8 780.5L739.3 779.6L741.8 779.3L744.3 778.3L746.8 777.4L749.3 777.0L751.8 776.7L754.3 776.8L756.8 776.3L759.3 775.7L761.8 774.9L764.3 774.3L766.8 773.4L769.3 772.3L771.8 771.6L774.3 771.3L776.8 771.1L779.3 770.8L781.8 770.9L784.3 771.0L786.8 771.7L789.3 771.6L791.8 772.1L794.3 771.7L796.8 771.9L799.3 771.7L801.8 771.5L804.3 771.3L806.8 771.4L809.3 772.0L811.8 772.5L814.3 773.5L816.8 774.2L819.3 775.3L821.8 776.0L824.3 777.2L826.8 778.1L829.3 779.3L831.8 780.7L834.3 782.1L836.8 784.0L839.3 784.9L841.8 786.4L844.3 787.5L846.8 788.6L849.3 790.3L851.8 791.9L854.3 793.4L856.8 794.6L859.3 795.6L861.8 796.9L864.3 798.3L866.8 799.3L869.3 800.6L871.8 801.7L874.3 803.1L876.8 804.4L879.3 805.1L881.8 806.3L884.3 807.3L886.8 808.5L889.3 809.5L891.8 810.4L894.3 811.7L896.8 813.1L899.3 814.2L901.8 814.9L905.8 816.5L909.8 818.5L913.8 820.5L917.8 822.0L921.8 823.2L925.8 825.0L929.8 826.3L933.8 828.4L937.8 829.8L941.8 832.2L945.8 833.2L949.8 834.5L953.8 835.6L957.8 837.6L961.8 839.4L965.8 840.9L969.8 842.0L973.8 843.0L977.8 844.2L981.8 845.0L985.8 845.9L989.8 846.2L993.8 846.9L997.8 847.3L1001.8 848.0L1005.8 848.6L1009.8 849.1L1013.8 850.1L1017.8 850.9L1021.8 851.9L1025.8 852.6L1029.8 852.3L1033.8 852.5L1037.8 852.1L1041.8 853.2L1045.8 853.2L1049.8 853.4L1053.8 853.2L1057.8 854.1L1061.8 855.2L1065.8 855.9L1069.8 856.3L1073.8 856.5L1077.8 857.1L1081.8 857.0L1085.8 857.8L1089.8 858.1L1093.8 859.5L1097.8 859.6L1101.8 861.1L1105.8 862.0L1109.8 863.2L1113.8 863.7L1117.8 864.3L1121.8 865.5L1125.8 866.6L1129.8 867.7L1133.8 869.1L1137.8 870.8L1141.8 872.4L1145.8 873.0L1149.8 873.9L1153.8 874.9L1157.8 876.6L1161.8 878.4L1165.8 879.5L1169.8 881.3L1173.8 882.8L1177.8 884.7L1181.8 885.6L1185.8 886.3L1189.8 887.1L1193.8 888.9L1197.8 890.7L1201.8 893.1L1205.8 894.6L1209.8 896.0L1213.8 897.6L1217.8 899.2L1221.8 901.4L1225.8 903.2L1229.8 904.8L1233.8 906.5L1237.8 908.6L1241.8 910.6L1245.8 912.7L1249.8 914.2L1253.8 916.4L1257.8 918.7L1261.8 921.1L1265.8 923.4L1269.8 925.6L1273.8 928.1L1277.8 930.1L1281.8 932.5L1285.8 934.8L1289.8 937.3L1293.8 940.1L1297.8 942.6L1301.8 945.4L1305.8 947.6L1309.8 950.0L1313.8 952.2L1317.8 954.2L1321.8 956.0L1325.8 958.2L1329.8 960.4L1333.8 962.5L1337.8 964.6L1341.8 967.0L1345.8 968.9L1349.8 971.2L1353.8 973.1L1357.8 975.6L1361.8 977.1L1365.8 979.1L1369.8 980.7L1373.8 982.8L1377.8 984.1L1381.8 985.7L1385.8 987.4L1389.8 989.6L1393.8 991.3L1397.8 992.7L1401.8 993.8L1405.8 995.5L1409.8 996.9L1413.8 998.8L1417.8 1000.9L1421.8 1002.6L1425.8 1003.9L1429.8 1005.1L1433.8 1006.2L1437.8 1007.7L1441.8 1008.8L1445.8 1010.4L1449.8 1011.3L1453.8 1012.9L1457.8 1014.1L1461.8 1015.8L1465.8 1016.9L1469.8 1018.5L1473.8 1019.5L1477.8 1020.2L1481.8 1021.2L1485.8 1022.5L1489.8 1023.8L1493.8 1024.8L1497.8 1025.9L1501.8 1026.6L1505.8 1027.0L1509.8 1027.3L1513.8 1028.9L1517.8 1029.5L1521.8 1030.4L1525.8 1030.9L1529.8 1032.4L1533.8 1033.7L1537.8 1034.3L1541.8 1034.8L1545.8 1035.4L1549.8 1035.9L1553.8 1036.2L1557.8 1036.4L1561.8 1036.9L1565.8 1037.6L1569.8 1038.0L1573.8 1038.0L1577.8 1038.3L1581.8 1038.8L1585.8 1039.1L1589.8 1039.2L1593.8 1039.5L1597.8 1040.3L1601.8 1040.7L1605.8 1040.8L1609.8 1040.9L1613.8 1041.1L1617.8 1041.2L1621.8 1040.9L1625.8 1041.2L1629.8 1041.9L1633.8 1042.4L1637.8 1042.4L1641.8 1042.3L1645.8 1042.9L1649.8 1043.8L1653.8 1043.8L1657.8 1044.0L1661.8 1043.4L1665.8 1043.5L1669.8 1043.5L1673.8 1043.9L1677.8 1044.5L1681.8 1044.9L1685.8 1044.8L1689.8 1044.7L1693.8 1044.3L1697.8 1044.3L1701.8 1043.9L1705.8 1044.1L1709.8 1044.3L1713.8 1045.1L1717.8 1044.9L1721.8 1045.0L1725.8 1044.4L1729.8 1044.6L1733.8 1044.3L1737.8 1043.9L1741.8 1044.1L1745.8 1044.2L1749.8 1044.5L1753.8 1044.7L1757.8 1044.6L1761.8 1045.0L1765.8 1044.6L1769.8 1045.2L1773.8 1045.0L1777.8 1045.2L1781.8 1045.2L1785.8 1045.4L1789.8 1045.5L1793.8 1045.7L1797.8 1045.9L1801.8 1046.0L1805.8 1045.5L1809.8 1044.9L1811.6 1044.9"/>
<path d="M393.7 2.9L395.7 19.2L397.7 35.8L399.7 52.4L401.7 69.0L403.7 85.2L405.7 101.4L407.7 118.3L409.7 136.1L411.7 155.5L413.7 176.5L415.7 198.2L417.7 219.6L419.7 240.3L421.7 260.6L423.7 280.1L425.7 298.3L427.7 316.0L429.7 333.2L431.7 350.1L433.7 366.4L435.7 382.6L437.7 398.5L439.7 414.5L441.7 430.6L443.7 446.4L445.7 461.8L447.7 476.3L449.7 489.7L451.7 501.6L453.7 511.0L455.7 519.5L457.7 529.5L459.7 542.9L461.7 559.2L463.7 575.9L465.7 592.2L467.7 608.7L469.7 624.7L471.7 639.2L473.7 652.8L475.7 665.7L477.7 678.7L479.7 692.3L481.7 706.2L483.7 719.6L485.7 731.7L487.7 742.7L489.7 753.0L491.7 762.5L493.7 771.3L495.7 779.7L497.7 787.3L499.7 794.0L501.7 799.3L503.7 804.0L505.7 808.4L507.7 812.0L509.7 815.2L511.7 816.8L513.7 818.6L515.7 820.0L517.7 821.3L519.7 822.6L521.7 823.4L524.2 824.2L526.7 825.1L529.2 825.5L531.7 826.5L534.2 826.7L536.7 826.6L539.2 826.5L541.7 826.5L544.2 826.7L546.7 826.5L549.2 825.9L551.7 826.1L554.2 826.0L556.7 825.5L559.2 824.3L561.7 824.1L564.2 823.5L566.7 823.2L569.2 822.3L571.7 822.3L574.2 822.6L576.7 822.8L579.2 823.3L581.7 823.8L584.2 823.8L586.7 823.5L589.2 822.9L591.7 823.2L594.2 823.5L596.7 824.1L599.2 823.5L601.7 823.4L604.2 823.1L606.7 823.6L609.2 823.7L611.7 823.0L614.2 822.9L616.7 822.5L619.2 822.0L621.7 821.3L624.2 820.5L626.7 820.5L629.2 819.3L631.7 818.9L634.2 818.4L636.7 818.1L639.2 816.8L641.7 815.7L644.2 815.3L646.7 815.0L649.2 814.5L651.7 813.4L654.2 812.5L656.7 811.1L659.2 810.4L661.7 809.9L664.2 809.6L666.7 808.5L669.2 807.0L671.7 805.5L674.2 805.2L676.7 804.3L679.2 803.3L681.7 801.6L684.2 800.9L686.7 799.8L689.2 799.0L691.7 797.9L694.2 796.6L696.7 795.4L699.2 794.0L701.7 792.5L704.2 791.7L706.7 791.5L709.2 791.0L711.7 790.3L714.2 788.6L716.7 787.5L719.2 785.6L721.7 784.8L724.2 783.8L726.7 783.0L729.2 782.3L731.7 781.4L734.2 780.9L736.7 780.3L739.2 780.0L741.7 779.6L744.2 778.6L746.7 777.8L749.2 776.8L751.7 776.4L754.2 776.0L756.7 775.8L759.2 774.8L761.7 774.0L764.2 772.9L766.7 772.4L769.2 772.6L771.7 771.8L774.2 771.2L776.7 770.1L779.2 770.6L781.7 770.6L784.2 770.9L786.7 770.9L789.2 770.8L791.7 770.5L794.2 770.4L796.7 771.0L799.2 771.7L801.7 772.2L804.2 772.1L806.7 772.3L809.2 772.1L811.7 773.1L814.2 773.9L816.7 774.7L819.2 775.4L821.7 776.0L824.2 776.7L826.7 777.2L829.2 778.6L831.7 779.8L834.2 781.2L836.7 782.2L839.2 784.0L841.7 785.7L844.2 787.3L846.7 788.7L849.2 789.7L851.7 791.1L854.2 792.5L856.7 793.7L859.2 795.0L861.7 796.3L864.2 797.8L866.7 799.1L869.2 800.2L871.7 801.5L874.2 802.7L876.7 804.0L879.2 804.9L881.7 805.8L884.2 806.6L886.7 807.9L889.2 809.0L891.7 809.8L894.2 810.9L896.7 812.2L899.2 813.8L901.7 815.0L905.7 816.3L909.7 817.8L913.7 819.4L917.7 820.8L921.7 822.4L925.7 823.7L929.7 825.4L933.7 827.1L937.7 829.0L941.7 830.8L945.7 831.9L949.7 833.2L953.7 834.8L957.7 836.7L961.7 838.8L965.7 839.8L969.7 841.6L973.7 842.0L977.7 843.2L981.7 843.6L985.7 844.9L989.7 845.3L993.7 846.0L997.7 846.3L1001.7 847.6L1005.7 848.7L1009.7 850.0L1013.7 850.0L1017.7 850.3L1021.7 850.1L1025.7 850.7L1029.7 850.7L1033.7 851.0L1037.7 851.3L1041.7 852.0L1045.7 852.5L1049.7 853.1L1053.7 853.0L1057.7 853.5L1061.7 853.7L1065.7 854.7L1069.7 855.7L1073.7 856.5L1077.7 856.6L1081.7 856.7L1085.7 857.0L1089.7 858.0L1093.7 858.6L1097.7 859.2L1101.7 859.3L1105.7 860.3L1109.7 861.5L1113.7 862.7L1117.7 863.6L1121.7 864.7L1125.7 866.2L1129.7 867.1L1133.7 868.2L1137.7 870.0L1141.7 872.2L1145.7 873.3L1149.7 874.0L1153.7 874.5L1157.7 876.3L1161.7 877.5L1165.7 878.8L1169.7 879.9L1173.7 881.8L1177.7 883.4L1181.7 884.4L1185.7 885.5L1189.7 887.0L1193.7 889.2L1197.7 890.3L1201.7 892.2L1205.7 893.2L1209.7 895.3L1213.7 896.6L1217.7 898.5L1221.7 900.5L1225.7 902.5L1229.7 904.5L1233.7 906.0L1237.7 908.0L1241.7 910.2L1245.7 912.1L1249.7 914.2L1253.7 916.4L1257.7 919.1L1261.7 921.2L1265.7 923.5L1269.7 925.9L1273.7 928.2L1277.7 930.1L1281.7 932.0L1285.7 934.1L1289.7 937.2L1293.7 939.8L1297.7 943.1L1301.7 944.9L1305.7 947.0L1309.7 948.8L1313.7 951.4L1317.7 953.5L1321.7 955.7L1325.7 957.7L1329.7 960.3L1333.7 962.4L1337.7 965.3L1341.7 967.2L1345.7 969.2L1349.7 970.6L1353.7 972.5L1357.7 974.2L1361.7 975.9L1365.7 977.5L1369.7 979.5L1373.7 981.8L1377.7 984.2L1381.7 986.0L1385.7 988.2L1389.7 989.5L1393.7 991.1L1397.7 992.1L1401.7 993.9L1405.7 995.4L1409.7 997.2L1413.7 998.2L1417.7 999.8L1421.7 1001.2L1425.7 1003.2L1429.7 1005.2L1433.7 1006.6L1437.7 1008.2L1441.7 1009.0L1445.7 1010.3L1449.7 1011.4L1453.7 1012.7L1457.7 1013.4L1461.7 1014.4L1465.7 1015.8L1469.7 1017.7L1473.7 1019.5L1477.7 1020.8L1481.7 1022.2L1485.7 1023.2L1489.7 1024.0L1493.7 1025.1L1497.7 1025.5L1501.7 1026.4L1505.7 1027.0L1509.7 1028.6L1513.7 1029.5L1517.7 1030.4L1521.7 1031.2L1525.7 1031.9L1529.7 1032.7L1533.7 1033.7L1537.7 1034.1L1541.7 1034.6L1545.7 1034.5L1549.7 1035.3L1553.7 1035.5L1557.7 1037.2L1561.7 1037.7L1565.7 1038.5L1569.7 1037.8L1573.7 1038.6L1577.7 1039.3L1581.7 1040.0L1585.7 1040.1L1589.7 1039.8L1593.7 1040.3L1597.7 1040.3L1601.7 1040.8L1605.7 1040.9L1609.7 1042.1L1613.7 1042.5L1617.7 1042.5L1621.7 1042.0L1625.7 1042.5L1629.7 1043.2L1633.7 1043.7L1637.7 1043.6L1641.7 1043.6L1645.7 1043.6L1649.7 1043.9L1653.7 1043.3L1657.7 1043.6L1661.7 1043.8L1665.7 1044.8L1669.7 1045.1L1673.7 1045.4L1677.7 1045.5L1681.7 1045.8L1685.7 1045.8L1689.7 1046.1L1693.7 1046.1L1697.7 1045.8L1701.7 1045.9L1705.7 1045.8L1709.7 1046.0L1713.7 1045.5L1717.7 1045.4L1721.7 1045.0L1725.7 1045.2L1729.7 1044.9L1733.7 1045.1L1737.7 1044.9L1741.7 1045.0L1745.7 1045.0L1749.7 1044.9L1753.7 1044.8L1757.7 1044.9L1761.7 1045.1L1765.7 1045.9L1769.7 1045.8L1773.7 1045.8L1777.7 1045.6L1781.7 1045.5L1785.7 1045.9L1789.7 1045.5L1793.7 1046.0L1797.7 1045.7L1801.7 1046.0L1805.7 1046.1L1809.7 1046.7L1811.5 1046.5"/>
<path d="M393.7 3.1L395.7 19.4L397.7 35.9L399.7 52.4L401.7 69.0L403.7 85.1L405.7 101.5L407.7 118.3L409.7 136.2L411.7 155.7L413.7 176.6L415.7 198.2L417.7 219.6L419.7 240.2L421.7 260.6L423.7 280.0L425.7 298.3L427.7 316.0L429.7 333.3L431.7 350.0L433.7 366.4L435.7 382.6L437.7 398.5L439.7 414.4L441.7 430.5L443.7 446.5L445.7 461.9L447.7 476.5L449.7 489.9L451.7 501.8L453.7 511.2L455.7 519.6L457.7 529.6L459.7 543.1L461.7 559.3L463.7 576.0L465.7 592.2L467.7 608.7L469.7 624.7L471.7 639.3L473.7 652.8L475.7 665.7L477.7 678.7L479.7 692.3L481.7 706.2L483.7 719.7L485.7 731.9L487.7 742.9L489.7 753.2L491.7 762.7L493.7 771.5L495.7 780.1L497.7 787.6L499.7 794.0L501.7 799.2L503.7 804.4L505.7 809.1L507.7 812.6L509.7 815.2L511.7 817.1L513.7 818.6L515.7 820.3L517.7 821.0L519.7 822.6L521.7 823.6L524.2 825.3L526.7 825.8L529.2 826.8L531.7 827.0L534.2 827.4L536.7 827.0L539.2 827.3L541.7 827.4L544.2 828.3L546.7 827.9L549.2 827.8L551.7 826.9L554.2 825.7L556.7 824.7L559.2 823.9L561.7 824.1L564.2 823.7L566.7 823.6L569.2 823.5L571.7 823.7L574.2 823.7L576.7 823.2L579.2 823.3L581.7 823.1L584.2 823.3L586.7 823.4L589.2 824.0L591.7 824.8L594.2 824.8L596.7 824.4L599.2 824.7L601.7 824.7L604.2 824.6L606.7 823.6L609.2 823.2L611.7 822.5L614.2 822.7L616.7 822.5L619.2 822.4L621.7 821.3L624.2 820.4L626.7 820.4L629.2 820.7L631.7 820.5L634.2 820.0L636.7 819.3L639.2 818.3L641.7 817.0L644.2 816.2L646.7 815.8L649.2 814.6L651.7 813.6L654.2 812.2L656.7 811.4L659.2 810.4L661.7 809.7L664.2 809.3L666.7 808.5L669.2 807.7L671.7 806.5L674.2 805.1L676.7 804.4L679.2 804.0L681.7 803.0L684.2 801.2L686.7 799.4L689.2 798.7L691.7 798.0L694.2 797.1L696.7 796.1L699.2 795.2L701.7 794.5L704.2 793.4L706.7 792.3L709.2 791.2L711.7 789.6L714.2 788.6L716.7 787.1L719.2 786.5L721.7 785.7L724.2 785.0L726.7 783.9L729.2 783.3L731.7 782.8L734.2 782.4L736.7 781.2L739.2 780.4L741.7 779.4L744.2 779.0L746.7 777.7L749.2 777.3L751.7 776.1L754.2 776.0L756.7 775.4L759.2 775.6L761.7 774.9L764.2 774.1L766.7 773.2L769.2 772.8L771.7 772.5L774.2 771.8L776.7 771.5L779.2 771.0L781.7 771.1L784.2 770.8L786.7 771.4L789.2 771.2L791.7 771.7L794.2 771.9L796.7 772.2L799.2 771.6L801.7 771.4L804.2 771.6L806.7 772.4L809.2 772.9L811.7 773.7L814.2 774.4L816.7 774.5L819.2 775.1L821.7 775.5L824.2 776.8L826.7 777.0L829.2 778.0L831.7 778.9L834.2 780.5L836.7 782.1L839.2 783.8L841.7 785.7L844.2 787.0L846.7 788.0L849.2 789.4L851.7 790.5L854.2 792.4L856.7 793.6L859.2 794.9L861.7 796.1L864.2 797.5L866.7 798.4L869.2 799.4L871.7 800.2L874.2 801.8L876.7 803.4L879.2 805.0L881.7 806.8L884.2 807.7L886.7 808.6L889.2 809.0L891.7 810.0L894.2 811.2L896.7 812.5L899.2 813.3L901.7 814.4L905.7 816.1L909.7 818.3L913.7 819.5L917.7 821.2L921.7 822.4L925.7 824.7L929.7 826.1L933.7 827.5L937.7 828.6L941.7 830.2L945.7 832.2L949.7 833.9L953.7 835.6L957.7 836.8L961.7 837.5L965.7 838.5L969.7 839.6L973.7 841.0L977.7 842.5L981.7 844.0L985.7 844.9L989.7 845.2L993.7 845.5L997.7 846.8L1001.7 847.7L1005.7 848.1L1009.7 848.5L1013.7 848.8L1017.7 849.3L1021.7 849.7L1025.7 850.1L1029.7 850.7L1033.7 850.8L1037.7 851.0L1041.7 851.4L1045.7 852.3L1049.7 853.1L1053.7 853.2L1057.7 853.0L1061.7 853.6L1065.7 854.3L1069.7 854.8L1073.7 855.0L1077.7 855.7L1081.7 856.4L1085.7 857.1L1089.7 857.9L1093.7 858.7L1097.7 859.8L1101.7 860.5L1105.7 861.3L1109.7 862.0L1113.7 862.8L1117.7 864.0L1121.7 864.5L1125.7 865.8L1129.7 866.6L1133.7 868.3L1137.7 869.7L1141.7 871.4L1145.7 873.1L1149.7 873.3L1153.7 874.6L1157.7 875.4L1161.7 877.8L1165.7 878.8L1169.7 880.4L1173.7 881.3L1177.7 882.8L1181.7 883.7L1185.7 885.3L1189.7 886.6L1193.7 888.3L1197.7 890.2L1201.7 891.7L1205.7 893.8L1209.7 895.0L1213.7 896.9L1217.7 898.5L1221.7 900.3L1225.7 902.9L1229.7 904.5L1233.7 906.5L1237.7 907.9L1241.7 910.4L1245.7 912.7L1249.7 915.0L1253.7 916.8L1257.7 918.9L1261.7 921.3L1265.7 923.9L1269.7 926.0L1273.7 927.4L1277.7 929.7L1281.7 932.3L1285.7 935.3L1289.7 937.3L1293.7 939.8L1297.7 942.2L1301.7 945.2L1305.7 948.1L1309.7 950.4L1313.7 952.4L1317.7 954.0L1321.7 956.2L1325.7 957.7L1329.7 959.7L1333.7 961.6L1337.7 964.7L1341.7 967.0L1345.7 968.9L1349.7 970.4L1353.7 972.0L1357.7 973.8L1361.7 976.1L1365.7 978.4L1369.7 980.6L1373.7 981.8L1377.7 983.5L1381.7 985.6L1385.7 987.8L1389.7 989.2L1393.7 990.6L1397.7 992.9L1401.7 994.9L1405.7 996.7L1409.7 997.5L1413.7 999.0L1417.7 1000.1L1421.7 1001.9L1425.7 1002.9L1429.7 1004.2L1433.7 1006.1L1437.7 1007.8L1441.7 1009.9L1445.7 1010.7L1449.7 1012.4L1453.7 1013.2L1457.7 1014.4L1461.7 1015.7L1465.7 1017.4L1469.7 1018.3L1473.7 1018.9L1477.7 1019.9L1481.7 1022.0L1485.7 1023.4L1489.7 1024.4L1493.7 1024.7L1497.7 1025.9L1501.7 1027.1L1505.7 1027.9L1509.7 1028.5L1513.7 1028.4L1517.7 1029.8L1521.7 1030.3L1525.7 1031.9L1529.7 1032.3L1533.7 1033.4L1537.7 1033.6L1541.7 1034.5L1545.7 1034.8L1549.7 1035.4L1553.7 1036.3L1557.7 1037.0L1561.7 1038.1L1565.7 1038.2L1569.7 1038.7L1573.7 1039.2L1577.7 1039.6L1581.7 1039.7L1585.7 1039.5L1589.7 1039.8L1593.7 1040.5L1597.7 1041.1L1601.7 1041.6L1605.7 1041.7L1609.7 1042.1L1613.7 1042.6L1617.7 1042.5L1621.7 1042.2L1625.7 1042.7L1629.7 1043.1L1633.7 1043.7L1637.7 1043.3L1641.7 1043.1L1645.7 1042.9L1649.7 1043.5L1653.7 1044.0L1657.7 1044.7L1661.7 1044.8L1665.7 1044.9L1669.7 1044.6L1673.7 1044.8L1677.7 1045.7L1681.7 1046.3L1685.7 1045.7L1689.7 1045.5L1693.7 1045.2L1697.7 1045.8L1701.7 1045.8L1705.7 1045.6L1709.7 1045.7L1713.7 1045.4L1717.7 1045.4L1721.7 1045.2L1725.7 1045.0L1729.7 1045.0L1733.7 1044.7L1737.7 1045.1L1741.7 1045.7L1745.7 1045.8L1749.7 1046.2L1753.7 1046.0L1757.7 1046.3L1761.7 1045.9L1765.7 1046.0L1769.7 1045.6L1773.7 1045.5L1777.7 1045.4L1781.7 1045.6L1785.7 1045.3L1789.7 1045.5L1793.7 1045.7L1797.7 1046.0L1801.7 1045.8L1805.7 1045.6L1809.7 1045.3L1811.5 1045.5"/>
<path d="M394.3 3.1L396.3 19.5L398.3 35.9L400.3 52.5L402.3 69.0L404.3 85.2L406.3 101.5L408.3 118.4L410.3 136.2L412.3 155.7L414.3 176.7L416.3 198.4L418.3 219.8L420.3 240.4L422.3 260.7L424.3 280.1L426.3 298.3L428.3 316.1L430.3 333.4L432.3 350.1L434.3 366.5L436.3 382.7L438.3 398.6L440.3 414.5L442.3 430.6L444.3 446.6L446.3 462.0L448.3 476.5L450.3 489.9L452.3 501.8L454.3 511.1L456.3 519.7L458.3 529.6L460.3 543.2L462.3 559.4L464.3 576.1L466.3 592.4L468.3 609.0L470.3 625.0L472.3 639.4L474.3 652.8L476.3 665.7L478.3 678.8L480.3 692.4L482.3 706.3L484.3 719.7L486.3 731.8L488.3 742.9L490.3 753.4L492.3 763.1L494.3 771.8L496.3 779.8L498.3 787.4L500.3 794.0L502.3 799.5L504.3 804.5L506.3 809.0L508.3 812.9L510.3 816.0L512.3 818.2L514.3 819.8L516.3 821.4L518.3 822.5L520.3 823.5L522.3 824.4L524.8 825.4L527.3 826.0L529.8 826.5L532.3 826.9L534.8 827.5L537.3 827.7L539.8 828.0L542.3 828.5L544.8 829.4L547.3 829.1L549.8 828.1L552.3 827.2L554.8 826.9L557.3 826.3L559.8 825.3L562.3 824.4L564.8 824.0L567.3 823.6L569.8 823.0L572.3 822.7L574.8 823.1L577.3 823.1L579.8 823.4L582.3 823.6L584.8 824.7L587.3 824.8L589.8 824.5L592.3 824.6L594.8 824.3L597.3 824.8L599.8 824.2L602.3 824.7L604.8 824.8L607.3 824.6L609.8 824.7L612.3 824.2L614.8 824.2L617.3 823.2L619.8 822.9L622.3 822.1L624.8 821.7L627.3 821.2L629.8 820.7L632.3 820.6L634.8 820.1L637.3 819.7L639.8 819.0L642.3 817.8L644.8 817.1L647.3 816.3L649.8 815.6L652.3 814.5L654.8 813.9L657.3 812.9L659.8 811.8L662.3 811.0L664.8 809.8L667.3 808.8L669.8 807.5L672.3 807.0L674.8 806.2L677.3 805.2L679.8 803.8L682.3 802.4L684.8 801.0L687.3 800.0L689.8 799.6L692.3 799.0L694.8 798.4L697.3 797.0L699.8 795.8L702.3 794.7L704.8 793.7L707.3 792.0L709.8 791.2L712.3 790.3L714.8 789.9L717.3 788.8L719.8 787.9L722.3 786.5L724.8 785.1L727.3 783.9L729.8 782.9L732.3 781.9L734.8 781.2L737.3 780.0L739.8 779.6L742.3 778.9L744.8 779.4L747.3 779.3L749.8 778.8L752.3 777.9L754.8 777.2L757.3 777.0L759.8 776.5L762.3 775.4L764.8 774.4L767.3 773.7L769.8 773.0L772.3 772.3L774.8 771.9L777.3 772.2L779.8 772.4L782.3 771.2L784.8 770.4L787.3 769.8L789.8 771.4L792.3 771.9L794.8 772.7L797.3 771.8L799.8 771.6L802.3 771.6L804.8 772.3L807.3 772.8L809.8 773.0L812.3 773.6L814.8 774.7L817.3 775.8L819.8 776.3L822.3 776.8L824.8 777.3L827.3 778.6L829.8 779.1L832.3 780.5L834.8 781.7L837.3 783.9L839.8 784.9L842.3 786.2L844.8 787.3L847.3 788.5L849.8 789.9L852.3 790.9L854.8 792.7L857.3 794.0L859.8 795.2L862.3 795.9L864.8 797.0L867.3 798.2L869.8 799.6L872.3 800.1L874.8 801.2L877.3 802.4L879.8 804.3L882.3 805.7L884.8 806.6L887.3 808.1L889.8 809.5L892.3 810.9L894.8 811.7L897.3 812.4L899.8 813.3L902.3 814.5L906.3 816.4L910.3 818.2L914.3 819.4L918.3 820.4L922.3 821.6L926.3 823.6L930.3 825.6L934.3 827.0L938.3 828.5L942.3 830.0L946.3 831.5L950.3 832.8L954.3 834.0L958.3 836.3L962.3 837.8L966.3 839.5L970.3 840.8L974.3 842.3L978.3 843.3L982.3 844.3L986.3 844.7L990.3 845.3L994.3 845.4L998.3 846.0L1002.3 846.4L1006.3 848.0L1010.3 849.4L1014.3 850.6L1018.3 851.2L1022.3 851.2L1026.3 851.6L1030.3 851.3L1034.3 851.5L1038.3 851.9L1042.3 852.5L1046.3 852.8L1050.3 852.7L1054.3 852.8L1058.3 853.3L1062.3 853.6L1066.3 853.8L1070.3 854.1L1074.3 855.5L1078.3 856.8L1082.3 857.6L1086.3 857.8L1090.3 858.4L1094.3 859.3L1098.3 859.6L1102.3 859.6L1106.3 860.6L1110.3 861.9L1114.3 863.6L1118.3 864.0L1122.3 865.5L1126.3 866.7L1130.3 868.1L1134.3 868.8L1138.3 870.1L1142.3 871.6L1146.3 872.5L1150.3 873.5L1154.3 874.3L1158.3 875.9L1162.3 877.6L1166.3 879.4L1170.3 881.2L1174.3 882.4L1178.3 883.1L1182.3 884.0L1186.3 885.6L1190.3 887.5L1194.3 889.2L1198.3 890.6L1202.3 892.2L1206.3 893.4L1210.3 894.8L1214.3 896.4L1218.3 898.6L1222.3 900.4L1226.3 902.6L1230.3 904.9L1234.3 906.9L1238.3 908.8L1242.3 910.1L1246.3 912.2L1250.3 914.8L1254.3 917.2L1258.3 919.6L1262.3 921.3L1266.3 923.2L1270.3 925.4L1274.3 927.9L1278.3 930.8L1282.3 933.0L1286.3 935.4L1290.3 937.7L1294.3 940.1L1298.3 942.2L1302.3 944.7L1306.3 947.1L1310.3 949.7L1314.3 952.2L1318.3 954.6L1322.3 956.4L1326.3 958.3L1330.3 960.1L1334.3 962.8L1338.3 965.5L1342.3 967.8L1346.3 969.2L1350.3 971.2L1354.3 973.1L1358.3 975.0L1362.3 976.4L1366.3 978.0L1370.3 980.3L1374.3 982.2L1378.3 984.3L1382.3 986.0L1386.3 988.5L1390.3 990.1L1394.3 991.7L1398.3 992.6L1402.3 994.4L1406.3 996.1L1410.3 997.7L1414.3 999.3L1418.3 1001.0L1422.3 1002.8L1426.3 1004.0L1430.3 1005.3L1434.3 1007.0L1438.3 1008.5L1442.3 1010.3L1446.3 1011.6L1450.3 1012.8L1454.3 1014.1L1458.3 1015.7L1462.3 1017.9L1466.3 1018.8L1470.3 1019.9L1474.3 1020.9L1478.3 1022.3L1482.3 1023.2L1486.3 1023.4L1490.3 1024.1L1494.3 1025.2L1498.3 1026.9L1502.3 1028.2L1506.3 1029.1L1510.3 1030.2L1514.3 1030.9L1518.3 1032.1L1522.3 1033.0L1526.3 1034.1L1530.3 1034.9L1534.3 1034.9L1538.3 1035.5L1542.3 1036.6L1546.3 1037.7L1550.3 1038.4L1554.3 1038.8L1558.3 1039.4L1562.3 1039.4L1566.3 1039.8L1570.3 1039.4L1574.3 1039.8L1578.3 1039.8L1582.3 1041.0L1586.3 1041.7L1590.3 1042.6L1594.3 1043.1L1598.3 1043.3L1602.3 1044.0L1606.3 1044.1L1610.3 1044.3L1614.3 1044.2L1618.3 1044.6L1622.3 1045.4L1626.3 1045.5L1630.3 1045.2L1634.3 1045.3L1638.3 1045.3L1642.3 1046.0L1646.3 1045.9L1650.3 1046.0L1654.3 1046.2L1658.3 1046.1L1662.3 1047.2L1666.3 1046.9L1670.3 1047.4L1674.3 1046.9L1678.3 1047.0L1682.3 1047.4L1686.3 1047.3L1690.3 1047.9L1694.3 1048.0L1698.3 1048.1L1702.3 1048.2L1706.3 1047.7L1710.3 1047.8L1714.3 1047.7L1718.3 1048.0L1722.3 1048.2L1726.3 1048.2L1730.3 1048.4L1734.3 1048.4L1738.3 1048.5L1742.3 1048.2L1746.3 1048.1L1750.3 1048.0L1754.3 1047.9L1758.3 1047.7L1762.3 1048.0L1766.3 1048.1L1770.3 1048.5L1774.3 1048.3L1778.3 1048.2L1782.3 1048.5L1786.3 1048.3L1790.3 1048.2L1794.3 1048.0L1798.3 1048.1L1802.3 1048.7L1806.3 1048.8L1810.3 1048.7L1812.1 1048.5"/>
<path d="M393.2 3.0L395.2 19.3L397.2 35.8L399.2 52.3L401.2 68.9L403.2 85.2L405.2 101.4L407.2 118.3L409.2 136.2L411.2 155.6L413.2 176.5L415.2 198.1L417.2 219.6L419.2 240.2L421.2 260.6L423.2 280.0L425.2 298.3L427.2 316.0L429.2 333.1L431.2 350.0L433.2 366.3L435.2 382.6L437.2 398.5L439.2 414.4L441.2 430.6L443.2 446.5L445.2 461.9L447.2 476.5L449.2 489.8L451.2 501.6L453.2 510.8L455.2 519.4L457.2 529.4L459.2 543.0L461.2 559.2L463.2 575.9L465.2 592.1L467.2 608.7L469.2 624.7L471.2 639.2L473.2 652.6L475.2 665.6L477.2 678.7L479.2 692.3L481.2 706.3L483.2 719.7L485.2 731.9L487.2 742.9L489.2 753.2L491.2 762.7L493.2 771.3L495.2 779.6L497.2 787.3L499.2 794.0L501.2 799.2L503.2 804.2L505.2 808.5L507.2 812.5L509.2 815.3L511.2 817.0L513.2 818.4L515.2 819.9L517.2 821.1L519.2 822.4L521.2 823.1L523.7 824.0L526.2 824.5L528.7 825.3L531.2 825.8L533.7 826.0L536.2 826.2L538.7 826.5L541.2 826.5L543.7 826.6L546.2 826.8L548.7 826.5L551.2 826.3L553.7 825.6L556.2 825.4L558.7 824.6L561.2 823.8L563.7 822.9L566.2 822.5L568.7 822.0L571.2 821.7L573.7 821.9L576.2 822.1L578.7 822.7L581.2 822.3L583.7 822.7L586.2 822.6L588.7 822.8L591.2 822.8L593.7 822.8L596.2 823.7L598.7 824.0L601.2 824.1L603.7 823.9L606.2 823.5L608.7 823.3L611.2 822.8L613.7 822.5L616.2 822.1L618.7 821.3L621.2 820.6L623.7 820.0L626.2 819.4L628.7 818.8L631.2 818.3L633.7 817.7L636.2 817.1L638.7 816.8L641.2 816.7L643.7 816.2L646.2 815.0L648.7 813.8L651.2 812.9L653.7 812.5L656.2 811.6L658.7 810.4L661.2 809.1L663.7 808.3L666.2 807.7L668.7 807.2L671.2 805.7L673.7 804.5L676.2 803.1L678.7 802.2L681.2 801.2L683.7 799.8L686.2 799.0L688.7 798.4L691.2 798.2L693.7 797.1L696.2 795.9L698.7 794.8L701.2 794.2L703.7 793.3L706.2 792.2L708.7 790.9L711.2 789.5L713.7 788.2L716.2 787.4L718.7 786.5L721.2 785.7L723.7 784.7L726.2 783.7L728.7 782.7L731.2 781.3L733.7 780.3L736.2 779.6L738.7 779.1L741.2 778.3L743.7 777.6L746.2 776.8L748.7 776.7L751.2 776.3L753.7 776.0L756.2 775.3L758.7 774.5L761.2 774.3L763.7 773.3L766.2 773.1L768.7 772.1L771.2 771.8L773.7 770.9L776.2 770.5L778.7 770.5L781.2 770.7L783.7 770.7L786.2 771.1L788.7 770.9L791.2 770.9L793.7 770.1L796.2 769.9L798.7 770.1L801.2 770.6L803.7 771.1L806.2 771.1L808.7 771.7L811.2 772.2L813.7 773.5L816.2 774.4L818.7 775.3L821.2 775.5L823.7 776.0L826.2 776.4L828.7 777.7L831.2 779.1L833.7 780.3L836.2 781.4L838.7 782.6L841.2 784.3L843.7 785.7L846.2 787.2L848.7 788.5L851.2 790.0L853.7 790.9L856.2 792.1L858.7 792.9L861.2 793.9L863.7 794.9L866.2 796.5L868.7 798.4L871.2 799.6L873.7 800.9L876.2 801.7L878.7 802.8L881.2 803.8L883.7 805.2L886.2 806.5L888.7 807.6L891.2 808.7L893.7 810.0L896.2 811.0L898.7 811.8L901.2 813.4L905.2 815.3L909.2 816.8L913.2 817.7L917.2 819.3L921.2 821.3L925.2 822.4L929.2 823.8L933.2 825.4L937.2 827.6L941.2 829.6L945.2 831.1L949.2 832.1L953.2 833.9L957.2 835.1L961.2 836.8L965.2 838.0L969.2 839.5L973.2 841.0L977.2 841.8L981.2 842.9L985.2 843.7L989.2 844.4L993.2 844.5L997.2 845.1L1001.2 845.9L1005.2 847.1L1009.2 847.6L1013.2 847.9L1017.2 848.2L1021.2 848.8L1025.2 849.0L1029.2 849.8L1033.2 849.7L1037.2 850.0L1041.2 849.8L1045.2 850.1L1049.2 850.5L1053.2 851.3L1057.2 851.9L1061.2 852.6L1065.2 853.1L1069.2 853.6L1073.2 853.9L1077.2 854.7L1081.2 855.6L1085.2 856.4L1089.2 857.2L1093.2 857.5L1097.2 857.8L1101.2 858.2L1105.2 859.8L1109.2 861.1L1113.2 862.3L1117.2 862.8L1121.2 864.0L1125.2 865.1L1129.2 866.5L1133.2 867.6L1137.2 869.1L1141.2 869.6L1145.2 870.6L1149.2 871.5L1153.2 872.9L1157.2 874.3L1161.2 875.9L1165.2 877.8L1169.2 879.6L1173.2 880.6L1177.2 882.2L1181.2 883.1L1185.2 884.9L1189.2 885.9L1193.2 887.7L1197.2 889.1L1201.2 890.7L1205.2 892.1L1209.2 893.8L1213.2 896.1L1217.2 897.8L1221.2 899.8L1225.2 901.4L1229.2 903.6L1233.2 905.5L1237.2 907.6L1241.2 909.5L1245.2 911.4L1249.2 913.2L1253.2 915.6L1257.2 918.1L1261.2 920.8L1265.2 923.0L1269.2 925.0L1273.2 926.9L1277.2 929.2L1281.2 931.5L1285.2 933.9L1289.2 936.1L1293.2 938.4L1297.2 941.0L1301.2 943.6L1305.2 946.6L1309.2 948.8L1313.2 951.7L1317.2 953.7L1321.2 955.8L1325.2 957.5L1329.2 959.5L1333.2 961.9L1337.2 963.6L1341.2 965.5L1345.2 967.8L1349.2 970.1L1353.2 972.5L1357.2 973.8L1361.2 975.5L1365.2 977.3L1369.2 979.4L1373.2 981.5L1377.2 983.1L1381.2 985.1L1385.2 987.0L1389.2 989.4L1393.2 990.5L1397.2 991.9L1401.2 993.2L1405.2 995.1L1409.2 996.3L1413.2 998.1L1417.2 999.6L1421.2 1000.9L1425.2 1002.3L1429.2 1003.7L1433.2 1006.0L1437.2 1006.9L1441.2 1008.5L1445.2 1009.3L1449.2 1011.3L1453.2 1012.4L1457.2 1013.8L1461.2 1014.8L1465.2 1016.1L1469.2 1017.9L1473.2 1019.1L1477.2 1020.4L1481.2 1021.2L1485.2 1022.5L1489.2 1023.7L1493.2 1024.6L1497.2 1025.4L1501.2 1026.3L1505.2 1027.3L1509.2 1028.3L1513.2 1029.7L1517.2 1030.2L1521.2 1030.8L1525.2 1031.3L1529.2 1032.4L1533.2 1033.7L1537.2 1034.5L1541.2 1035.2L1545.2 1036.1L1549.2 1036.8L1553.2 1037.0L1557.2 1037.1L1561.2 1037.1L1565.2 1037.8L1569.2 1038.0L1573.2 1038.6L1577.2 1038.7L1581.2 1039.2L1585.2 1039.8L1589.2 1040.6L1593.2 1041.0L1597.2 1041.2L1601.2 1041.5L1605.2 1042.0L1609.2 1042.1L1613.2 1041.9L1617.2 1041.8L1621.2 1042.2L1625.2 1043.0L1629.2 1043.5L1633.2 1044.2L1637.2 1043.8L1641.2 1043.9L1645.2 1044.1L1649.2 1044.8L1653.2 1045.2L1657.2 1045.3L1661.2 1045.4L1665.2 1045.6L1669.2 1045.8L1673.2 1045.6L1677.2 1045.7L1681.2 1045.5L1685.2 1045.9L1689.2 1045.2L1693.2 1045.3L1697.2 1045.5L1701.2 1045.8L1705.2 1045.5L1709.2 1044.9L1713.2 1045.3L1717.2 1045.6L1721.2 1046.1L1725.2 1046.2L1729.2 1046.4L1733.2 1046.3L1737.2 1046.3L1741.2 1045.7L1745.2 1045.8L1749.2 1045.5L1753.2 1046.3L1757.2 1046.4L1761.2 1046.2L1765.2 1045.9L1769.2 1046.1L1773.2 1046.5L1777.2 1046.3L1781.2 1045.8L1785.2 1045.8L1789.2 1046.4L1793.2 1046.6L1797.2 1046.3L1801.2 1046.2L1805.2 1046.4L1809.2 1046.4L1811.0 1046.4"/>
</g></g>
<g filter="url(#soft)">
<g stroke="#363636" stroke-width="3.8" fill="none">
<rect x="349" y="58.9" width="1497.1" height="1046.9"/>
<line x1="332.3" y1="58.6" x2="349" y2="58.6"/>
<line x1="332.3" y1="305" x2="349" y2="305"/>
<line x1="332.3" y1="550.8" x2="349" y2="550.8"/>
<line x1="332.3" y1="796.2" x2="349" y2="796.2"/>
<line x1="332.3" y1="1041.8" x2="349" y2="1041.8"/>
<line x1="450.8" y1="1105.8" x2="450.8" y2="1123.3"/>
<line x1="790.9" y1="1105.8" x2="790.9" y2="1123.3"/>
<line x1="1131.2" y1="1105.8" x2="1131.2" y2="1123.3"/>
<line x1="1471.6" y1="1105.8" x2="1471.6" y2="1123.3"/>
<line x1="1811.9" y1="1105.8" x2="1811.9" y2="1123.3"/>
<path d="M1090.2,581.6 H1846"/>
<path d="M1092.2,54.5 V581.6" stroke="#5a5a5a" stroke-width="4.4"/>
<line x1="1084.0" y1="93.5" x2="1092.2" y2="93.5" stroke-width="3.4"/>
<line x1="1084.0" y1="155.3" x2="1092.2" y2="155.3" stroke-width="3.4"/>
<line x1="1084.0" y1="217.4" x2="1092.2" y2="217.4" stroke-width="3.4"/>
<line x1="1084.0" y1="279.6" x2="1092.2" y2="279.6" stroke-width="3.4"/>
<line x1="1084.0" y1="342.2" x2="1092.2" y2="342.2" stroke-width="3.4"/>
<line x1="1084.0" y1="403.6" x2="1092.2" y2="403.6" stroke-width="3.4"/>
<line x1="1084.0" y1="465.0" x2="1092.2" y2="465.0" stroke-width="3.4"/>
<line x1="1084.0" y1="527.0" x2="1092.2" y2="527.0" stroke-width="3.4"/>
<line x1="1126.6" y1="581.6" x2="1126.6" y2="591"/>
<line x1="1216.9" y1="581.6" x2="1216.9" y2="591"/>
<line x1="1307.8" y1="581.6" x2="1307.8" y2="591"/>
<line x1="1399.1" y1="581.6" x2="1399.1" y2="591"/>
<line x1="1490.3" y1="581.6" x2="1490.3" y2="591"/>
<line x1="1580.8" y1="581.6" x2="1580.8" y2="591"/>
<line x1="1671.9" y1="581.6" x2="1671.9" y2="591"/>
<line x1="1763.4" y1="581.6" x2="1763.4" y2="591"/>
</g>
<g fill="#fff" stroke="#000" stroke-width="4.8" stroke-linejoin="miter">
<path d="M1111.5,547.3H1140.5L1126.0,574.3Z"/>
<path d="M1128.7,516.3H1157.7L1143.2,543.3Z"/>
<path d="M1145.8,486.2H1174.8L1160.3,513.2Z"/>
<path d="M1163.1,456.1H1192.1L1177.6,483.1Z"/>
<path d="M1180.3,421.2H1209.3L1194.8,448.2Z"/>
<path d="M1197.3,385.2H1226.3L1211.8,412.2Z"/>
<path d="M1214.5,354.1H1243.5L1229.0,381.1Z"/>
<path d="M1231.7,320.5H1260.7L1246.2,347.5Z"/>
<path d="M1248.8,287.0H1277.8L1263.3,314.0Z"/>
<path d="M1265.9,257.3H1294.9L1280.4,284.3Z"/>
<path d="M1283.0,228.0H1312.0L1297.5,255.0Z"/>
<path d="M1300.1,199.2H1329.1L1314.6,226.2Z"/>
<path d="M1317.3,177.3H1346.3L1331.8,204.3Z"/>
<path d="M1334.5,156.0H1363.5L1349.0,183.0Z"/>
<path d="M1351.7,133.8H1380.7L1366.2,160.8Z"/>
<path d="M1368.9,120.5H1397.9L1383.4,147.5Z"/>
<path d="M1386.1,113.3H1415.1L1400.6,140.3Z"/>
<path d="M1403.3,107.0H1432.3L1417.8,134.0Z"/>
<path d="M1420.3,101.4H1449.3L1434.8,128.4Z"/>
<path d="M1437.3,97.4H1466.3L1451.8,124.4Z"/>
<path d="M1454.3,93.5H1483.3L1468.8,120.5Z"/>
<path d="M1488.7,88.7H1517.7L1503.2,115.7Z"/>
<path d="M1522.9,78.9H1551.9L1537.4,105.9Z"/>
<path d="M1557.0,77.9H1586.0L1571.5,104.9Z"/>
<path d="M1591.3,74.1H1620.3L1605.8,101.1Z"/>
<path d="M1625.5,73.9H1654.5L1640.0,100.9Z"/>
<path d="M1659.9,73.5H1688.9L1674.4,100.5Z"/>
<path d="M1694.1,72.0H1723.1L1708.6,99.0Z"/>
<path d="M1728.3,69.9H1757.3L1742.8,96.9Z"/>
<path d="M1762.5,69.5H1791.5L1777.0,96.5Z"/>
<path d="M1796.8,68.0H1825.8L1811.3,95.0Z"/>
</g>
<g fill="none" stroke="#000" stroke-linejoin="round">
<path d="M870.1,750.4V560" stroke-width="4.8"/>
<path d="M858.8,601.2L870.1,555.6L881.7,601.2" stroke-width="5.2"/>
<path d="M703.4,845.6V1036" stroke-width="4.8"/>
<path d="M691.9,993.8L703.4,1040.8L715.2,993.8" stroke-width="5.2"/>
</g>
<text transform="translate(198.09,86.60) scale(0.985,1.02)" font-family='"Liberation Sans",sans-serif' font-size="86">20</text>
<text transform="translate(198.33,332.85) scale(0.985,1.02)" font-family='"Liberation Sans",sans-serif' font-size="86" clip-path="url(#k1)">15</text>
<text transform="translate(198.09,579.10) scale(0.985,1.02)" font-family='"Liberation Sans",sans-serif' font-size="86" clip-path="url(#k2)">10</text>
<text transform="translate(245.45,824.05) scale(0.985,1.02)" font-family='"Liberation Sans",sans-serif' font-size="86">5</text>
<text transform="translate(245.20,1070.10) scale(0.985,1.02)" font-family='"Liberation Sans",sans-serif' font-size="86">0</text>
<text transform="translate(379.66,1238.30) scale(0.985,1.02)" font-family='"Liberation Sans",sans-serif' font-size="86">250</text>
<text transform="translate(720.27,1238.30) scale(0.985,1.02)" font-family='"Liberation Sans",sans-serif' font-size="86">300</text>
<text transform="translate(1060.57,1238.30) scale(0.985,1.02)" font-family='"Liberation Sans",sans-serif' font-size="86">350</text>
<text transform="translate(1401.61,1238.30) scale(0.985,1.02)" font-family='"Liberation Sans",sans-serif' font-size="86">400</text>
<text transform="translate(1741.91,1238.30) scale(0.985,1.02)" font-family='"Liberation Sans",sans-serif' font-size="86">450</text>
<text transform="translate(1005.10,108.63) scale(0.985,1.09)" font-family='"Liberation Sans",sans-serif' font-size="43" fill="#222">3.5</text>
<text transform="translate(1004.98,170.43) scale(0.985,1.09)" font-family='"Liberation Sans",sans-serif' font-size="43" fill="#222">3.0</text>
<text transform="translate(1005.10,232.53) scale(0.985,1.09)" font-family='"Liberation Sans",sans-serif' font-size="43" fill="#222">2.5</text>
<text transform="translate(1004.98,294.73) scale(0.985,1.09)" font-family='"Liberation Sans",sans-serif' font-size="43" fill="#222">2.0</text>
<text transform="translate(1005.10,357.09) scale(0.985,1.09)" font-family='"Liberation Sans",sans-serif' font-size="43" fill="#222" clip-path="url(#k3)">1.5</text>
<text transform="translate(1004.98,418.73) scale(0.985,1.09)" font-family='"Liberation Sans",sans-serif' font-size="43" fill="#222" clip-path="url(#k4)">1.0</text>
<text transform="translate(1005.10,480.13) scale(0.985,1.09)" font-family='"Liberation Sans",sans-serif' font-size="43" fill="#222">0.5</text>
<text transform="translate(1004.98,542.13) scale(0.985,1.09)" font-family='"Liberation Sans",sans-serif' font-size="43" fill="#222">0.0</text>
<text transform="translate(1097.16,649.20) scale(0.985,1.09)" font-family='"Liberation Sans",sans-serif' font-size="43" fill="#222">0.0</text>
<text transform="translate(1187.70,649.20) scale(0.985,1.09)" font-family='"Liberation Sans",sans-serif' font-size="43" fill="#222">0.2</text>
<text transform="translate(1278.15,649.20) scale(0.985,1.09)" font-family='"Liberation Sans",sans-serif' font-size="43" fill="#222">0.4</text>
<text transform="translate(1369.76,649.20) scale(0.985,1.09)" font-family='"Liberation Sans",sans-serif' font-size="43" fill="#222">0.6</text>
<text transform="translate(1460.95,649.20) scale(0.985,1.09)" font-family='"Liberation Sans",sans-serif' font-size="43" fill="#222">0.8</text>
<text transform="translate(1550.57,649.20) scale(0.985,1.09)" font-family='"Liberation Sans",sans-serif' font-size="43" fill="#222" clip-path="url(#k5)">1.0</text>
<text transform="translate(1641.91,649.20) scale(0.985,1.09)" font-family='"Liberation Sans",sans-serif' font-size="43" fill="#222" clip-path="url(#k6)">1.2</text>
<text transform="translate(1732.97,649.20) scale(0.985,1.09)" font-family='"Liberation Sans",sans-serif' font-size="43" fill="#222" clip-path="url(#k7)">1.4</text>
<text><tspan x="956.51" y="1401.20" font-family='"Liberation Serif",serif' font-size="100" font-weight="bold">λ</tspan> <tspan x="1033.57" y="1400.60" font-family='"Liberation Sans",sans-serif' font-size="97" font-weight="bold" textLength="27.78" lengthAdjust="spacingAndGlyphs">(</tspan><tspan x="1064.36" y="1400.80" font-family='"Liberation Sans",sans-serif' font-size="97" font-weight="bold">nm</tspan><tspan x="1212.75" y="1400.60" font-family='"Liberation Sans",sans-serif' font-size="97" font-weight="bold" textLength="27.78" lengthAdjust="spacingAndGlyphs">)</tspan></text>
<text><tspan x="1454.20" y="702.40" font-family='"Liberation Sans",sans-serif' font-size="50" font-weight="bold" font-style="italic">n</tspan></text>
<text transform="rotate(-90)" clip-path="url(#k8)"><tspan x="-960.15" y="132.06" font-family='"Liberation Serif",serif' font-size="98" stroke="#000" stroke-width="2.2">ε</tspan> <tspan x="-887.54" y="123.47" font-family='"Liberation Sans",sans-serif' font-size="82" font-weight="bold" stroke="#000" stroke-width="3">×</tspan> <tspan x="-807.14" y="129.40" font-family='"Liberation Sans",sans-serif' font-size="97" font-weight="bold">1</tspan><tspan x="-757.00" y="129.40" font-family='"Liberation Sans",sans-serif' font-size="97" font-weight="bold">0</tspan><tspan x="-702.92" y="81.90" font-family='"Liberation Sans",sans-serif' font-size="64" font-weight="bold">-</tspan><tspan x="-682.52" y="81.90" font-family='"Liberation Sans",sans-serif' font-size="64" font-weight="bold">3</tspan> <tspan x="-621.33" y="129.40" font-family='"Liberation Sans",sans-serif' font-size="97" font-weight="bold" textLength="27.78" lengthAdjust="spacingAndGlyphs">(</tspan><tspan x="-590.30" y="129.40" font-family='"Liberation Sans",sans-serif' font-size="97" font-weight="bold">M</tspan><tspan x="-509.02" y="81.90" font-family='"Liberation Sans",sans-serif' font-size="64" font-weight="bold">-</tspan><tspan x="-488.00" y="81.90" font-family='"Liberation Sans",sans-serif' font-size="64" font-weight="bold">1</tspan> <tspan x="-428.83" y="129.40" font-family='"Liberation Sans",sans-serif' font-size="97" font-weight="bold">cm</tspan><tspan x="-290.12" y="81.90" font-family='"Liberation Sans",sans-serif' font-size="64" font-weight="bold">-</tspan><tspan x="-268.50" y="81.90" font-family='"Liberation Sans",sans-serif' font-size="64" font-weight="bold">1</tspan><tspan x="-230.60" y="129.40" font-family='"Liberation Sans",sans-serif' font-size="97" font-weight="bold" textLength="27.78" lengthAdjust="spacingAndGlyphs">)</tspan></text>
<text transform="rotate(-90)" clip-path="url(#k9)"><tspan x="-542.41" y="969.97" font-family='"Liberation Serif",serif' font-size="51" stroke="#000" stroke-width="1.2">ε</tspan><tspan x="-518.72" y="986.65" font-family='"Liberation Sans",sans-serif' font-size="31" font-weight="bold">3</tspan><tspan x="-500.55" y="986.66" font-family='"Liberation Sans",sans-serif' font-size="31" font-weight="bold">1</tspan><tspan x="-484.15" y="986.67" font-family='"Liberation Sans",sans-serif' font-size="31" font-weight="bold">0</tspan> <tspan x="-450.66" y="969.92" font-family='"Liberation Sans",sans-serif' font-size="42" font-weight="bold" stroke="#000" stroke-width="1.5">×</tspan> <tspan x="-408.32" y="973.40" font-family='"Liberation Sans",sans-serif' font-size="50" font-weight="bold">1</tspan><tspan x="-381.72" y="973.40" font-family='"Liberation Sans",sans-serif' font-size="50" font-weight="bold">0</tspan><tspan x="-353.20" y="946.50" font-family='"Liberation Sans",sans-serif' font-size="31" font-weight="bold">-</tspan><tspan x="-342.32" y="946.50" font-family='"Liberation Sans",sans-serif' font-size="31" font-weight="bold">3</tspan> <tspan x="-309.91" y="968.20" font-family='"Liberation Sans",sans-serif' font-size="50" font-weight="bold" textLength="14.32" lengthAdjust="spacingAndGlyphs">(</tspan><tspan x="-294.18" y="968.20" font-family='"Liberation Sans",sans-serif' font-size="50" font-weight="bold">M</tspan><tspan x="-251.40" y="946.50" font-family='"Liberation Sans",sans-serif' font-size="31" font-weight="bold">-</tspan><tspan x="-240.45" y="946.50" font-family='"Liberation Sans",sans-serif' font-size="31" font-weight="bold">1</tspan> <tspan x="-209.16" y="968.20" font-family='"Liberation Sans",sans-serif' font-size="50" font-weight="bold">cm</tspan><tspan x="-136.30" y="946.50" font-family='"Liberation Sans",sans-serif' font-size="31" font-weight="bold">-</tspan><tspan x="-125.40" y="946.50" font-family='"Liberation Sans",sans-serif' font-size="31" font-weight="bold">1</tspan><tspan x="-106.41" y="968.20" font-family='"Liberation Sans",sans-serif' font-size="50" font-weight="bold" textLength="14.32" lengthAdjust="spacingAndGlyphs">)</tspan></text>
</g></svg></body></html>
